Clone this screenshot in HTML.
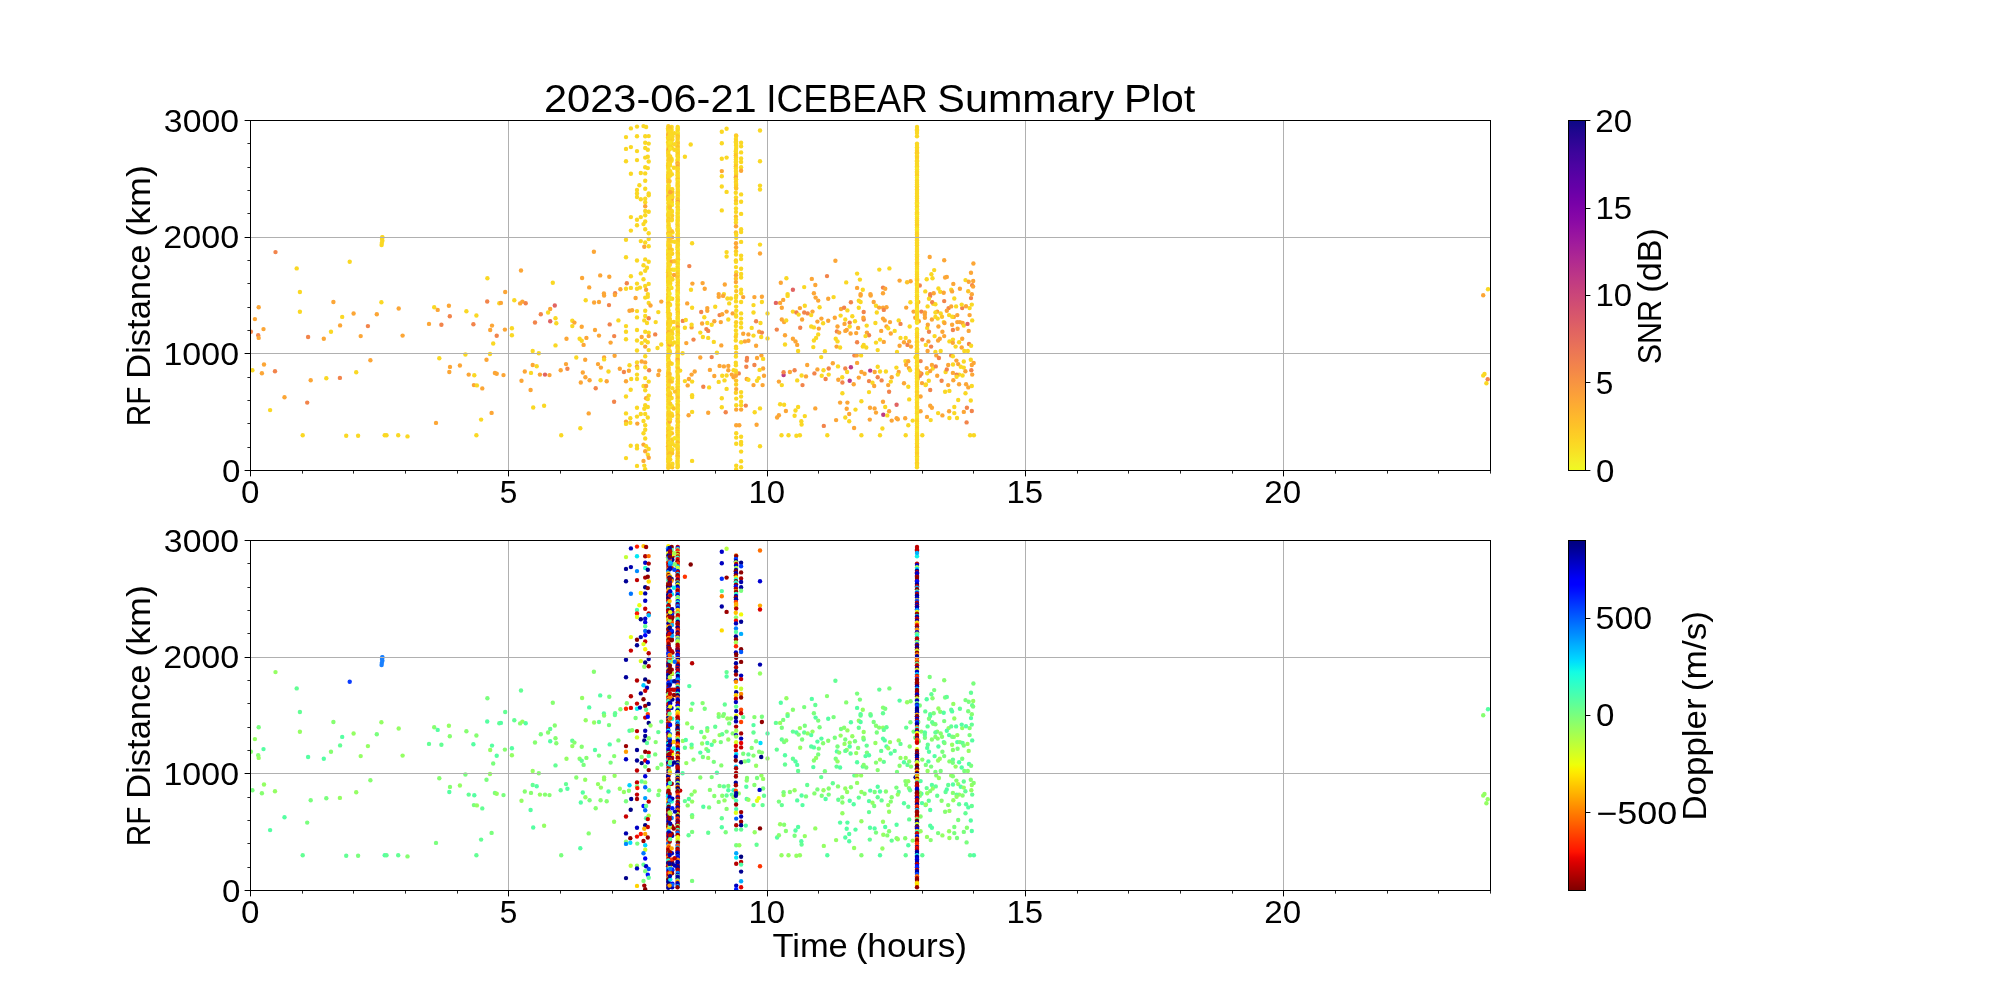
<!DOCTYPE html>
<html><head><meta charset="utf-8"><title>2023-06-21 ICEBEAR Summary Plot</title><style>html,body{margin:0;padding:0;background:#fff;width:2000px;height:1000px;overflow:hidden}</style></head><body>
<svg width="2000" height="1000" viewBox="0 0 2000 1000" style="display:block">
<rect width="2000" height="1000" fill="#fff"/>
<defs><clipPath id="clipTop"><rect x="250" y="120" width="1240" height="350"/></clipPath><clipPath id="clipBot"><rect x="250" y="540" width="1240" height="350"/></clipPath></defs>
<g clip-path="url(#clipTop)">
<circle cx="275.5" cy="252.1" r="2.2" fill="#f2844b"/>
<circle cx="296.7" cy="268.4" r="2.2" fill="#fad824"/>
<circle cx="349.7" cy="261.7" r="2.2" fill="#fad824"/>
<circle cx="382.4" cy="237.2" r="2.2" fill="#fad824"/>
<circle cx="382.4" cy="240.7" r="2.2" fill="#fad824"/>
<circle cx="381.6" cy="245.1" r="2.2" fill="#fad824"/>
<circle cx="487.4" cy="278.3" r="2.2" fill="#fad824"/>
<circle cx="299.9" cy="292.0" r="2.2" fill="#fad824"/>
<circle cx="258.7" cy="307.2" r="2.2" fill="#fca636"/>
<circle cx="254.9" cy="319.1" r="2.2" fill="#fca636"/>
<circle cx="263.5" cy="329.1" r="2.2" fill="#fca636"/>
<circle cx="250.9" cy="331.7" r="2.2" fill="#f2844b"/>
<circle cx="258.2" cy="335.2" r="2.2" fill="#f2844b"/>
<circle cx="258.7" cy="337.9" r="2.2" fill="#fca636"/>
<circle cx="299.9" cy="311.8" r="2.2" fill="#fad824"/>
<circle cx="333.4" cy="302.0" r="2.2" fill="#fca636"/>
<circle cx="308.1" cy="337.0" r="2.2" fill="#f2844b"/>
<circle cx="323.8" cy="338.7" r="2.2" fill="#fca636"/>
<circle cx="331.0" cy="331.7" r="2.2" fill="#fad824"/>
<circle cx="342.2" cy="316.9" r="2.2" fill="#fad824"/>
<circle cx="340.1" cy="325.4" r="2.2" fill="#fca636"/>
<circle cx="353.6" cy="313.5" r="2.2" fill="#fca636"/>
<circle cx="360.7" cy="336.1" r="2.2" fill="#fca636"/>
<circle cx="367.9" cy="326.1" r="2.2" fill="#f2844b"/>
<circle cx="376.8" cy="314.2" r="2.2" fill="#fca636"/>
<circle cx="381.4" cy="302.3" r="2.2" fill="#fad824"/>
<circle cx="398.7" cy="308.5" r="2.2" fill="#fca636"/>
<circle cx="402.6" cy="335.6" r="2.2" fill="#fca636"/>
<circle cx="429.0" cy="323.9" r="2.2" fill="#fca636"/>
<circle cx="434.2" cy="307.2" r="2.2" fill="#fad824"/>
<circle cx="437.7" cy="309.9" r="2.2" fill="#fca636"/>
<circle cx="441.4" cy="324.7" r="2.2" fill="#f2844b"/>
<circle cx="448.9" cy="305.8" r="2.2" fill="#fca636"/>
<circle cx="449.8" cy="316.2" r="2.2" fill="#f2844b"/>
<circle cx="466.4" cy="311.3" r="2.2" fill="#fad824"/>
<circle cx="473.4" cy="324.2" r="2.2" fill="#f2844b"/>
<circle cx="476.4" cy="315.5" r="2.2" fill="#fad824"/>
<circle cx="487.2" cy="301.5" r="2.2" fill="#f2844b"/>
<circle cx="492.0" cy="325.6" r="2.2" fill="#fca636"/>
<circle cx="490.2" cy="330.0" r="2.2" fill="#fca636"/>
<circle cx="496.7" cy="335.8" r="2.2" fill="#f2844b"/>
<circle cx="493.2" cy="343.5" r="2.2" fill="#fad824"/>
<circle cx="499.3" cy="303.2" r="2.2" fill="#fad824"/>
<circle cx="490.0" cy="354.0" r="2.2" fill="#fad824"/>
<circle cx="465.4" cy="354.5" r="2.2" fill="#fad824"/>
<circle cx="439.3" cy="358.3" r="2.2" fill="#fad824"/>
<circle cx="370.4" cy="360.3" r="2.2" fill="#fca636"/>
<circle cx="264.0" cy="364.5" r="2.2" fill="#fca636"/>
<circle cx="252.4" cy="370.2" r="2.2" fill="#fad824"/>
<circle cx="261.9" cy="373.2" r="2.2" fill="#fca636"/>
<circle cx="275.0" cy="371.3" r="2.2" fill="#f2844b"/>
<circle cx="310.7" cy="380.2" r="2.2" fill="#fca636"/>
<circle cx="326.3" cy="378.3" r="2.2" fill="#fad824"/>
<circle cx="339.9" cy="377.9" r="2.2" fill="#f2844b"/>
<circle cx="356.2" cy="372.2" r="2.2" fill="#fad824"/>
<circle cx="450.0" cy="366.9" r="2.2" fill="#fca636"/>
<circle cx="449.3" cy="372.0" r="2.2" fill="#fca636"/>
<circle cx="459.9" cy="365.5" r="2.2" fill="#fca636"/>
<circle cx="468.7" cy="374.6" r="2.2" fill="#fca636"/>
<circle cx="474.3" cy="375.3" r="2.2" fill="#fad824"/>
<circle cx="486.5" cy="359.7" r="2.2" fill="#fca636"/>
<circle cx="494.9" cy="373.0" r="2.2" fill="#fca636"/>
<circle cx="496.7" cy="373.7" r="2.2" fill="#fca636"/>
<circle cx="473.9" cy="385.1" r="2.2" fill="#fca636"/>
<circle cx="476.9" cy="385.4" r="2.2" fill="#fad824"/>
<circle cx="482.3" cy="388.4" r="2.2" fill="#fca636"/>
<circle cx="284.5" cy="397.3" r="2.2" fill="#fca636"/>
<circle cx="307.2" cy="402.6" r="2.2" fill="#f2844b"/>
<circle cx="270.1" cy="410.1" r="2.2" fill="#fad824"/>
<circle cx="491.6" cy="412.9" r="2.2" fill="#fca636"/>
<circle cx="481.1" cy="419.6" r="2.2" fill="#fad824"/>
<circle cx="436.0" cy="422.9" r="2.2" fill="#fca636"/>
<circle cx="302.7" cy="435.3" r="2.2" fill="#fad824"/>
<circle cx="346.2" cy="435.7" r="2.2" fill="#fad824"/>
<circle cx="358.1" cy="435.7" r="2.2" fill="#fad824"/>
<circle cx="384.7" cy="435.3" r="2.2" fill="#fad824"/>
<circle cx="386.5" cy="435.3" r="2.2" fill="#fad824"/>
<circle cx="398.2" cy="435.3" r="2.2" fill="#fad824"/>
<circle cx="407.5" cy="436.4" r="2.2" fill="#fad824"/>
<circle cx="476.4" cy="435.3" r="2.2" fill="#fad824"/>
<circle cx="521.0" cy="270.5" r="2.2" fill="#fca636"/>
<circle cx="505.2" cy="292.0" r="2.2" fill="#fca636"/>
<circle cx="552.8" cy="282.7" r="2.2" fill="#fad824"/>
<circle cx="582.1" cy="278.0" r="2.2" fill="#fca636"/>
<circle cx="593.9" cy="251.7" r="2.2" fill="#fca636"/>
<circle cx="589.2" cy="287.4" r="2.2" fill="#fca636"/>
<circle cx="600.2" cy="275.4" r="2.2" fill="#fca636"/>
<circle cx="609.3" cy="276.8" r="2.2" fill="#fca636"/>
<circle cx="603.9" cy="293.5" r="2.2" fill="#fca636"/>
<circle cx="615.1" cy="293.2" r="2.2" fill="#f2844b"/>
<circle cx="620.4" cy="289.3" r="2.2" fill="#fca636"/>
<circle cx="626.8" cy="283.2" r="2.2" fill="#f2844b"/>
<circle cx="626.0" cy="288.8" r="2.2" fill="#fad824"/>
<circle cx="630.9" cy="287.9" r="2.2" fill="#fad824"/>
<circle cx="626.0" cy="137.1" r="2.2" fill="#fad824"/>
<circle cx="626.0" cy="148.9" r="2.2" fill="#fad824"/>
<circle cx="626.0" cy="161.3" r="2.2" fill="#fad824"/>
<circle cx="626.0" cy="239.8" r="2.2" fill="#fad824"/>
<circle cx="626.0" cy="257.3" r="2.2" fill="#fad824"/>
<circle cx="630.9" cy="128.4" r="2.2" fill="#fad824"/>
<circle cx="630.9" cy="147.1" r="2.2" fill="#fad824"/>
<circle cx="630.9" cy="173.7" r="2.2" fill="#fad824"/>
<circle cx="630.9" cy="217.1" r="2.2" fill="#fad824"/>
<circle cx="630.9" cy="230.6" r="2.2" fill="#fad824"/>
<circle cx="630.9" cy="276.2" r="2.2" fill="#fad824"/>
<circle cx="637.0" cy="126.6" r="2.2" fill="#fad824"/>
<circle cx="637.0" cy="136.3" r="2.2" fill="#fad824"/>
<circle cx="637.0" cy="151.1" r="2.2" fill="#fad824"/>
<circle cx="637.0" cy="160.1" r="2.2" fill="#fad824"/>
<circle cx="639.4" cy="185.3" r="2.2" fill="#fad824"/>
<circle cx="637.0" cy="190.0" r="2.2" fill="#fad824"/>
<circle cx="637.0" cy="193.5" r="2.2" fill="#fad824"/>
<circle cx="637.0" cy="197.0" r="2.2" fill="#fad824"/>
<circle cx="637.0" cy="219.7" r="2.2" fill="#fad824"/>
<circle cx="637.0" cy="225.3" r="2.2" fill="#fad824"/>
<circle cx="637.0" cy="260.5" r="2.2" fill="#fad824"/>
<circle cx="637.0" cy="283.6" r="2.2" fill="#fad824"/>
<circle cx="637.0" cy="288.8" r="2.2" fill="#fad824"/>
<circle cx="640.8" cy="173.0" r="2.2" fill="#fad824"/>
<circle cx="640.8" cy="199.3" r="2.2" fill="#fad824"/>
<circle cx="640.8" cy="217.1" r="2.2" fill="#fad824"/>
<circle cx="640.8" cy="241.1" r="2.2" fill="#fad824"/>
<circle cx="640.8" cy="273.4" r="2.2" fill="#fad824"/>
<circle cx="640.0" cy="287.6" r="2.2" fill="#fad824"/>
<circle cx="643.5" cy="126.1" r="2.2" fill="#fad824"/>
<circle cx="646.1" cy="127.0" r="2.2" fill="#fad824"/>
<circle cx="645.2" cy="136.3" r="2.2" fill="#fad824"/>
<circle cx="648.7" cy="136.1" r="2.2" fill="#fad824"/>
<circle cx="645.2" cy="142.7" r="2.2" fill="#fad824"/>
<circle cx="648.7" cy="143.6" r="2.2" fill="#fad824"/>
<circle cx="645.2" cy="148.0" r="2.2" fill="#fad824"/>
<circle cx="647.8" cy="149.7" r="2.2" fill="#fad824"/>
<circle cx="645.2" cy="157.6" r="2.2" fill="#fad824"/>
<circle cx="647.8" cy="156.7" r="2.2" fill="#fad824"/>
<circle cx="648.7" cy="161.5" r="2.2" fill="#fad824"/>
<circle cx="645.2" cy="167.2" r="2.2" fill="#fad824"/>
<circle cx="647.8" cy="168.1" r="2.2" fill="#fad824"/>
<circle cx="645.2" cy="173.4" r="2.2" fill="#fad824"/>
<circle cx="645.2" cy="180.7" r="2.2" fill="#fad824"/>
<circle cx="645.2" cy="188.8" r="2.2" fill="#fad824"/>
<circle cx="648.7" cy="193.5" r="2.2" fill="#fad824"/>
<circle cx="648.7" cy="195.2" r="2.2" fill="#fad824"/>
<circle cx="645.2" cy="198.7" r="2.2" fill="#fad824"/>
<circle cx="645.2" cy="202.2" r="2.2" fill="#fad824"/>
<circle cx="645.2" cy="206.2" r="2.2" fill="#fca636"/>
<circle cx="645.2" cy="211.0" r="2.2" fill="#fad824"/>
<circle cx="648.7" cy="211.8" r="2.2" fill="#fad824"/>
<circle cx="645.2" cy="215.3" r="2.2" fill="#fad824"/>
<circle cx="645.2" cy="221.5" r="2.2" fill="#fad824"/>
<circle cx="643.5" cy="224.1" r="2.2" fill="#fad824"/>
<circle cx="645.2" cy="229.3" r="2.2" fill="#fad824"/>
<circle cx="648.7" cy="233.2" r="2.2" fill="#fad824"/>
<circle cx="648.7" cy="239.0" r="2.2" fill="#fad824"/>
<circle cx="645.2" cy="242.5" r="2.2" fill="#fad824"/>
<circle cx="644.3" cy="246.8" r="2.2" fill="#fca636"/>
<circle cx="648.7" cy="246.3" r="2.2" fill="#fad824"/>
<circle cx="643.5" cy="265.2" r="2.2" fill="#fad824"/>
<circle cx="645.2" cy="259.4" r="2.2" fill="#fad824"/>
<circle cx="648.7" cy="261.7" r="2.2" fill="#fad824"/>
<circle cx="647.0" cy="267.8" r="2.2" fill="#fad824"/>
<circle cx="645.2" cy="270.8" r="2.2" fill="#fad824"/>
<circle cx="643.5" cy="279.2" r="2.2" fill="#fad824"/>
<circle cx="648.7" cy="283.9" r="2.2" fill="#fad824"/>
<circle cx="645.2" cy="285.9" r="2.2" fill="#fad824"/>
<circle cx="646.1" cy="289.7" r="2.2" fill="#fca636"/>
<circle cx="647.8" cy="294.1" r="2.2" fill="#fad824"/>
<circle cx="690.7" cy="144.5" r="2.2" fill="#fad824"/>
<circle cx="684.9" cy="156.7" r="2.2" fill="#fad824"/>
<circle cx="692.1" cy="243.3" r="2.2" fill="#fad824"/>
<circle cx="689.3" cy="266.1" r="2.2" fill="#f2844b"/>
<circle cx="692.4" cy="283.6" r="2.2" fill="#fca636"/>
<circle cx="691.0" cy="289.7" r="2.2" fill="#fad824"/>
<circle cx="702.6" cy="283.1" r="2.2" fill="#fca636"/>
<circle cx="704.7" cy="288.8" r="2.2" fill="#fca636"/>
<circle cx="721.8" cy="131.7" r="2.2" fill="#fad824"/>
<circle cx="726.6" cy="128.7" r="2.2" fill="#fad824"/>
<circle cx="721.8" cy="143.3" r="2.2" fill="#fad824"/>
<circle cx="721.8" cy="158.7" r="2.2" fill="#fad824"/>
<circle cx="726.6" cy="157.6" r="2.2" fill="#fad824"/>
<circle cx="721.8" cy="171.1" r="2.2" fill="#fca636"/>
<circle cx="721.8" cy="176.2" r="2.2" fill="#fad824"/>
<circle cx="721.8" cy="186.5" r="2.2" fill="#fad824"/>
<circle cx="726.6" cy="191.9" r="2.2" fill="#fad824"/>
<circle cx="721.8" cy="210.4" r="2.2" fill="#fad824"/>
<circle cx="726.6" cy="252.1" r="2.2" fill="#fad824"/>
<circle cx="726.6" cy="256.5" r="2.2" fill="#fad824"/>
<circle cx="724.8" cy="284.5" r="2.2" fill="#fca636"/>
<circle cx="718.7" cy="294.1" r="2.2" fill="#fca636"/>
<circle cx="723.9" cy="294.1" r="2.2" fill="#fad824"/>
<circle cx="741.1" cy="142.7" r="2.2" fill="#fad824"/>
<circle cx="741.1" cy="146.2" r="2.2" fill="#fad824"/>
<circle cx="741.1" cy="152.4" r="2.2" fill="#fad824"/>
<circle cx="741.1" cy="158.5" r="2.2" fill="#fad824"/>
<circle cx="741.1" cy="162.0" r="2.2" fill="#fad824"/>
<circle cx="741.1" cy="167.2" r="2.2" fill="#fad824"/>
<circle cx="741.1" cy="170.7" r="2.2" fill="#fca636"/>
<circle cx="741.1" cy="194.4" r="2.2" fill="#fad824"/>
<circle cx="741.1" cy="201.7" r="2.2" fill="#fad824"/>
<circle cx="741.1" cy="213.9" r="2.2" fill="#fad824"/>
<circle cx="741.1" cy="229.3" r="2.2" fill="#fad824"/>
<circle cx="741.1" cy="232.0" r="2.2" fill="#fad824"/>
<circle cx="741.1" cy="241.9" r="2.2" fill="#fad824"/>
<circle cx="741.1" cy="255.6" r="2.2" fill="#fad824"/>
<circle cx="741.1" cy="259.1" r="2.2" fill="#fad824"/>
<circle cx="741.1" cy="268.7" r="2.2" fill="#fad824"/>
<circle cx="741.1" cy="274.0" r="2.2" fill="#fad824"/>
<circle cx="741.1" cy="277.5" r="2.2" fill="#fad824"/>
<circle cx="741.1" cy="289.7" r="2.2" fill="#fad824"/>
<circle cx="741.1" cy="293.2" r="2.2" fill="#fad824"/>
<circle cx="500.9" cy="302.9" r="2.2" fill="#fca636"/>
<circle cx="514.3" cy="300.2" r="2.2" fill="#fad824"/>
<circle cx="520.1" cy="303.4" r="2.2" fill="#fca636"/>
<circle cx="522.4" cy="301.6" r="2.2" fill="#fca636"/>
<circle cx="525.7" cy="303.2" r="2.2" fill="#f2844b"/>
<circle cx="554.8" cy="305.5" r="2.2" fill="#e16462"/>
<circle cx="550.2" cy="309.0" r="2.2" fill="#fca636"/>
<circle cx="548.1" cy="312.5" r="2.2" fill="#fad824"/>
<circle cx="540.8" cy="314.2" r="2.2" fill="#f2844b"/>
<circle cx="535.0" cy="322.5" r="2.2" fill="#f2844b"/>
<circle cx="550.2" cy="321.2" r="2.2" fill="#e16462"/>
<circle cx="555.5" cy="318.3" r="2.2" fill="#fad824"/>
<circle cx="556.3" cy="323.3" r="2.2" fill="#fad824"/>
<circle cx="504.9" cy="329.6" r="2.2" fill="#fca636"/>
<circle cx="511.9" cy="328.2" r="2.2" fill="#fad824"/>
<circle cx="511.9" cy="335.2" r="2.2" fill="#fad824"/>
<circle cx="555.5" cy="345.4" r="2.2" fill="#fad824"/>
<circle cx="532.7" cy="351.0" r="2.2" fill="#fad824"/>
<circle cx="538.8" cy="353.3" r="2.2" fill="#fad824"/>
<circle cx="585.7" cy="300.2" r="2.2" fill="#fad824"/>
<circle cx="594.1" cy="302.5" r="2.2" fill="#fca636"/>
<circle cx="599.0" cy="302.0" r="2.2" fill="#fca636"/>
<circle cx="604.1" cy="295.5" r="2.2" fill="#fca636"/>
<circle cx="609.0" cy="305.1" r="2.2" fill="#f2844b"/>
<circle cx="614.9" cy="295.0" r="2.2" fill="#fca636"/>
<circle cx="572.3" cy="320.7" r="2.2" fill="#fad824"/>
<circle cx="574.4" cy="322.6" r="2.2" fill="#fca636"/>
<circle cx="572.3" cy="326.1" r="2.2" fill="#fad824"/>
<circle cx="581.7" cy="326.8" r="2.2" fill="#fca636"/>
<circle cx="566.5" cy="338.7" r="2.2" fill="#fca636"/>
<circle cx="579.6" cy="338.7" r="2.2" fill="#fad824"/>
<circle cx="581.7" cy="340.8" r="2.2" fill="#fad824"/>
<circle cx="583.6" cy="344.9" r="2.2" fill="#fca636"/>
<circle cx="586.4" cy="337.9" r="2.2" fill="#fca636"/>
<circle cx="595.0" cy="330.0" r="2.2" fill="#fca636"/>
<circle cx="599.0" cy="335.6" r="2.2" fill="#fca636"/>
<circle cx="609.7" cy="324.4" r="2.2" fill="#f2844b"/>
<circle cx="614.2" cy="336.1" r="2.2" fill="#f2844b"/>
<circle cx="610.6" cy="342.6" r="2.2" fill="#fca636"/>
<circle cx="618.4" cy="320.4" r="2.2" fill="#fad824"/>
<circle cx="635.6" cy="298.0" r="2.2" fill="#fca636"/>
<circle cx="629.5" cy="310.7" r="2.2" fill="#fca636"/>
<circle cx="632.1" cy="310.2" r="2.2" fill="#fca636"/>
<circle cx="637.0" cy="311.1" r="2.2" fill="#fad824"/>
<circle cx="637.0" cy="317.4" r="2.2" fill="#fad824"/>
<circle cx="626.0" cy="326.1" r="2.2" fill="#fad824"/>
<circle cx="626.0" cy="331.7" r="2.2" fill="#fad824"/>
<circle cx="626.0" cy="339.3" r="2.2" fill="#fad824"/>
<circle cx="637.0" cy="330.0" r="2.2" fill="#fad824"/>
<circle cx="637.0" cy="340.5" r="2.2" fill="#fad824"/>
<circle cx="637.0" cy="350.5" r="2.2" fill="#fad824"/>
<circle cx="645.2" cy="297.6" r="2.2" fill="#fad824"/>
<circle cx="647.8" cy="296.7" r="2.2" fill="#fad824"/>
<circle cx="645.2" cy="310.7" r="2.2" fill="#fad824"/>
<circle cx="645.2" cy="316.0" r="2.2" fill="#fad824"/>
<circle cx="648.7" cy="302.9" r="2.2" fill="#fad824"/>
<circle cx="650.5" cy="305.5" r="2.2" fill="#fca636"/>
<circle cx="648.7" cy="318.3" r="2.2" fill="#f2844b"/>
<circle cx="644.3" cy="320.4" r="2.2" fill="#fad824"/>
<circle cx="647.0" cy="323.0" r="2.2" fill="#fad824"/>
<circle cx="645.2" cy="331.7" r="2.2" fill="#fad824"/>
<circle cx="648.7" cy="332.6" r="2.2" fill="#fad824"/>
<circle cx="641.7" cy="337.0" r="2.2" fill="#fca636"/>
<circle cx="648.7" cy="336.1" r="2.2" fill="#fca636"/>
<circle cx="645.2" cy="340.5" r="2.2" fill="#fad824"/>
<circle cx="647.8" cy="342.2" r="2.2" fill="#fad824"/>
<circle cx="641.7" cy="343.1" r="2.2" fill="#fad824"/>
<circle cx="645.2" cy="346.6" r="2.2" fill="#fca636"/>
<circle cx="648.7" cy="350.1" r="2.2" fill="#fad824"/>
<circle cx="661.3" cy="301.6" r="2.2" fill="#fca636"/>
<circle cx="658.3" cy="312.1" r="2.2" fill="#fad824"/>
<circle cx="655.7" cy="322.1" r="2.2" fill="#fad824"/>
<circle cx="655.2" cy="334.4" r="2.2" fill="#f2844b"/>
<circle cx="661.3" cy="344.5" r="2.2" fill="#fad824"/>
<circle cx="657.5" cy="348.0" r="2.2" fill="#fad824"/>
<circle cx="687.2" cy="303.4" r="2.2" fill="#fca636"/>
<circle cx="692.1" cy="307.8" r="2.2" fill="#fad824"/>
<circle cx="682.8" cy="320.9" r="2.2" fill="#f2844b"/>
<circle cx="685.8" cy="320.0" r="2.2" fill="#fad824"/>
<circle cx="684.9" cy="327.7" r="2.2" fill="#fad824"/>
<circle cx="691.6" cy="327.4" r="2.2" fill="#fca636"/>
<circle cx="691.6" cy="324.7" r="2.2" fill="#fad824"/>
<circle cx="686.3" cy="343.1" r="2.2" fill="#fca636"/>
<circle cx="693.5" cy="339.6" r="2.2" fill="#f2844b"/>
<circle cx="682.6" cy="353.3" r="2.2" fill="#fad824"/>
<circle cx="701.2" cy="312.0" r="2.2" fill="#f2844b"/>
<circle cx="707.3" cy="308.1" r="2.2" fill="#fca636"/>
<circle cx="707.3" cy="310.7" r="2.2" fill="#fca636"/>
<circle cx="704.3" cy="317.2" r="2.2" fill="#fad824"/>
<circle cx="702.1" cy="323.5" r="2.2" fill="#fca636"/>
<circle cx="707.3" cy="323.0" r="2.2" fill="#fad824"/>
<circle cx="711.7" cy="324.7" r="2.2" fill="#fad824"/>
<circle cx="714.3" cy="321.2" r="2.2" fill="#fca636"/>
<circle cx="715.2" cy="306.7" r="2.2" fill="#fad824"/>
<circle cx="706.4" cy="329.1" r="2.2" fill="#f2844b"/>
<circle cx="708.2" cy="330.9" r="2.2" fill="#f2844b"/>
<circle cx="700.3" cy="332.6" r="2.2" fill="#fad824"/>
<circle cx="702.9" cy="337.0" r="2.2" fill="#fad824"/>
<circle cx="708.2" cy="337.9" r="2.2" fill="#fad824"/>
<circle cx="713.8" cy="341.9" r="2.2" fill="#fad824"/>
<circle cx="721.3" cy="345.4" r="2.2" fill="#fca636"/>
<circle cx="718.7" cy="296.7" r="2.2" fill="#fca636"/>
<circle cx="723.1" cy="295.9" r="2.2" fill="#fca636"/>
<circle cx="727.4" cy="298.5" r="2.2" fill="#fad824"/>
<circle cx="729.2" cy="303.4" r="2.2" fill="#fad824"/>
<circle cx="719.6" cy="315.1" r="2.2" fill="#f2844b"/>
<circle cx="722.2" cy="314.2" r="2.2" fill="#fca636"/>
<circle cx="726.6" cy="311.6" r="2.2" fill="#fca636"/>
<circle cx="732.7" cy="313.4" r="2.2" fill="#fca636"/>
<circle cx="720.8" cy="322.1" r="2.2" fill="#fca636"/>
<circle cx="728.3" cy="319.5" r="2.2" fill="#fad824"/>
<circle cx="730.9" cy="298.5" r="2.2" fill="#fad824"/>
<circle cx="741.1" cy="302.0" r="2.2" fill="#fad824"/>
<circle cx="743.2" cy="297.1" r="2.2" fill="#fca636"/>
<circle cx="741.1" cy="313.4" r="2.2" fill="#fad824"/>
<circle cx="741.1" cy="318.6" r="2.2" fill="#fad824"/>
<circle cx="741.1" cy="323.0" r="2.2" fill="#fad824"/>
<circle cx="741.1" cy="327.4" r="2.2" fill="#fad824"/>
<circle cx="743.2" cy="333.8" r="2.2" fill="#fca636"/>
<circle cx="748.4" cy="334.4" r="2.2" fill="#fca636"/>
<circle cx="741.1" cy="342.2" r="2.2" fill="#fad824"/>
<circle cx="744.9" cy="341.4" r="2.2" fill="#fca636"/>
<circle cx="748.4" cy="340.8" r="2.2" fill="#fca636"/>
<circle cx="716.9" cy="352.7" r="2.2" fill="#fad824"/>
<circle cx="576.3" cy="357.5" r="2.2" fill="#fad824"/>
<circle cx="585.2" cy="359.7" r="2.2" fill="#fca636"/>
<circle cx="604.1" cy="357.5" r="2.2" fill="#fca636"/>
<circle cx="604.1" cy="359.4" r="2.2" fill="#fad824"/>
<circle cx="614.6" cy="355.7" r="2.2" fill="#fca636"/>
<circle cx="532.7" cy="365.0" r="2.2" fill="#fca636"/>
<circle cx="536.7" cy="366.2" r="2.2" fill="#fad824"/>
<circle cx="524.8" cy="371.5" r="2.2" fill="#fca636"/>
<circle cx="531.0" cy="372.9" r="2.2" fill="#fad824"/>
<circle cx="539.9" cy="374.6" r="2.2" fill="#fca636"/>
<circle cx="545.0" cy="374.6" r="2.2" fill="#e16462"/>
<circle cx="549.5" cy="375.1" r="2.2" fill="#fca636"/>
<circle cx="503.5" cy="375.1" r="2.2" fill="#fca636"/>
<circle cx="521.5" cy="380.7" r="2.2" fill="#fca636"/>
<circle cx="560.7" cy="370.2" r="2.2" fill="#fca636"/>
<circle cx="566.0" cy="364.1" r="2.2" fill="#fca636"/>
<circle cx="567.4" cy="368.8" r="2.2" fill="#f2844b"/>
<circle cx="582.8" cy="372.5" r="2.2" fill="#fca636"/>
<circle cx="585.4" cy="377.2" r="2.2" fill="#fca636"/>
<circle cx="589.6" cy="380.2" r="2.2" fill="#fca636"/>
<circle cx="580.8" cy="382.5" r="2.2" fill="#fca636"/>
<circle cx="598.0" cy="364.1" r="2.2" fill="#fca636"/>
<circle cx="600.9" cy="367.6" r="2.2" fill="#fca636"/>
<circle cx="608.5" cy="371.5" r="2.2" fill="#fad824"/>
<circle cx="600.6" cy="380.2" r="2.2" fill="#fad824"/>
<circle cx="606.7" cy="381.2" r="2.2" fill="#fca636"/>
<circle cx="595.7" cy="388.2" r="2.2" fill="#f2844b"/>
<circle cx="530.6" cy="390.0" r="2.2" fill="#fca636"/>
<circle cx="533.2" cy="407.5" r="2.2" fill="#fad824"/>
<circle cx="544.1" cy="405.7" r="2.2" fill="#fad824"/>
<circle cx="588.7" cy="413.4" r="2.2" fill="#fca636"/>
<circle cx="614.1" cy="401.7" r="2.2" fill="#f2844b"/>
<circle cx="580.3" cy="428.3" r="2.2" fill="#fad824"/>
<circle cx="561.2" cy="435.3" r="2.2" fill="#fad824"/>
<circle cx="619.8" cy="368.8" r="2.2" fill="#fca636"/>
<circle cx="623.9" cy="372.0" r="2.2" fill="#f2844b"/>
<circle cx="628.9" cy="370.8" r="2.2" fill="#fca636"/>
<circle cx="629.5" cy="365.3" r="2.2" fill="#fad824"/>
<circle cx="626.0" cy="381.2" r="2.2" fill="#fca636"/>
<circle cx="631.2" cy="379.0" r="2.2" fill="#fad824"/>
<circle cx="630.7" cy="389.8" r="2.2" fill="#fad824"/>
<circle cx="626.0" cy="396.5" r="2.2" fill="#fad824"/>
<circle cx="626.0" cy="413.4" r="2.2" fill="#fad824"/>
<circle cx="630.3" cy="418.3" r="2.2" fill="#fad824"/>
<circle cx="630.3" cy="422.7" r="2.2" fill="#fad824"/>
<circle cx="626.0" cy="421.8" r="2.2" fill="#fca636"/>
<circle cx="626.0" cy="423.9" r="2.2" fill="#fad824"/>
<circle cx="637.0" cy="362.4" r="2.2" fill="#fad824"/>
<circle cx="637.0" cy="366.4" r="2.2" fill="#fca636"/>
<circle cx="637.3" cy="368.1" r="2.2" fill="#fad824"/>
<circle cx="637.0" cy="374.6" r="2.2" fill="#fad824"/>
<circle cx="637.0" cy="379.0" r="2.2" fill="#fad824"/>
<circle cx="637.0" cy="407.8" r="2.2" fill="#fad824"/>
<circle cx="640.8" cy="414.0" r="2.2" fill="#fad824"/>
<circle cx="637.0" cy="416.6" r="2.2" fill="#fad824"/>
<circle cx="637.3" cy="423.6" r="2.2" fill="#fca636"/>
<circle cx="641.7" cy="361.5" r="2.2" fill="#fca636"/>
<circle cx="645.2" cy="362.4" r="2.2" fill="#fca636"/>
<circle cx="645.2" cy="356.2" r="2.2" fill="#fad824"/>
<circle cx="645.2" cy="367.3" r="2.2" fill="#fad824"/>
<circle cx="649.1" cy="370.2" r="2.2" fill="#f2844b"/>
<circle cx="645.2" cy="378.1" r="2.2" fill="#fad824"/>
<circle cx="648.7" cy="381.6" r="2.2" fill="#fad824"/>
<circle cx="643.5" cy="386.0" r="2.2" fill="#fad824"/>
<circle cx="646.1" cy="386.0" r="2.2" fill="#fca636"/>
<circle cx="645.2" cy="390.3" r="2.2" fill="#fad824"/>
<circle cx="648.7" cy="395.6" r="2.2" fill="#fad824"/>
<circle cx="646.1" cy="398.2" r="2.2" fill="#fca636"/>
<circle cx="647.8" cy="399.1" r="2.2" fill="#fad824"/>
<circle cx="645.2" cy="405.2" r="2.2" fill="#fad824"/>
<circle cx="647.8" cy="407.0" r="2.2" fill="#fad824"/>
<circle cx="644.3" cy="408.7" r="2.2" fill="#fad824"/>
<circle cx="645.2" cy="414.0" r="2.2" fill="#fad824"/>
<circle cx="647.8" cy="417.5" r="2.2" fill="#fad824"/>
<circle cx="643.5" cy="421.0" r="2.2" fill="#fad824"/>
<circle cx="645.2" cy="425.3" r="2.2" fill="#fad824"/>
<circle cx="645.2" cy="429.7" r="2.2" fill="#fad824"/>
<circle cx="643.5" cy="433.2" r="2.2" fill="#fad824"/>
<circle cx="645.2" cy="438.5" r="2.2" fill="#fad824"/>
<circle cx="643.5" cy="444.6" r="2.2" fill="#fca636"/>
<circle cx="646.1" cy="446.3" r="2.2" fill="#fad824"/>
<circle cx="648.7" cy="449.0" r="2.2" fill="#fad824"/>
<circle cx="645.2" cy="451.2" r="2.2" fill="#fca636"/>
<circle cx="647.8" cy="454.7" r="2.2" fill="#fad824"/>
<circle cx="648.7" cy="457.7" r="2.2" fill="#fca636"/>
<circle cx="643.5" cy="460.9" r="2.2" fill="#fca636"/>
<circle cx="644.3" cy="465.6" r="2.2" fill="#fad824"/>
<circle cx="645.2" cy="469.1" r="2.2" fill="#fad824"/>
<circle cx="630.7" cy="445.8" r="2.2" fill="#fad824"/>
<circle cx="637.0" cy="445.8" r="2.2" fill="#fad824"/>
<circle cx="637.0" cy="448.4" r="2.2" fill="#fad824"/>
<circle cx="626.0" cy="458.1" r="2.2" fill="#fad824"/>
<circle cx="637.0" cy="465.9" r="2.2" fill="#fad824"/>
<circle cx="659.2" cy="370.6" r="2.2" fill="#fca636"/>
<circle cx="658.3" cy="375.0" r="2.2" fill="#fca636"/>
<circle cx="680.2" cy="370.6" r="2.2" fill="#fad824"/>
<circle cx="684.9" cy="381.1" r="2.2" fill="#fad824"/>
<circle cx="688.9" cy="379.0" r="2.2" fill="#fca636"/>
<circle cx="691.6" cy="374.6" r="2.2" fill="#fca636"/>
<circle cx="694.7" cy="371.5" r="2.2" fill="#fca636"/>
<circle cx="687.7" cy="385.4" r="2.2" fill="#fca636"/>
<circle cx="692.1" cy="381.6" r="2.2" fill="#fad824"/>
<circle cx="692.1" cy="395.2" r="2.2" fill="#fad824"/>
<circle cx="692.1" cy="397.0" r="2.2" fill="#fad824"/>
<circle cx="688.6" cy="415.2" r="2.2" fill="#fca636"/>
<circle cx="692.1" cy="411.9" r="2.2" fill="#fad824"/>
<circle cx="692.1" cy="460.9" r="2.2" fill="#fad824"/>
<circle cx="700.3" cy="357.5" r="2.2" fill="#fca636"/>
<circle cx="711.7" cy="357.1" r="2.2" fill="#f2844b"/>
<circle cx="709.9" cy="369.9" r="2.2" fill="#fca636"/>
<circle cx="714.3" cy="376.0" r="2.2" fill="#fca636"/>
<circle cx="709.1" cy="387.4" r="2.2" fill="#fad824"/>
<circle cx="703.3" cy="386.8" r="2.2" fill="#f2844b"/>
<circle cx="708.2" cy="412.7" r="2.2" fill="#fca636"/>
<circle cx="719.6" cy="365.9" r="2.2" fill="#fca636"/>
<circle cx="723.9" cy="366.4" r="2.2" fill="#fca636"/>
<circle cx="728.3" cy="365.9" r="2.2" fill="#fca636"/>
<circle cx="728.3" cy="370.2" r="2.2" fill="#fca636"/>
<circle cx="733.6" cy="370.2" r="2.2" fill="#fad824"/>
<circle cx="722.2" cy="375.8" r="2.2" fill="#fad824"/>
<circle cx="726.6" cy="375.5" r="2.2" fill="#fad824"/>
<circle cx="731.8" cy="374.6" r="2.2" fill="#fca636"/>
<circle cx="733.6" cy="377.2" r="2.2" fill="#fca636"/>
<circle cx="738.8" cy="373.4" r="2.2" fill="#f2844b"/>
<circle cx="718.7" cy="381.9" r="2.2" fill="#fad824"/>
<circle cx="724.5" cy="380.4" r="2.2" fill="#fad824"/>
<circle cx="726.6" cy="388.9" r="2.2" fill="#fad824"/>
<circle cx="721.8" cy="398.2" r="2.2" fill="#fad824"/>
<circle cx="721.8" cy="407.3" r="2.2" fill="#fad824"/>
<circle cx="725.7" cy="412.2" r="2.2" fill="#f2844b"/>
<circle cx="736.2" cy="425.3" r="2.2" fill="#fca636"/>
<circle cx="739.3" cy="425.3" r="2.2" fill="#fca636"/>
<circle cx="736.2" cy="433.2" r="2.2" fill="#fad824"/>
<circle cx="736.2" cy="437.6" r="2.2" fill="#fad824"/>
<circle cx="736.2" cy="443.7" r="2.2" fill="#fad824"/>
<circle cx="741.1" cy="392.1" r="2.2" fill="#fad824"/>
<circle cx="741.1" cy="396.5" r="2.2" fill="#fad824"/>
<circle cx="741.1" cy="401.7" r="2.2" fill="#fad824"/>
<circle cx="741.1" cy="405.2" r="2.2" fill="#fad824"/>
<circle cx="741.1" cy="409.6" r="2.2" fill="#fca636"/>
<circle cx="736.2" cy="398.6" r="2.2" fill="#fad824"/>
<circle cx="736.2" cy="405.2" r="2.2" fill="#fad824"/>
<circle cx="736.2" cy="409.6" r="2.2" fill="#fca636"/>
<circle cx="741.1" cy="436.7" r="2.2" fill="#fad824"/>
<circle cx="741.1" cy="442.0" r="2.2" fill="#fad824"/>
<circle cx="741.1" cy="444.6" r="2.2" fill="#fad824"/>
<circle cx="741.1" cy="451.6" r="2.2" fill="#fad824"/>
<circle cx="741.1" cy="461.2" r="2.2" fill="#fad824"/>
<circle cx="741.1" cy="467.3" r="2.2" fill="#fad824"/>
<circle cx="736.2" cy="465.6" r="2.2" fill="#fad824"/>
<circle cx="736.2" cy="469.1" r="2.2" fill="#fad824"/>
<circle cx="747.0" cy="358.0" r="2.2" fill="#f2844b"/>
<circle cx="746.7" cy="360.6" r="2.2" fill="#f2844b"/>
<circle cx="746.3" cy="366.7" r="2.2" fill="#f2844b"/>
<circle cx="746.7" cy="379.0" r="2.2" fill="#fca636"/>
<circle cx="745.8" cy="405.6" r="2.2" fill="#f2844b"/>
<circle cx="748.4" cy="379.8" r="2.2" fill="#fad824"/>
<circle cx="760.0" cy="130.5" r="2.2" fill="#fad824"/>
<circle cx="760.0" cy="161.3" r="2.2" fill="#fad824"/>
<circle cx="760.0" cy="185.6" r="2.2" fill="#fad824"/>
<circle cx="760.0" cy="189.5" r="2.2" fill="#fad824"/>
<circle cx="760.0" cy="244.6" r="2.2" fill="#fad824"/>
<circle cx="760.0" cy="253.5" r="2.2" fill="#fca636"/>
<circle cx="835.4" cy="260.8" r="2.2" fill="#fca636"/>
<circle cx="879.3" cy="269.6" r="2.2" fill="#fad824"/>
<circle cx="889.4" cy="268.4" r="2.2" fill="#fad824"/>
<circle cx="857.1" cy="273.6" r="2.2" fill="#fad824"/>
<circle cx="859.9" cy="279.6" r="2.2" fill="#fad824"/>
<circle cx="827.0" cy="276.1" r="2.2" fill="#f2844b"/>
<circle cx="811.8" cy="278.9" r="2.2" fill="#fca636"/>
<circle cx="815.3" cy="285.0" r="2.2" fill="#fca636"/>
<circle cx="786.4" cy="278.3" r="2.2" fill="#fad824"/>
<circle cx="780.8" cy="282.7" r="2.2" fill="#fca636"/>
<circle cx="804.2" cy="287.1" r="2.2" fill="#fad824"/>
<circle cx="792.9" cy="289.7" r="2.2" fill="#e16462"/>
<circle cx="846.2" cy="282.4" r="2.2" fill="#fad824"/>
<circle cx="857.1" cy="287.9" r="2.2" fill="#fca636"/>
<circle cx="862.8" cy="289.7" r="2.2" fill="#fad824"/>
<circle cx="883.0" cy="287.6" r="2.2" fill="#f2844b"/>
<circle cx="885.2" cy="288.8" r="2.2" fill="#fca636"/>
<circle cx="899.6" cy="280.6" r="2.2" fill="#fca636"/>
<circle cx="910.6" cy="281.3" r="2.2" fill="#fca636"/>
<circle cx="813.9" cy="293.2" r="2.2" fill="#fca636"/>
<circle cx="787.6" cy="294.1" r="2.2" fill="#fad824"/>
<circle cx="860.6" cy="294.1" r="2.2" fill="#fca636"/>
<circle cx="870.4" cy="294.1" r="2.2" fill="#fca636"/>
<circle cx="883.0" cy="293.2" r="2.2" fill="#fca636"/>
<circle cx="929.7" cy="257.0" r="2.2" fill="#fca636"/>
<circle cx="944.2" cy="260.3" r="2.2" fill="#fca636"/>
<circle cx="973.4" cy="263.5" r="2.2" fill="#fca636"/>
<circle cx="934.2" cy="270.1" r="2.2" fill="#fad824"/>
<circle cx="931.4" cy="274.3" r="2.2" fill="#fad824"/>
<circle cx="932.5" cy="278.3" r="2.2" fill="#fad824"/>
<circle cx="926.7" cy="279.2" r="2.2" fill="#fad824"/>
<circle cx="945.1" cy="277.5" r="2.2" fill="#fca636"/>
<circle cx="946.8" cy="276.9" r="2.2" fill="#fca636"/>
<circle cx="971.0" cy="272.7" r="2.2" fill="#fca636"/>
<circle cx="953.3" cy="283.9" r="2.2" fill="#fca636"/>
<circle cx="965.5" cy="280.1" r="2.2" fill="#fad824"/>
<circle cx="968.7" cy="281.8" r="2.2" fill="#fca636"/>
<circle cx="972.2" cy="285.3" r="2.2" fill="#f2844b"/>
<circle cx="973.1" cy="286.6" r="2.2" fill="#fca636"/>
<circle cx="925.3" cy="291.4" r="2.2" fill="#fad824"/>
<circle cx="930.2" cy="294.1" r="2.2" fill="#f2844b"/>
<circle cx="933.7" cy="293.2" r="2.2" fill="#fca636"/>
<circle cx="938.4" cy="288.5" r="2.2" fill="#fad824"/>
<circle cx="940.2" cy="291.8" r="2.2" fill="#fad824"/>
<circle cx="943.7" cy="292.8" r="2.2" fill="#fca636"/>
<circle cx="951.2" cy="289.7" r="2.2" fill="#fad824"/>
<circle cx="952.1" cy="291.4" r="2.2" fill="#fca636"/>
<circle cx="959.9" cy="288.8" r="2.2" fill="#fca636"/>
<circle cx="754.4" cy="297.1" r="2.2" fill="#fca636"/>
<circle cx="761.9" cy="296.7" r="2.2" fill="#fca636"/>
<circle cx="761.9" cy="302.0" r="2.2" fill="#fad824"/>
<circle cx="753.5" cy="305.1" r="2.2" fill="#fad824"/>
<circle cx="753.5" cy="312.5" r="2.2" fill="#fad824"/>
<circle cx="767.5" cy="313.4" r="2.2" fill="#fad824"/>
<circle cx="775.9" cy="302.9" r="2.2" fill="#e16462"/>
<circle cx="780.1" cy="302.9" r="2.2" fill="#fca636"/>
<circle cx="783.2" cy="299.9" r="2.2" fill="#fca636"/>
<circle cx="787.6" cy="295.9" r="2.2" fill="#fad824"/>
<circle cx="781.8" cy="307.8" r="2.2" fill="#fca636"/>
<circle cx="792.9" cy="311.6" r="2.2" fill="#fad824"/>
<circle cx="796.4" cy="312.5" r="2.2" fill="#f2844b"/>
<circle cx="798.6" cy="314.6" r="2.2" fill="#fad824"/>
<circle cx="799.9" cy="308.1" r="2.2" fill="#fca636"/>
<circle cx="804.8" cy="305.8" r="2.2" fill="#fad824"/>
<circle cx="804.2" cy="312.5" r="2.2" fill="#f2844b"/>
<circle cx="807.7" cy="313.4" r="2.2" fill="#f2844b"/>
<circle cx="812.5" cy="311.6" r="2.2" fill="#fca636"/>
<circle cx="811.2" cy="315.1" r="2.2" fill="#fad824"/>
<circle cx="815.6" cy="297.6" r="2.2" fill="#fca636"/>
<circle cx="818.2" cy="300.6" r="2.2" fill="#fca636"/>
<circle cx="819.6" cy="307.2" r="2.2" fill="#fad824"/>
<circle cx="828.2" cy="298.8" r="2.2" fill="#fca636"/>
<circle cx="833.6" cy="297.1" r="2.2" fill="#fad824"/>
<circle cx="841.0" cy="309.0" r="2.2" fill="#fca636"/>
<circle cx="844.1" cy="307.8" r="2.2" fill="#f2844b"/>
<circle cx="847.4" cy="310.4" r="2.2" fill="#fad824"/>
<circle cx="850.9" cy="302.3" r="2.2" fill="#f2844b"/>
<circle cx="858.8" cy="300.8" r="2.2" fill="#fad824"/>
<circle cx="860.6" cy="302.0" r="2.2" fill="#fad824"/>
<circle cx="858.8" cy="307.8" r="2.2" fill="#fad824"/>
<circle cx="863.7" cy="312.0" r="2.2" fill="#f2844b"/>
<circle cx="873.7" cy="302.0" r="2.2" fill="#fca636"/>
<circle cx="876.0" cy="305.8" r="2.2" fill="#fad824"/>
<circle cx="879.1" cy="307.6" r="2.2" fill="#fca636"/>
<circle cx="883.0" cy="307.6" r="2.2" fill="#fca636"/>
<circle cx="886.5" cy="307.2" r="2.2" fill="#fca636"/>
<circle cx="883.8" cy="309.9" r="2.2" fill="#f2844b"/>
<circle cx="876.8" cy="312.5" r="2.2" fill="#fad824"/>
<circle cx="870.7" cy="295.5" r="2.2" fill="#fca636"/>
<circle cx="860.6" cy="295.5" r="2.2" fill="#fca636"/>
<circle cx="906.2" cy="307.6" r="2.2" fill="#fca636"/>
<circle cx="910.4" cy="302.3" r="2.2" fill="#fad824"/>
<circle cx="913.6" cy="311.6" r="2.2" fill="#fca636"/>
<circle cx="918.3" cy="302.0" r="2.2" fill="#fca636"/>
<circle cx="921.4" cy="311.6" r="2.2" fill="#f2844b"/>
<circle cx="924.9" cy="312.5" r="2.2" fill="#fca636"/>
<circle cx="930.2" cy="295.9" r="2.2" fill="#f2844b"/>
<circle cx="927.6" cy="306.4" r="2.2" fill="#fad824"/>
<circle cx="929.0" cy="298.8" r="2.2" fill="#fad824"/>
<circle cx="933.2" cy="303.7" r="2.2" fill="#fad824"/>
<circle cx="937.2" cy="311.6" r="2.2" fill="#fca636"/>
<circle cx="944.2" cy="301.1" r="2.2" fill="#f2844b"/>
<circle cx="948.6" cy="308.1" r="2.2" fill="#f2844b"/>
<circle cx="951.2" cy="306.4" r="2.2" fill="#fca636"/>
<circle cx="954.3" cy="298.5" r="2.2" fill="#fad824"/>
<circle cx="956.1" cy="306.4" r="2.2" fill="#fad824"/>
<circle cx="962.2" cy="308.1" r="2.2" fill="#f2844b"/>
<circle cx="961.7" cy="304.6" r="2.2" fill="#fad824"/>
<circle cx="969.6" cy="308.1" r="2.2" fill="#fad824"/>
<circle cx="971.0" cy="298.1" r="2.2" fill="#f2844b"/>
<circle cx="971.8" cy="304.6" r="2.2" fill="#fad824"/>
<circle cx="935.4" cy="312.5" r="2.2" fill="#fad824"/>
<circle cx="940.7" cy="313.4" r="2.2" fill="#fad824"/>
<circle cx="946.8" cy="310.7" r="2.2" fill="#fca636"/>
<circle cx="756.1" cy="321.2" r="2.2" fill="#f2844b"/>
<circle cx="760.5" cy="323.0" r="2.2" fill="#fad824"/>
<circle cx="751.7" cy="327.9" r="2.2" fill="#fad824"/>
<circle cx="759.1" cy="331.7" r="2.2" fill="#fca636"/>
<circle cx="761.9" cy="332.6" r="2.2" fill="#f2844b"/>
<circle cx="753.5" cy="335.6" r="2.2" fill="#fad824"/>
<circle cx="761.2" cy="337.0" r="2.2" fill="#fad824"/>
<circle cx="767.5" cy="338.4" r="2.2" fill="#fad824"/>
<circle cx="781.8" cy="319.5" r="2.2" fill="#fca636"/>
<circle cx="784.1" cy="322.1" r="2.2" fill="#fca636"/>
<circle cx="786.2" cy="320.4" r="2.2" fill="#fad824"/>
<circle cx="776.8" cy="329.6" r="2.2" fill="#f2844b"/>
<circle cx="785.0" cy="335.2" r="2.2" fill="#fca636"/>
<circle cx="802.1" cy="319.5" r="2.2" fill="#fca636"/>
<circle cx="800.2" cy="327.7" r="2.2" fill="#f2844b"/>
<circle cx="811.2" cy="326.5" r="2.2" fill="#fad824"/>
<circle cx="813.9" cy="327.4" r="2.2" fill="#fad824"/>
<circle cx="817.4" cy="321.6" r="2.2" fill="#fca636"/>
<circle cx="818.8" cy="328.6" r="2.2" fill="#fca636"/>
<circle cx="821.4" cy="318.6" r="2.2" fill="#fca636"/>
<circle cx="823.1" cy="323.3" r="2.2" fill="#fad824"/>
<circle cx="828.2" cy="320.7" r="2.2" fill="#fca636"/>
<circle cx="834.8" cy="317.7" r="2.2" fill="#fca636"/>
<circle cx="840.6" cy="315.6" r="2.2" fill="#fad824"/>
<circle cx="837.5" cy="326.5" r="2.2" fill="#fca636"/>
<circle cx="836.9" cy="331.4" r="2.2" fill="#f2844b"/>
<circle cx="844.5" cy="323.9" r="2.2" fill="#fca636"/>
<circle cx="845.3" cy="319.5" r="2.2" fill="#fad824"/>
<circle cx="849.7" cy="322.6" r="2.2" fill="#f2844b"/>
<circle cx="849.7" cy="326.5" r="2.2" fill="#fad824"/>
<circle cx="846.7" cy="330.0" r="2.2" fill="#fca636"/>
<circle cx="852.3" cy="316.3" r="2.2" fill="#fad824"/>
<circle cx="855.0" cy="321.2" r="2.2" fill="#fad824"/>
<circle cx="858.1" cy="327.9" r="2.2" fill="#fca636"/>
<circle cx="856.2" cy="333.1" r="2.2" fill="#fca636"/>
<circle cx="863.7" cy="319.5" r="2.2" fill="#f2844b"/>
<circle cx="863.4" cy="317.7" r="2.2" fill="#fca636"/>
<circle cx="866.7" cy="325.6" r="2.2" fill="#fad824"/>
<circle cx="866.9" cy="332.6" r="2.2" fill="#fca636"/>
<circle cx="869.0" cy="335.2" r="2.2" fill="#f2844b"/>
<circle cx="875.4" cy="323.0" r="2.2" fill="#fad824"/>
<circle cx="881.2" cy="330.9" r="2.2" fill="#fca636"/>
<circle cx="883.0" cy="318.6" r="2.2" fill="#fca636"/>
<circle cx="884.7" cy="320.4" r="2.2" fill="#fca636"/>
<circle cx="886.5" cy="326.5" r="2.2" fill="#fca636"/>
<circle cx="888.2" cy="328.2" r="2.2" fill="#fad824"/>
<circle cx="890.0" cy="322.1" r="2.2" fill="#fca636"/>
<circle cx="890.8" cy="333.5" r="2.2" fill="#fca636"/>
<circle cx="894.7" cy="330.9" r="2.2" fill="#fad824"/>
<circle cx="898.7" cy="320.4" r="2.2" fill="#fad824"/>
<circle cx="900.5" cy="323.9" r="2.2" fill="#f2844b"/>
<circle cx="909.7" cy="326.5" r="2.2" fill="#fad824"/>
<circle cx="915.3" cy="317.7" r="2.2" fill="#fca636"/>
<circle cx="918.8" cy="321.2" r="2.2" fill="#fca636"/>
<circle cx="924.9" cy="317.7" r="2.2" fill="#fca636"/>
<circle cx="927.2" cy="327.9" r="2.2" fill="#fad824"/>
<circle cx="929.0" cy="331.7" r="2.2" fill="#f2844b"/>
<circle cx="931.9" cy="319.5" r="2.2" fill="#fca636"/>
<circle cx="935.4" cy="316.9" r="2.2" fill="#fad824"/>
<circle cx="938.4" cy="326.5" r="2.2" fill="#fca636"/>
<circle cx="937.7" cy="318.6" r="2.2" fill="#fad824"/>
<circle cx="942.4" cy="331.7" r="2.2" fill="#fca636"/>
<circle cx="943.8" cy="322.1" r="2.2" fill="#fad824"/>
<circle cx="949.1" cy="315.1" r="2.2" fill="#fad824"/>
<circle cx="952.1" cy="324.7" r="2.2" fill="#fca636"/>
<circle cx="952.9" cy="330.0" r="2.2" fill="#f2844b"/>
<circle cx="953.8" cy="316.9" r="2.2" fill="#fca636"/>
<circle cx="957.3" cy="315.1" r="2.2" fill="#fca636"/>
<circle cx="957.3" cy="322.1" r="2.2" fill="#fca636"/>
<circle cx="959.9" cy="322.1" r="2.2" fill="#fca636"/>
<circle cx="962.6" cy="323.0" r="2.2" fill="#fca636"/>
<circle cx="963.8" cy="325.6" r="2.2" fill="#fad824"/>
<circle cx="967.5" cy="323.9" r="2.2" fill="#e16462"/>
<circle cx="969.6" cy="315.1" r="2.2" fill="#fca636"/>
<circle cx="968.7" cy="330.9" r="2.2" fill="#fca636"/>
<circle cx="972.2" cy="320.4" r="2.2" fill="#fad824"/>
<circle cx="756.1" cy="345.7" r="2.2" fill="#fca636"/>
<circle cx="785.0" cy="344.5" r="2.2" fill="#fad824"/>
<circle cx="792.9" cy="338.7" r="2.2" fill="#fca636"/>
<circle cx="795.5" cy="341.4" r="2.2" fill="#fca636"/>
<circle cx="797.2" cy="344.9" r="2.2" fill="#fca636"/>
<circle cx="798.1" cy="351.0" r="2.2" fill="#fad824"/>
<circle cx="813.9" cy="340.5" r="2.2" fill="#fad824"/>
<circle cx="816.1" cy="337.9" r="2.2" fill="#fad824"/>
<circle cx="818.2" cy="334.4" r="2.2" fill="#fad824"/>
<circle cx="813.3" cy="347.1" r="2.2" fill="#fad824"/>
<circle cx="824.9" cy="351.3" r="2.2" fill="#fad824"/>
<circle cx="835.7" cy="338.7" r="2.2" fill="#fad824"/>
<circle cx="837.5" cy="341.4" r="2.2" fill="#fad824"/>
<circle cx="836.6" cy="346.6" r="2.2" fill="#fca636"/>
<circle cx="840.1" cy="347.5" r="2.2" fill="#fad824"/>
<circle cx="839.2" cy="332.6" r="2.2" fill="#fca636"/>
<circle cx="845.3" cy="330.9" r="2.2" fill="#fca636"/>
<circle cx="850.6" cy="333.5" r="2.2" fill="#fca636"/>
<circle cx="857.1" cy="342.2" r="2.2" fill="#f2844b"/>
<circle cx="862.8" cy="346.6" r="2.2" fill="#fad824"/>
<circle cx="863.7" cy="344.9" r="2.2" fill="#fad824"/>
<circle cx="866.3" cy="347.5" r="2.2" fill="#fad824"/>
<circle cx="865.5" cy="336.1" r="2.2" fill="#fad824"/>
<circle cx="876.0" cy="342.6" r="2.2" fill="#fad824"/>
<circle cx="880.0" cy="339.6" r="2.2" fill="#fad824"/>
<circle cx="883.8" cy="341.9" r="2.2" fill="#fca636"/>
<circle cx="877.7" cy="350.1" r="2.2" fill="#fad824"/>
<circle cx="897.0" cy="351.9" r="2.2" fill="#fad824"/>
<circle cx="899.6" cy="345.7" r="2.2" fill="#fca636"/>
<circle cx="900.5" cy="337.9" r="2.2" fill="#fad824"/>
<circle cx="904.0" cy="342.2" r="2.2" fill="#fca636"/>
<circle cx="905.7" cy="337.9" r="2.2" fill="#fad824"/>
<circle cx="907.5" cy="344.9" r="2.2" fill="#f2844b"/>
<circle cx="909.2" cy="341.4" r="2.2" fill="#fca636"/>
<circle cx="911.0" cy="346.6" r="2.2" fill="#fca636"/>
<circle cx="925.8" cy="344.9" r="2.2" fill="#fad824"/>
<circle cx="922.3" cy="339.6" r="2.2" fill="#f2844b"/>
<circle cx="928.4" cy="341.4" r="2.2" fill="#fca636"/>
<circle cx="931.1" cy="346.6" r="2.2" fill="#f2844b"/>
<circle cx="927.6" cy="351.0" r="2.2" fill="#fca636"/>
<circle cx="934.6" cy="336.1" r="2.2" fill="#fad824"/>
<circle cx="938.1" cy="340.5" r="2.2" fill="#fca636"/>
<circle cx="939.8" cy="338.7" r="2.2" fill="#fca636"/>
<circle cx="944.2" cy="336.1" r="2.2" fill="#fca636"/>
<circle cx="949.4" cy="341.4" r="2.2" fill="#fad824"/>
<circle cx="952.9" cy="339.6" r="2.2" fill="#fad824"/>
<circle cx="955.6" cy="346.6" r="2.2" fill="#fad824"/>
<circle cx="959.1" cy="342.2" r="2.2" fill="#fad824"/>
<circle cx="962.2" cy="338.7" r="2.2" fill="#fca636"/>
<circle cx="961.7" cy="347.5" r="2.2" fill="#fca636"/>
<circle cx="964.3" cy="351.0" r="2.2" fill="#fad824"/>
<circle cx="967.8" cy="351.0" r="2.2" fill="#fad824"/>
<circle cx="969.0" cy="344.0" r="2.2" fill="#f2844b"/>
<circle cx="935.4" cy="351.9" r="2.2" fill="#fad824"/>
<circle cx="940.7" cy="351.0" r="2.2" fill="#fad824"/>
<circle cx="757.0" cy="358.0" r="2.2" fill="#fca636"/>
<circle cx="761.4" cy="355.4" r="2.2" fill="#fca636"/>
<circle cx="763.1" cy="358.9" r="2.2" fill="#fad824"/>
<circle cx="754.4" cy="365.0" r="2.2" fill="#f2844b"/>
<circle cx="763.1" cy="368.5" r="2.2" fill="#fca636"/>
<circle cx="759.6" cy="369.9" r="2.2" fill="#fad824"/>
<circle cx="764.0" cy="375.8" r="2.2" fill="#fca636"/>
<circle cx="758.7" cy="378.1" r="2.2" fill="#fad824"/>
<circle cx="757.0" cy="380.7" r="2.2" fill="#fad824"/>
<circle cx="753.5" cy="385.1" r="2.2" fill="#fca636"/>
<circle cx="762.6" cy="385.1" r="2.2" fill="#fca636"/>
<circle cx="783.6" cy="375.1" r="2.2" fill="#bd3a85"/>
<circle cx="783.6" cy="372.3" r="2.2" fill="#f2844b"/>
<circle cx="778.9" cy="381.6" r="2.2" fill="#fca636"/>
<circle cx="781.8" cy="385.1" r="2.2" fill="#fad824"/>
<circle cx="789.9" cy="372.0" r="2.2" fill="#fca636"/>
<circle cx="794.6" cy="370.2" r="2.2" fill="#f2844b"/>
<circle cx="797.2" cy="380.4" r="2.2" fill="#fad824"/>
<circle cx="801.6" cy="375.5" r="2.2" fill="#fad824"/>
<circle cx="806.0" cy="376.4" r="2.2" fill="#fca636"/>
<circle cx="802.5" cy="385.1" r="2.2" fill="#f2844b"/>
<circle cx="807.2" cy="365.0" r="2.2" fill="#fca636"/>
<circle cx="814.4" cy="373.4" r="2.2" fill="#f2844b"/>
<circle cx="817.4" cy="369.4" r="2.2" fill="#fca636"/>
<circle cx="821.7" cy="375.8" r="2.2" fill="#fad824"/>
<circle cx="823.5" cy="370.2" r="2.2" fill="#fad824"/>
<circle cx="828.7" cy="368.5" r="2.2" fill="#f2844b"/>
<circle cx="828.7" cy="374.6" r="2.2" fill="#fad824"/>
<circle cx="825.6" cy="379.0" r="2.2" fill="#f2844b"/>
<circle cx="821.2" cy="357.1" r="2.2" fill="#fad824"/>
<circle cx="832.8" cy="363.2" r="2.2" fill="#fca636"/>
<circle cx="838.0" cy="366.4" r="2.2" fill="#fad824"/>
<circle cx="838.3" cy="379.8" r="2.2" fill="#fca636"/>
<circle cx="842.4" cy="382.5" r="2.2" fill="#f2844b"/>
<circle cx="842.2" cy="377.2" r="2.2" fill="#fad824"/>
<circle cx="845.3" cy="368.5" r="2.2" fill="#f2844b"/>
<circle cx="847.1" cy="372.0" r="2.2" fill="#fad824"/>
<circle cx="850.9" cy="367.3" r="2.2" fill="#bd3a85"/>
<circle cx="849.7" cy="380.7" r="2.2" fill="#bd3a85"/>
<circle cx="853.7" cy="384.2" r="2.2" fill="#fca636"/>
<circle cx="854.4" cy="355.4" r="2.2" fill="#f2844b"/>
<circle cx="856.7" cy="355.4" r="2.2" fill="#fca636"/>
<circle cx="861.1" cy="355.4" r="2.2" fill="#fad824"/>
<circle cx="857.1" cy="362.9" r="2.2" fill="#fca636"/>
<circle cx="858.8" cy="377.6" r="2.2" fill="#fca636"/>
<circle cx="861.4" cy="372.0" r="2.2" fill="#fca636"/>
<circle cx="864.6" cy="373.7" r="2.2" fill="#fca636"/>
<circle cx="870.2" cy="370.6" r="2.2" fill="#bd3a85"/>
<circle cx="869.0" cy="381.1" r="2.2" fill="#f2844b"/>
<circle cx="872.5" cy="382.8" r="2.2" fill="#fad824"/>
<circle cx="874.7" cy="372.0" r="2.2" fill="#fca636"/>
<circle cx="874.2" cy="386.0" r="2.2" fill="#fca636"/>
<circle cx="877.7" cy="366.7" r="2.2" fill="#fad824"/>
<circle cx="880.0" cy="371.5" r="2.2" fill="#fad824"/>
<circle cx="877.7" cy="377.2" r="2.2" fill="#f2844b"/>
<circle cx="881.6" cy="380.4" r="2.2" fill="#f2844b"/>
<circle cx="885.9" cy="371.5" r="2.2" fill="#fad824"/>
<circle cx="888.2" cy="385.1" r="2.2" fill="#fca636"/>
<circle cx="890.8" cy="381.6" r="2.2" fill="#fad824"/>
<circle cx="891.7" cy="377.2" r="2.2" fill="#fca636"/>
<circle cx="896.4" cy="367.6" r="2.2" fill="#fad824"/>
<circle cx="898.7" cy="372.0" r="2.2" fill="#fca636"/>
<circle cx="897.8" cy="374.6" r="2.2" fill="#fad824"/>
<circle cx="889.1" cy="391.7" r="2.2" fill="#f2844b"/>
<circle cx="904.0" cy="383.3" r="2.2" fill="#fca636"/>
<circle cx="905.4" cy="361.1" r="2.2" fill="#fad824"/>
<circle cx="908.9" cy="368.1" r="2.2" fill="#fca636"/>
<circle cx="910.1" cy="370.2" r="2.2" fill="#fad824"/>
<circle cx="908.3" cy="386.8" r="2.2" fill="#fad824"/>
<circle cx="920.6" cy="361.1" r="2.2" fill="#f2844b"/>
<circle cx="921.4" cy="373.7" r="2.2" fill="#f2844b"/>
<circle cx="926.7" cy="368.1" r="2.2" fill="#fca636"/>
<circle cx="927.2" cy="373.2" r="2.2" fill="#fad824"/>
<circle cx="931.9" cy="365.0" r="2.2" fill="#fca636"/>
<circle cx="932.8" cy="368.5" r="2.2" fill="#fad824"/>
<circle cx="935.8" cy="366.4" r="2.2" fill="#f2844b"/>
<circle cx="930.2" cy="371.1" r="2.2" fill="#fca636"/>
<circle cx="937.2" cy="375.8" r="2.2" fill="#fca636"/>
<circle cx="941.6" cy="380.7" r="2.2" fill="#f2844b"/>
<circle cx="928.8" cy="380.7" r="2.2" fill="#fad824"/>
<circle cx="925.5" cy="385.1" r="2.2" fill="#fad824"/>
<circle cx="930.2" cy="390.0" r="2.2" fill="#f2844b"/>
<circle cx="936.3" cy="355.4" r="2.2" fill="#fca636"/>
<circle cx="938.9" cy="358.0" r="2.2" fill="#f2844b"/>
<circle cx="945.6" cy="372.0" r="2.2" fill="#fad824"/>
<circle cx="946.8" cy="369.4" r="2.2" fill="#f2844b"/>
<circle cx="948.2" cy="365.0" r="2.2" fill="#fca636"/>
<circle cx="951.2" cy="355.4" r="2.2" fill="#f2844b"/>
<circle cx="952.9" cy="356.2" r="2.2" fill="#fad824"/>
<circle cx="956.4" cy="360.6" r="2.2" fill="#fca636"/>
<circle cx="958.2" cy="364.1" r="2.2" fill="#fca636"/>
<circle cx="963.8" cy="361.5" r="2.2" fill="#fad824"/>
<circle cx="960.8" cy="366.7" r="2.2" fill="#fad824"/>
<circle cx="952.9" cy="372.9" r="2.2" fill="#fca636"/>
<circle cx="959.1" cy="374.6" r="2.2" fill="#fad824"/>
<circle cx="962.6" cy="375.5" r="2.2" fill="#fad824"/>
<circle cx="963.8" cy="367.6" r="2.2" fill="#fad824"/>
<circle cx="970.8" cy="359.7" r="2.2" fill="#fad824"/>
<circle cx="971.8" cy="365.0" r="2.2" fill="#fca636"/>
<circle cx="971.3" cy="370.2" r="2.2" fill="#f2844b"/>
<circle cx="972.2" cy="374.6" r="2.2" fill="#fca636"/>
<circle cx="953.3" cy="380.2" r="2.2" fill="#fca636"/>
<circle cx="959.1" cy="384.2" r="2.2" fill="#fca636"/>
<circle cx="948.2" cy="385.1" r="2.2" fill="#fca636"/>
<circle cx="945.1" cy="391.7" r="2.2" fill="#fad824"/>
<circle cx="949.4" cy="390.9" r="2.2" fill="#fad824"/>
<circle cx="966.1" cy="384.2" r="2.2" fill="#fca636"/>
<circle cx="968.3" cy="387.4" r="2.2" fill="#fca636"/>
<circle cx="971.8" cy="386.0" r="2.2" fill="#fad824"/>
<circle cx="760.0" cy="408.4" r="2.2" fill="#fad824"/>
<circle cx="754.7" cy="412.2" r="2.2" fill="#fad824"/>
<circle cx="756.6" cy="424.8" r="2.2" fill="#fca636"/>
<circle cx="760.0" cy="446.3" r="2.2" fill="#fad824"/>
<circle cx="780.1" cy="404.3" r="2.2" fill="#fad824"/>
<circle cx="784.1" cy="404.7" r="2.2" fill="#fad824"/>
<circle cx="785.9" cy="411.0" r="2.2" fill="#fca636"/>
<circle cx="777.1" cy="417.5" r="2.2" fill="#fca636"/>
<circle cx="778.9" cy="415.2" r="2.2" fill="#fca636"/>
<circle cx="795.5" cy="410.5" r="2.2" fill="#fad824"/>
<circle cx="798.1" cy="407.0" r="2.2" fill="#fad824"/>
<circle cx="794.6" cy="415.7" r="2.2" fill="#fad824"/>
<circle cx="804.8" cy="416.1" r="2.2" fill="#fad824"/>
<circle cx="801.3" cy="421.3" r="2.2" fill="#fad824"/>
<circle cx="801.6" cy="424.5" r="2.2" fill="#fad824"/>
<circle cx="815.3" cy="408.4" r="2.2" fill="#fca636"/>
<circle cx="823.8" cy="425.9" r="2.2" fill="#f2844b"/>
<circle cx="836.1" cy="420.1" r="2.2" fill="#fca636"/>
<circle cx="840.1" cy="402.6" r="2.2" fill="#fca636"/>
<circle cx="842.4" cy="393.3" r="2.2" fill="#fad824"/>
<circle cx="847.4" cy="402.6" r="2.2" fill="#fca636"/>
<circle cx="846.7" cy="408.7" r="2.2" fill="#fca636"/>
<circle cx="849.2" cy="414.0" r="2.2" fill="#fca636"/>
<circle cx="845.3" cy="417.5" r="2.2" fill="#fad824"/>
<circle cx="849.2" cy="421.3" r="2.2" fill="#fad824"/>
<circle cx="855.5" cy="409.6" r="2.2" fill="#fad824"/>
<circle cx="854.1" cy="428.0" r="2.2" fill="#fca636"/>
<circle cx="861.4" cy="401.2" r="2.2" fill="#fad824"/>
<circle cx="870.0" cy="407.8" r="2.2" fill="#fca636"/>
<circle cx="874.6" cy="408.4" r="2.2" fill="#fca636"/>
<circle cx="876.0" cy="412.6" r="2.2" fill="#fca636"/>
<circle cx="869.8" cy="419.6" r="2.2" fill="#fca636"/>
<circle cx="869.0" cy="392.1" r="2.2" fill="#fad824"/>
<circle cx="883.0" cy="401.7" r="2.2" fill="#fca636"/>
<circle cx="885.2" cy="407.0" r="2.2" fill="#fad824"/>
<circle cx="889.1" cy="411.3" r="2.2" fill="#fca636"/>
<circle cx="883.3" cy="414.8" r="2.2" fill="#bd3a85"/>
<circle cx="887.3" cy="415.4" r="2.2" fill="#fad824"/>
<circle cx="896.6" cy="404.7" r="2.2" fill="#e16462"/>
<circle cx="891.7" cy="420.6" r="2.2" fill="#fca636"/>
<circle cx="896.6" cy="418.3" r="2.2" fill="#fca636"/>
<circle cx="897.8" cy="419.2" r="2.2" fill="#fca636"/>
<circle cx="905.2" cy="418.3" r="2.2" fill="#fca636"/>
<circle cx="909.2" cy="399.4" r="2.2" fill="#fad824"/>
<circle cx="912.7" cy="420.6" r="2.2" fill="#fad824"/>
<circle cx="908.3" cy="425.3" r="2.2" fill="#fad824"/>
<circle cx="882.4" cy="428.5" r="2.2" fill="#fad824"/>
<circle cx="930.2" cy="405.7" r="2.2" fill="#fca636"/>
<circle cx="931.9" cy="407.8" r="2.2" fill="#fca636"/>
<circle cx="938.1" cy="413.1" r="2.2" fill="#fad824"/>
<circle cx="942.4" cy="415.4" r="2.2" fill="#fca636"/>
<circle cx="927.0" cy="416.9" r="2.2" fill="#fca636"/>
<circle cx="930.7" cy="420.1" r="2.2" fill="#fad824"/>
<circle cx="949.1" cy="411.3" r="2.2" fill="#fca636"/>
<circle cx="949.4" cy="418.0" r="2.2" fill="#fad824"/>
<circle cx="954.3" cy="407.0" r="2.2" fill="#fad824"/>
<circle cx="954.3" cy="413.1" r="2.2" fill="#fad824"/>
<circle cx="957.0" cy="418.0" r="2.2" fill="#fad824"/>
<circle cx="958.2" cy="400.0" r="2.2" fill="#fad824"/>
<circle cx="963.8" cy="411.9" r="2.2" fill="#fca636"/>
<circle cx="966.9" cy="407.8" r="2.2" fill="#f2844b"/>
<circle cx="965.5" cy="393.3" r="2.2" fill="#fad824"/>
<circle cx="970.8" cy="400.5" r="2.2" fill="#fad824"/>
<circle cx="971.8" cy="411.0" r="2.2" fill="#f2844b"/>
<circle cx="966.6" cy="422.4" r="2.2" fill="#f2844b"/>
<circle cx="920.6" cy="396.5" r="2.2" fill="#fca636"/>
<circle cx="920.6" cy="411.3" r="2.2" fill="#fca636"/>
<circle cx="781.5" cy="435.3" r="2.2" fill="#fad824"/>
<circle cx="788.5" cy="435.3" r="2.2" fill="#fad824"/>
<circle cx="796.4" cy="435.8" r="2.2" fill="#fad824"/>
<circle cx="799.9" cy="435.3" r="2.2" fill="#fad824"/>
<circle cx="827.3" cy="435.3" r="2.2" fill="#fad824"/>
<circle cx="861.4" cy="435.3" r="2.2" fill="#fad824"/>
<circle cx="880.0" cy="435.3" r="2.2" fill="#fad824"/>
<circle cx="905.7" cy="435.3" r="2.2" fill="#fad824"/>
<circle cx="922.3" cy="435.3" r="2.2" fill="#fad824"/>
<circle cx="970.1" cy="435.3" r="2.2" fill="#fad824"/>
<circle cx="973.9" cy="435.3" r="2.2" fill="#fad824"/>
<circle cx="1488.0" cy="289.2" r="2.2" fill="#fad824"/>
<circle cx="1483.2" cy="295.3" r="2.2" fill="#fca636"/>
<circle cx="1484.5" cy="374.0" r="2.2" fill="#fad824"/>
<circle cx="1483.2" cy="375.6" r="2.2" fill="#fad824"/>
<circle cx="1487.7" cy="379.3" r="2.2" fill="#f2844b"/>
<circle cx="1486.4" cy="383.3" r="2.2" fill="#fad824"/>
<circle cx="382.0" cy="239.0" r="2.2" fill="#fad824"/>
<circle cx="381.8" cy="243.0" r="2.2" fill="#fad824"/>
<circle cx="382.3" cy="237.5" r="2.2" fill="#fad824"/>
<circle cx="917.7" cy="378.7" r="2.2" fill="#fca636"/>
<circle cx="956.6" cy="374.8" r="2.2" fill="#f2844b"/>
<circle cx="956.6" cy="376.8" r="2.2" fill="#fad824"/>
<circle cx="942.0" cy="316.8" r="2.2" fill="#fdc328"/>
<circle cx="922.0" cy="383.1" r="2.2" fill="#fca636"/>
<circle cx="919.9" cy="375.8" r="2.2" fill="#f2844b"/>
<circle cx="932.2" cy="302.3" r="2.2" fill="#f2844b"/>
<circle cx="968.2" cy="291.3" r="2.2" fill="#fdc328"/>
<circle cx="906.1" cy="364.7" r="2.2" fill="#fca636"/>
<circle cx="952.2" cy="316.8" r="2.2" fill="#fad824"/>
<circle cx="944.5" cy="323.0" r="2.2" fill="#fca636"/>
<circle cx="971.1" cy="345.8" r="2.2" fill="#fad824"/>
<circle cx="907.1" cy="282.2" r="2.2" fill="#fdc328"/>
<circle cx="935.4" cy="304.3" r="2.2" fill="#fad824"/>
<circle cx="927.8" cy="324.7" r="2.2" fill="#fca636"/>
<circle cx="925.9" cy="384.4" r="2.2" fill="#fad824"/>
<circle cx="973.7" cy="363.0" r="2.2" fill="#fca636"/>
<circle cx="965.4" cy="371.3" r="2.2" fill="#fca636"/>
<circle cx="971.8" cy="294.3" r="2.2" fill="#fca636"/>
<circle cx="924.8" cy="314.8" r="2.2" fill="#fca636"/>
<circle cx="966.0" cy="306.2" r="2.2" fill="#fca636"/>
<circle cx="952.8" cy="342.7" r="2.2" fill="#fca636"/>
<circle cx="919.8" cy="285.5" r="2.2" fill="#f2844b"/>
<circle cx="919.7" cy="372.8" r="2.2" fill="#fca636"/>
<circle cx="908.2" cy="361.3" r="2.2" fill="#fca636"/>
<circle cx="917.8" cy="370.7" r="2.2" fill="#fca636"/>
<circle cx="953.0" cy="364.5" r="2.2" fill="#fad824"/>
<circle cx="973.2" cy="281.0" r="2.2" fill="#fca636"/>
<circle cx="915.6" cy="357.3" r="2.2" fill="#fad824"/>
<circle cx="957.6" cy="328.8" r="2.2" fill="#fca636"/>
<circle cx="668.3" cy="126.3" r="2.2" fill="#fcce25"/>
<circle cx="668.1" cy="128.3" r="2.2" fill="#fad824"/>
<circle cx="668.1" cy="129.7" r="2.2" fill="#fad824"/>
<circle cx="668.4" cy="130.7" r="2.2" fill="#fad824"/>
<circle cx="668.4" cy="133.1" r="2.2" fill="#fad824"/>
<circle cx="668.2" cy="134.3" r="2.2" fill="#fdc328"/>
<circle cx="668.4" cy="135.5" r="2.2" fill="#fca636"/>
<circle cx="668.1" cy="137.6" r="2.2" fill="#fad824"/>
<circle cx="668.2" cy="138.2" r="2.2" fill="#fad824"/>
<circle cx="668.6" cy="139.7" r="2.2" fill="#fad824"/>
<circle cx="668.5" cy="141.5" r="2.2" fill="#fad824"/>
<circle cx="668.1" cy="142.6" r="2.2" fill="#fad824"/>
<circle cx="668.5" cy="144.5" r="2.2" fill="#fad824"/>
<circle cx="668.5" cy="146.0" r="2.2" fill="#fad824"/>
<circle cx="668.6" cy="147.8" r="2.2" fill="#fad824"/>
<circle cx="668.4" cy="149.1" r="2.2" fill="#fdc328"/>
<circle cx="668.5" cy="150.3" r="2.2" fill="#fca636"/>
<circle cx="668.2" cy="151.9" r="2.2" fill="#fcce25"/>
<circle cx="668.2" cy="153.5" r="2.2" fill="#fad824"/>
<circle cx="668.5" cy="155.3" r="2.2" fill="#fad824"/>
<circle cx="668.6" cy="156.3" r="2.2" fill="#fcce25"/>
<circle cx="668.5" cy="158.1" r="2.2" fill="#fad824"/>
<circle cx="668.6" cy="160.0" r="2.2" fill="#fad824"/>
<circle cx="668.5" cy="160.4" r="2.2" fill="#fcce25"/>
<circle cx="668.5" cy="163.0" r="2.2" fill="#f7e425"/>
<circle cx="668.3" cy="163.8" r="2.2" fill="#fcce25"/>
<circle cx="668.1" cy="165.4" r="2.2" fill="#fad824"/>
<circle cx="668.2" cy="166.4" r="2.2" fill="#fcce25"/>
<circle cx="668.2" cy="168.1" r="2.2" fill="#fad824"/>
<circle cx="668.6" cy="169.4" r="2.2" fill="#fad824"/>
<circle cx="668.4" cy="171.8" r="2.2" fill="#f7e425"/>
<circle cx="668.6" cy="172.6" r="2.2" fill="#fad824"/>
<circle cx="668.3" cy="174.8" r="2.2" fill="#fdc328"/>
<circle cx="668.2" cy="175.4" r="2.2" fill="#fad824"/>
<circle cx="668.2" cy="177.3" r="2.2" fill="#fad824"/>
<circle cx="668.3" cy="178.2" r="2.2" fill="#fad824"/>
<circle cx="668.3" cy="180.4" r="2.2" fill="#fdc328"/>
<circle cx="668.5" cy="181.8" r="2.2" fill="#fad824"/>
<circle cx="668.5" cy="182.7" r="2.2" fill="#fdc328"/>
<circle cx="668.6" cy="185.2" r="2.2" fill="#f7e425"/>
<circle cx="668.3" cy="186.1" r="2.2" fill="#fad824"/>
<circle cx="668.5" cy="187.2" r="2.2" fill="#fad824"/>
<circle cx="668.2" cy="188.8" r="2.2" fill="#fad824"/>
<circle cx="668.1" cy="190.1" r="2.2" fill="#fad824"/>
<circle cx="668.2" cy="192.0" r="2.2" fill="#fad824"/>
<circle cx="668.6" cy="193.8" r="2.2" fill="#fad824"/>
<circle cx="668.3" cy="195.0" r="2.2" fill="#fad824"/>
<circle cx="668.2" cy="197.0" r="2.2" fill="#fca636"/>
<circle cx="668.4" cy="198.1" r="2.2" fill="#fad824"/>
<circle cx="668.2" cy="199.4" r="2.2" fill="#fad824"/>
<circle cx="668.6" cy="200.7" r="2.2" fill="#fad824"/>
<circle cx="668.7" cy="202.6" r="2.2" fill="#fad824"/>
<circle cx="668.4" cy="203.5" r="2.2" fill="#fad824"/>
<circle cx="668.7" cy="206.0" r="2.2" fill="#fcce25"/>
<circle cx="668.3" cy="206.9" r="2.2" fill="#fad824"/>
<circle cx="668.6" cy="208.6" r="2.2" fill="#fcce25"/>
<circle cx="668.3" cy="209.7" r="2.2" fill="#f7e425"/>
<circle cx="668.7" cy="211.9" r="2.2" fill="#f7e425"/>
<circle cx="668.6" cy="213.3" r="2.2" fill="#fad824"/>
<circle cx="668.4" cy="214.3" r="2.2" fill="#fad824"/>
<circle cx="668.1" cy="215.7" r="2.2" fill="#fad824"/>
<circle cx="668.5" cy="218.0" r="2.2" fill="#fad824"/>
<circle cx="668.7" cy="219.5" r="2.2" fill="#fdc328"/>
<circle cx="668.3" cy="220.1" r="2.2" fill="#fad824"/>
<circle cx="668.2" cy="221.6" r="2.2" fill="#fcce25"/>
<circle cx="668.6" cy="223.8" r="2.2" fill="#fad824"/>
<circle cx="668.5" cy="225.2" r="2.2" fill="#fad824"/>
<circle cx="668.5" cy="226.9" r="2.2" fill="#fcce25"/>
<circle cx="668.6" cy="227.8" r="2.2" fill="#fad824"/>
<circle cx="668.6" cy="229.1" r="2.2" fill="#f7e425"/>
<circle cx="668.7" cy="230.7" r="2.2" fill="#fad824"/>
<circle cx="668.7" cy="232.6" r="2.2" fill="#fad824"/>
<circle cx="668.2" cy="233.4" r="2.2" fill="#fdc328"/>
<circle cx="668.6" cy="234.9" r="2.2" fill="#f7e425"/>
<circle cx="668.7" cy="237.0" r="2.2" fill="#fad824"/>
<circle cx="668.4" cy="237.8" r="2.2" fill="#fad824"/>
<circle cx="668.7" cy="239.9" r="2.2" fill="#fad824"/>
<circle cx="668.7" cy="241.2" r="2.2" fill="#fdc328"/>
<circle cx="668.6" cy="242.4" r="2.2" fill="#fad824"/>
<circle cx="668.3" cy="243.9" r="2.2" fill="#fad824"/>
<circle cx="668.3" cy="245.6" r="2.2" fill="#fad824"/>
<circle cx="668.6" cy="247.0" r="2.2" fill="#fad824"/>
<circle cx="668.5" cy="249.2" r="2.2" fill="#fad824"/>
<circle cx="668.7" cy="250.2" r="2.2" fill="#fad824"/>
<circle cx="668.4" cy="251.1" r="2.2" fill="#fad824"/>
<circle cx="668.2" cy="252.5" r="2.2" fill="#f7e425"/>
<circle cx="668.2" cy="254.6" r="2.2" fill="#fcce25"/>
<circle cx="668.4" cy="255.9" r="2.2" fill="#fad824"/>
<circle cx="668.4" cy="257.9" r="2.2" fill="#fad824"/>
<circle cx="668.4" cy="258.8" r="2.2" fill="#fad824"/>
<circle cx="668.6" cy="260.6" r="2.2" fill="#fad824"/>
<circle cx="668.6" cy="262.5" r="2.2" fill="#fad824"/>
<circle cx="668.5" cy="263.6" r="2.2" fill="#fad824"/>
<circle cx="668.5" cy="265.0" r="2.2" fill="#fad824"/>
<circle cx="668.4" cy="267.0" r="2.2" fill="#fcce25"/>
<circle cx="668.6" cy="268.5" r="2.2" fill="#fad824"/>
<circle cx="668.4" cy="270.0" r="2.2" fill="#f7e425"/>
<circle cx="668.2" cy="270.5" r="2.2" fill="#fad824"/>
<circle cx="668.1" cy="272.2" r="2.2" fill="#fad824"/>
<circle cx="668.5" cy="274.3" r="2.2" fill="#fdc328"/>
<circle cx="668.2" cy="275.7" r="2.2" fill="#fcce25"/>
<circle cx="668.2" cy="277.4" r="2.2" fill="#fdc328"/>
<circle cx="668.2" cy="279.0" r="2.2" fill="#fad824"/>
<circle cx="668.4" cy="280.5" r="2.2" fill="#f7e425"/>
<circle cx="668.2" cy="281.3" r="2.2" fill="#fad824"/>
<circle cx="668.3" cy="282.5" r="2.2" fill="#fad824"/>
<circle cx="668.5" cy="283.8" r="2.2" fill="#fad824"/>
<circle cx="668.4" cy="285.3" r="2.2" fill="#fad824"/>
<circle cx="668.5" cy="287.3" r="2.2" fill="#fad824"/>
<circle cx="668.7" cy="289.2" r="2.2" fill="#fca636"/>
<circle cx="668.2" cy="290.0" r="2.2" fill="#fad824"/>
<circle cx="668.6" cy="291.5" r="2.2" fill="#fad824"/>
<circle cx="668.4" cy="293.8" r="2.2" fill="#f7e425"/>
<circle cx="668.3" cy="294.4" r="2.2" fill="#fdc328"/>
<circle cx="668.4" cy="296.5" r="2.2" fill="#fad824"/>
<circle cx="668.1" cy="298.0" r="2.2" fill="#fad824"/>
<circle cx="668.1" cy="299.8" r="2.2" fill="#fcce25"/>
<circle cx="668.6" cy="300.2" r="2.2" fill="#f7e425"/>
<circle cx="668.1" cy="302.6" r="2.2" fill="#fad824"/>
<circle cx="668.3" cy="303.8" r="2.2" fill="#fdc328"/>
<circle cx="668.3" cy="304.7" r="2.2" fill="#fad824"/>
<circle cx="668.2" cy="306.2" r="2.2" fill="#fad824"/>
<circle cx="668.1" cy="307.8" r="2.2" fill="#fad824"/>
<circle cx="668.3" cy="309.9" r="2.2" fill="#fad824"/>
<circle cx="668.4" cy="310.7" r="2.2" fill="#fad824"/>
<circle cx="668.1" cy="312.3" r="2.2" fill="#fad824"/>
<circle cx="668.5" cy="314.2" r="2.2" fill="#fad824"/>
<circle cx="668.4" cy="316.1" r="2.2" fill="#fad824"/>
<circle cx="668.6" cy="317.0" r="2.2" fill="#fad824"/>
<circle cx="668.6" cy="318.4" r="2.2" fill="#fad824"/>
<circle cx="668.5" cy="320.6" r="2.2" fill="#fad824"/>
<circle cx="668.6" cy="321.8" r="2.2" fill="#fcce25"/>
<circle cx="668.3" cy="322.8" r="2.2" fill="#fad824"/>
<circle cx="668.2" cy="324.0" r="2.2" fill="#fcce25"/>
<circle cx="668.3" cy="325.6" r="2.2" fill="#fad824"/>
<circle cx="668.6" cy="327.9" r="2.2" fill="#fcce25"/>
<circle cx="668.3" cy="328.7" r="2.2" fill="#fad824"/>
<circle cx="668.4" cy="330.0" r="2.2" fill="#fad824"/>
<circle cx="668.3" cy="332.5" r="2.2" fill="#fca636"/>
<circle cx="668.4" cy="333.1" r="2.2" fill="#fdc328"/>
<circle cx="668.3" cy="334.7" r="2.2" fill="#fad824"/>
<circle cx="668.3" cy="336.4" r="2.2" fill="#fad824"/>
<circle cx="668.2" cy="337.9" r="2.2" fill="#fad824"/>
<circle cx="668.3" cy="338.9" r="2.2" fill="#fad824"/>
<circle cx="668.1" cy="340.3" r="2.2" fill="#fad824"/>
<circle cx="668.2" cy="342.5" r="2.2" fill="#fad824"/>
<circle cx="668.6" cy="344.0" r="2.2" fill="#fcce25"/>
<circle cx="668.6" cy="345.2" r="2.2" fill="#fad824"/>
<circle cx="668.7" cy="346.4" r="2.2" fill="#fcce25"/>
<circle cx="668.5" cy="347.8" r="2.2" fill="#f7e425"/>
<circle cx="668.6" cy="349.9" r="2.2" fill="#fcce25"/>
<circle cx="668.6" cy="350.8" r="2.2" fill="#fad824"/>
<circle cx="668.4" cy="353.2" r="2.2" fill="#f7e425"/>
<circle cx="668.6" cy="354.3" r="2.2" fill="#fdc328"/>
<circle cx="668.5" cy="356.0" r="2.2" fill="#fad824"/>
<circle cx="668.1" cy="356.8" r="2.2" fill="#fad824"/>
<circle cx="668.2" cy="359.1" r="2.2" fill="#fad824"/>
<circle cx="668.5" cy="360.3" r="2.2" fill="#fcce25"/>
<circle cx="668.4" cy="361.1" r="2.2" fill="#f7e425"/>
<circle cx="668.5" cy="363.2" r="2.2" fill="#fad824"/>
<circle cx="668.5" cy="364.1" r="2.2" fill="#fcce25"/>
<circle cx="668.3" cy="365.6" r="2.2" fill="#fad824"/>
<circle cx="668.5" cy="367.3" r="2.2" fill="#fcce25"/>
<circle cx="668.7" cy="369.1" r="2.2" fill="#fad824"/>
<circle cx="668.4" cy="370.8" r="2.2" fill="#fcce25"/>
<circle cx="668.5" cy="372.3" r="2.2" fill="#fad824"/>
<circle cx="668.2" cy="373.3" r="2.2" fill="#fcce25"/>
<circle cx="668.3" cy="375.1" r="2.2" fill="#fad824"/>
<circle cx="668.1" cy="376.3" r="2.2" fill="#fcce25"/>
<circle cx="668.5" cy="378.2" r="2.2" fill="#fad824"/>
<circle cx="668.4" cy="379.5" r="2.2" fill="#fad824"/>
<circle cx="668.2" cy="381.5" r="2.2" fill="#fad824"/>
<circle cx="668.7" cy="383.0" r="2.2" fill="#fad824"/>
<circle cx="668.4" cy="384.4" r="2.2" fill="#fdc328"/>
<circle cx="668.4" cy="385.2" r="2.2" fill="#fad824"/>
<circle cx="668.7" cy="386.6" r="2.2" fill="#fad824"/>
<circle cx="668.2" cy="388.5" r="2.2" fill="#fdc328"/>
<circle cx="668.2" cy="390.3" r="2.2" fill="#fad824"/>
<circle cx="668.6" cy="391.7" r="2.2" fill="#fad824"/>
<circle cx="668.6" cy="392.9" r="2.2" fill="#fad824"/>
<circle cx="668.1" cy="394.4" r="2.2" fill="#fad824"/>
<circle cx="668.3" cy="395.5" r="2.2" fill="#fad824"/>
<circle cx="668.3" cy="397.8" r="2.2" fill="#fad824"/>
<circle cx="668.6" cy="399.3" r="2.2" fill="#fad824"/>
<circle cx="668.7" cy="400.6" r="2.2" fill="#fdc328"/>
<circle cx="668.3" cy="401.7" r="2.2" fill="#fad824"/>
<circle cx="668.7" cy="403.4" r="2.2" fill="#fad824"/>
<circle cx="668.4" cy="404.5" r="2.2" fill="#fad824"/>
<circle cx="668.2" cy="406.7" r="2.2" fill="#fad824"/>
<circle cx="668.7" cy="407.5" r="2.2" fill="#fad824"/>
<circle cx="668.4" cy="408.9" r="2.2" fill="#fad824"/>
<circle cx="668.7" cy="411.2" r="2.2" fill="#f7e425"/>
<circle cx="668.5" cy="412.7" r="2.2" fill="#fdc328"/>
<circle cx="668.4" cy="414.0" r="2.2" fill="#fad824"/>
<circle cx="668.5" cy="415.2" r="2.2" fill="#fcce25"/>
<circle cx="668.5" cy="416.4" r="2.2" fill="#fad824"/>
<circle cx="668.7" cy="417.7" r="2.2" fill="#fad824"/>
<circle cx="668.3" cy="419.4" r="2.2" fill="#fcce25"/>
<circle cx="668.7" cy="420.9" r="2.2" fill="#fcce25"/>
<circle cx="668.3" cy="422.7" r="2.2" fill="#fad824"/>
<circle cx="668.2" cy="423.7" r="2.2" fill="#fad824"/>
<circle cx="668.6" cy="425.6" r="2.2" fill="#fad824"/>
<circle cx="668.6" cy="427.7" r="2.2" fill="#fad824"/>
<circle cx="668.2" cy="428.2" r="2.2" fill="#fad824"/>
<circle cx="668.3" cy="429.6" r="2.2" fill="#fad824"/>
<circle cx="668.3" cy="431.7" r="2.2" fill="#fdc328"/>
<circle cx="668.5" cy="433.0" r="2.2" fill="#fad824"/>
<circle cx="668.4" cy="434.4" r="2.2" fill="#fad824"/>
<circle cx="668.1" cy="435.8" r="2.2" fill="#fdc328"/>
<circle cx="668.2" cy="437.5" r="2.2" fill="#fcce25"/>
<circle cx="668.6" cy="438.7" r="2.2" fill="#fad824"/>
<circle cx="668.2" cy="440.4" r="2.2" fill="#fad824"/>
<circle cx="668.7" cy="442.4" r="2.2" fill="#fdc328"/>
<circle cx="668.1" cy="442.9" r="2.2" fill="#fcce25"/>
<circle cx="668.6" cy="444.9" r="2.2" fill="#fad824"/>
<circle cx="668.1" cy="446.3" r="2.2" fill="#fdc328"/>
<circle cx="668.6" cy="448.3" r="2.2" fill="#fca636"/>
<circle cx="668.2" cy="448.9" r="2.2" fill="#fad824"/>
<circle cx="668.4" cy="451.1" r="2.2" fill="#fdc328"/>
<circle cx="668.5" cy="452.6" r="2.2" fill="#fcce25"/>
<circle cx="668.4" cy="453.9" r="2.2" fill="#fad824"/>
<circle cx="668.6" cy="455.0" r="2.2" fill="#fdc328"/>
<circle cx="668.5" cy="456.6" r="2.2" fill="#fad824"/>
<circle cx="668.3" cy="458.5" r="2.2" fill="#fcce25"/>
<circle cx="668.2" cy="459.3" r="2.2" fill="#fad824"/>
<circle cx="668.4" cy="461.2" r="2.2" fill="#fad824"/>
<circle cx="668.5" cy="462.2" r="2.2" fill="#fad824"/>
<circle cx="668.4" cy="464.8" r="2.2" fill="#fcce25"/>
<circle cx="668.6" cy="465.7" r="2.2" fill="#fad824"/>
<circle cx="668.2" cy="467.8" r="2.2" fill="#fcce25"/>
<circle cx="671.8" cy="133.5" r="2.2" fill="#fad824"/>
<circle cx="672.2" cy="269.6" r="2.2" fill="#fad824"/>
<circle cx="672.2" cy="442.4" r="2.2" fill="#fad824"/>
<circle cx="671.5" cy="241.6" r="2.2" fill="#fad824"/>
<circle cx="672.2" cy="193.7" r="2.2" fill="#f7e425"/>
<circle cx="672.2" cy="298.7" r="2.2" fill="#fad824"/>
<circle cx="672.5" cy="232.6" r="2.2" fill="#f7e425"/>
<circle cx="671.7" cy="201.7" r="2.2" fill="#fcce25"/>
<circle cx="671.8" cy="451.6" r="2.2" fill="#fad824"/>
<circle cx="671.7" cy="202.4" r="2.2" fill="#fad824"/>
<circle cx="672.2" cy="450.5" r="2.2" fill="#fad824"/>
<circle cx="671.9" cy="198.8" r="2.2" fill="#fca636"/>
<circle cx="671.6" cy="143.7" r="2.2" fill="#fad824"/>
<circle cx="671.9" cy="433.2" r="2.2" fill="#fdc328"/>
<circle cx="672.2" cy="467.2" r="2.2" fill="#fdc328"/>
<circle cx="671.8" cy="189.4" r="2.2" fill="#fdc328"/>
<circle cx="672.2" cy="136.9" r="2.2" fill="#fcce25"/>
<circle cx="671.9" cy="253.9" r="2.2" fill="#fad824"/>
<circle cx="671.7" cy="127.0" r="2.2" fill="#fad824"/>
<circle cx="671.9" cy="452.8" r="2.2" fill="#fad824"/>
<circle cx="672.5" cy="196.9" r="2.2" fill="#fad824"/>
<circle cx="672.3" cy="407.1" r="2.2" fill="#fad824"/>
<circle cx="671.5" cy="287.9" r="2.2" fill="#fad824"/>
<circle cx="672.4" cy="192.0" r="2.2" fill="#fad824"/>
<circle cx="672.4" cy="136.4" r="2.2" fill="#fad824"/>
<circle cx="672.3" cy="388.2" r="2.2" fill="#fad824"/>
<circle cx="671.5" cy="147.4" r="2.2" fill="#fdc328"/>
<circle cx="671.8" cy="381.6" r="2.2" fill="#fdc328"/>
<circle cx="671.8" cy="219.1" r="2.2" fill="#fdc328"/>
<circle cx="672.1" cy="215.7" r="2.2" fill="#fcce25"/>
<circle cx="671.8" cy="220.3" r="2.2" fill="#fad824"/>
<circle cx="672.3" cy="439.4" r="2.2" fill="#fcce25"/>
<circle cx="672.4" cy="134.3" r="2.2" fill="#fad824"/>
<circle cx="672.0" cy="453.2" r="2.2" fill="#fdc328"/>
<circle cx="671.9" cy="211.9" r="2.2" fill="#fad824"/>
<circle cx="672.0" cy="443.4" r="2.2" fill="#fad824"/>
<circle cx="672.3" cy="378.6" r="2.2" fill="#f7e425"/>
<circle cx="672.3" cy="333.7" r="2.2" fill="#fad824"/>
<circle cx="671.8" cy="249.8" r="2.2" fill="#fcce25"/>
<circle cx="671.6" cy="193.5" r="2.2" fill="#fcce25"/>
<circle cx="671.7" cy="148.1" r="2.2" fill="#fad824"/>
<circle cx="672.1" cy="237.4" r="2.2" fill="#fca636"/>
<circle cx="672.4" cy="463.8" r="2.2" fill="#fad824"/>
<circle cx="671.6" cy="159.0" r="2.2" fill="#fad824"/>
<circle cx="672.2" cy="278.9" r="2.2" fill="#fad824"/>
<circle cx="671.9" cy="338.1" r="2.2" fill="#fcce25"/>
<circle cx="672.2" cy="415.7" r="2.2" fill="#fcce25"/>
<circle cx="671.6" cy="413.6" r="2.2" fill="#fad824"/>
<circle cx="672.1" cy="253.6" r="2.2" fill="#fcce25"/>
<circle cx="671.7" cy="210.6" r="2.2" fill="#fad824"/>
<circle cx="671.7" cy="428.4" r="2.2" fill="#fad824"/>
<circle cx="671.8" cy="261.5" r="2.2" fill="#fca636"/>
<circle cx="672.0" cy="205.1" r="2.2" fill="#f7e425"/>
<circle cx="672.2" cy="464.9" r="2.2" fill="#fad824"/>
<circle cx="672.0" cy="406.1" r="2.2" fill="#f7e425"/>
<circle cx="672.4" cy="139.8" r="2.2" fill="#fad824"/>
<circle cx="671.6" cy="190.8" r="2.2" fill="#fca636"/>
<circle cx="672.1" cy="444.1" r="2.2" fill="#fad824"/>
<circle cx="672.4" cy="279.6" r="2.2" fill="#fad824"/>
<circle cx="672.3" cy="449.4" r="2.2" fill="#fad824"/>
<circle cx="672.1" cy="338.0" r="2.2" fill="#fad824"/>
<circle cx="671.9" cy="174.3" r="2.2" fill="#fad824"/>
<circle cx="671.8" cy="331.0" r="2.2" fill="#fcce25"/>
<circle cx="671.7" cy="129.9" r="2.2" fill="#fad824"/>
<circle cx="672.2" cy="189.3" r="2.2" fill="#fad824"/>
<circle cx="671.7" cy="398.0" r="2.2" fill="#fad824"/>
<circle cx="671.6" cy="160.7" r="2.2" fill="#fad824"/>
<circle cx="672.1" cy="344.6" r="2.2" fill="#fad824"/>
<circle cx="671.7" cy="363.8" r="2.2" fill="#fad824"/>
<circle cx="671.8" cy="231.2" r="2.2" fill="#fdc328"/>
<circle cx="669.7" cy="319.7" r="2.2" fill="#fad824"/>
<circle cx="669.8" cy="421.6" r="2.2" fill="#fca636"/>
<circle cx="669.8" cy="193.4" r="2.2" fill="#fcce25"/>
<circle cx="669.7" cy="128.0" r="2.2" fill="#fdc328"/>
<circle cx="669.8" cy="406.6" r="2.2" fill="#fad824"/>
<circle cx="670.2" cy="283.6" r="2.2" fill="#fad824"/>
<circle cx="669.5" cy="314.6" r="2.2" fill="#fcce25"/>
<circle cx="670.2" cy="156.4" r="2.2" fill="#fcce25"/>
<circle cx="669.8" cy="298.5" r="2.2" fill="#fad824"/>
<circle cx="669.7" cy="304.2" r="2.2" fill="#fdc328"/>
<circle cx="669.6" cy="293.8" r="2.2" fill="#f7e425"/>
<circle cx="670.3" cy="193.5" r="2.2" fill="#fad824"/>
<circle cx="670.3" cy="459.6" r="2.2" fill="#fad824"/>
<circle cx="669.5" cy="442.7" r="2.2" fill="#fad824"/>
<circle cx="670.2" cy="338.2" r="2.2" fill="#f7e425"/>
<circle cx="669.6" cy="394.8" r="2.2" fill="#fad824"/>
<circle cx="669.8" cy="415.5" r="2.2" fill="#f7e425"/>
<circle cx="669.6" cy="200.6" r="2.2" fill="#fad824"/>
<circle cx="669.9" cy="257.2" r="2.2" fill="#fad824"/>
<circle cx="669.7" cy="373.9" r="2.2" fill="#fdc328"/>
<circle cx="669.5" cy="318.3" r="2.2" fill="#fcce25"/>
<circle cx="669.5" cy="412.7" r="2.2" fill="#fad824"/>
<circle cx="670.0" cy="314.1" r="2.2" fill="#fcce25"/>
<circle cx="669.7" cy="269.7" r="2.2" fill="#fad824"/>
<circle cx="669.8" cy="351.3" r="2.2" fill="#fad824"/>
<circle cx="669.9" cy="134.0" r="2.2" fill="#fad824"/>
<circle cx="669.9" cy="206.5" r="2.2" fill="#fcce25"/>
<circle cx="670.1" cy="282.7" r="2.2" fill="#fad824"/>
<circle cx="669.9" cy="162.6" r="2.2" fill="#fad824"/>
<circle cx="669.8" cy="157.4" r="2.2" fill="#fad824"/>
<circle cx="669.9" cy="139.9" r="2.2" fill="#fcce25"/>
<circle cx="669.6" cy="376.9" r="2.2" fill="#fcce25"/>
<circle cx="669.9" cy="144.6" r="2.2" fill="#fad824"/>
<circle cx="669.8" cy="451.2" r="2.2" fill="#fad824"/>
<circle cx="670.2" cy="466.7" r="2.2" fill="#fcce25"/>
<circle cx="670.2" cy="192.2" r="2.2" fill="#fca636"/>
<circle cx="669.9" cy="453.2" r="2.2" fill="#fdc328"/>
<circle cx="669.6" cy="395.6" r="2.2" fill="#fdc328"/>
<circle cx="669.6" cy="246.0" r="2.2" fill="#fcce25"/>
<circle cx="669.6" cy="432.6" r="2.2" fill="#fad824"/>
<circle cx="670.2" cy="175.1" r="2.2" fill="#fad824"/>
<circle cx="670.2" cy="197.2" r="2.2" fill="#fad824"/>
<circle cx="669.9" cy="235.1" r="2.2" fill="#fad824"/>
<circle cx="669.6" cy="181.1" r="2.2" fill="#fdc328"/>
<circle cx="670.0" cy="432.2" r="2.2" fill="#fad824"/>
<circle cx="670.1" cy="165.4" r="2.2" fill="#fad824"/>
<circle cx="670.0" cy="249.0" r="2.2" fill="#fdc328"/>
<circle cx="669.9" cy="324.4" r="2.2" fill="#fdc328"/>
<circle cx="669.6" cy="465.6" r="2.2" fill="#fcce25"/>
<circle cx="669.8" cy="398.8" r="2.2" fill="#fad824"/>
<circle cx="670.3" cy="323.5" r="2.2" fill="#fad824"/>
<circle cx="670.1" cy="277.3" r="2.2" fill="#fad824"/>
<circle cx="670.1" cy="142.5" r="2.2" fill="#f7e425"/>
<circle cx="669.7" cy="344.6" r="2.2" fill="#fca636"/>
<circle cx="670.0" cy="353.0" r="2.2" fill="#fad824"/>
<circle cx="669.5" cy="137.6" r="2.2" fill="#fad824"/>
<circle cx="670.0" cy="273.8" r="2.2" fill="#fad824"/>
<circle cx="670.2" cy="171.2" r="2.2" fill="#fad824"/>
<circle cx="670.0" cy="133.6" r="2.2" fill="#fad824"/>
<circle cx="669.8" cy="162.4" r="2.2" fill="#fad824"/>
<circle cx="669.7" cy="325.6" r="2.2" fill="#fad824"/>
<circle cx="669.7" cy="339.4" r="2.2" fill="#fad824"/>
<circle cx="669.6" cy="446.3" r="2.2" fill="#fad824"/>
<circle cx="669.6" cy="158.8" r="2.2" fill="#fcce25"/>
<circle cx="670.2" cy="393.5" r="2.2" fill="#fad824"/>
<circle cx="669.7" cy="129.9" r="2.2" fill="#fcce25"/>
<circle cx="669.9" cy="245.8" r="2.2" fill="#fcce25"/>
<circle cx="669.9" cy="446.5" r="2.2" fill="#fcce25"/>
<circle cx="669.7" cy="435.0" r="2.2" fill="#fad824"/>
<circle cx="669.9" cy="264.8" r="2.2" fill="#fad824"/>
<circle cx="669.5" cy="392.4" r="2.2" fill="#fad824"/>
<circle cx="669.9" cy="447.8" r="2.2" fill="#fad824"/>
<circle cx="669.7" cy="334.0" r="2.2" fill="#fad824"/>
<circle cx="670.0" cy="404.2" r="2.2" fill="#fad824"/>
<circle cx="669.7" cy="228.7" r="2.2" fill="#fad824"/>
<circle cx="670.2" cy="393.8" r="2.2" fill="#fcce25"/>
<circle cx="669.5" cy="414.8" r="2.2" fill="#fcce25"/>
<circle cx="669.9" cy="379.7" r="2.2" fill="#fad824"/>
<circle cx="669.7" cy="162.0" r="2.2" fill="#fad824"/>
<circle cx="669.5" cy="240.7" r="2.2" fill="#fcce25"/>
<circle cx="670.1" cy="415.1" r="2.2" fill="#fcce25"/>
<circle cx="669.7" cy="315.4" r="2.2" fill="#fad824"/>
<circle cx="670.1" cy="304.9" r="2.2" fill="#fad824"/>
<circle cx="670.0" cy="456.1" r="2.2" fill="#fad824"/>
<circle cx="670.2" cy="131.2" r="2.2" fill="#fad824"/>
<circle cx="669.7" cy="380.4" r="2.2" fill="#fdc328"/>
<circle cx="670.1" cy="237.8" r="2.2" fill="#fdc328"/>
<circle cx="669.8" cy="207.8" r="2.2" fill="#fdc328"/>
<circle cx="670.0" cy="363.0" r="2.2" fill="#fcce25"/>
<circle cx="670.3" cy="286.6" r="2.2" fill="#f7e425"/>
<circle cx="670.1" cy="419.3" r="2.2" fill="#fad824"/>
<circle cx="670.1" cy="321.1" r="2.2" fill="#fad824"/>
<circle cx="669.7" cy="338.9" r="2.2" fill="#fad824"/>
<circle cx="670.2" cy="175.5" r="2.2" fill="#fad824"/>
<circle cx="669.6" cy="443.7" r="2.2" fill="#fad824"/>
<circle cx="669.6" cy="135.8" r="2.2" fill="#fad824"/>
<circle cx="670.1" cy="342.8" r="2.2" fill="#fcce25"/>
<circle cx="670.1" cy="148.5" r="2.2" fill="#fad824"/>
<circle cx="669.8" cy="405.6" r="2.2" fill="#f7e425"/>
<circle cx="670.2" cy="148.6" r="2.2" fill="#f7e425"/>
<circle cx="670.2" cy="449.0" r="2.2" fill="#fad824"/>
<circle cx="669.7" cy="164.3" r="2.2" fill="#fad824"/>
<circle cx="670.2" cy="403.7" r="2.2" fill="#fcce25"/>
<circle cx="670.2" cy="342.0" r="2.2" fill="#fad824"/>
<circle cx="669.6" cy="159.5" r="2.2" fill="#fcce25"/>
<circle cx="669.7" cy="235.1" r="2.2" fill="#fad824"/>
<circle cx="669.5" cy="213.8" r="2.2" fill="#fad824"/>
<circle cx="670.1" cy="251.9" r="2.2" fill="#fad824"/>
<circle cx="670.3" cy="298.3" r="2.2" fill="#f7e425"/>
<circle cx="670.0" cy="136.6" r="2.2" fill="#fad824"/>
<circle cx="677.7" cy="127.0" r="2.2" fill="#fad824"/>
<circle cx="677.8" cy="128.2" r="2.2" fill="#fad824"/>
<circle cx="677.8" cy="129.1" r="2.2" fill="#f7e425"/>
<circle cx="677.6" cy="130.4" r="2.2" fill="#fad824"/>
<circle cx="677.8" cy="133.0" r="2.2" fill="#fad824"/>
<circle cx="677.7" cy="133.8" r="2.2" fill="#f7e425"/>
<circle cx="677.6" cy="135.3" r="2.2" fill="#fad824"/>
<circle cx="677.8" cy="136.4" r="2.2" fill="#fdc328"/>
<circle cx="677.6" cy="137.8" r="2.2" fill="#fcce25"/>
<circle cx="677.7" cy="139.1" r="2.2" fill="#fcce25"/>
<circle cx="677.5" cy="141.3" r="2.2" fill="#fcce25"/>
<circle cx="677.8" cy="142.5" r="2.2" fill="#fad824"/>
<circle cx="677.7" cy="143.7" r="2.2" fill="#fdc328"/>
<circle cx="677.5" cy="145.7" r="2.2" fill="#fad824"/>
<circle cx="677.6" cy="146.4" r="2.2" fill="#fdc328"/>
<circle cx="677.7" cy="147.9" r="2.2" fill="#fdc328"/>
<circle cx="677.6" cy="149.5" r="2.2" fill="#fad824"/>
<circle cx="677.8" cy="151.2" r="2.2" fill="#fcce25"/>
<circle cx="677.6" cy="152.2" r="2.2" fill="#fad824"/>
<circle cx="677.8" cy="154.0" r="2.2" fill="#fcce25"/>
<circle cx="677.6" cy="155.1" r="2.2" fill="#fcce25"/>
<circle cx="677.7" cy="156.2" r="2.2" fill="#fad824"/>
<circle cx="677.9" cy="157.8" r="2.2" fill="#fad824"/>
<circle cx="677.6" cy="159.7" r="2.2" fill="#f7e425"/>
<circle cx="677.6" cy="160.5" r="2.2" fill="#fad824"/>
<circle cx="677.6" cy="162.4" r="2.2" fill="#fad824"/>
<circle cx="677.6" cy="163.4" r="2.2" fill="#fca636"/>
<circle cx="677.8" cy="164.7" r="2.2" fill="#fdc328"/>
<circle cx="677.5" cy="166.5" r="2.2" fill="#fca636"/>
<circle cx="677.8" cy="168.3" r="2.2" fill="#fad824"/>
<circle cx="677.6" cy="169.6" r="2.2" fill="#fad824"/>
<circle cx="677.6" cy="170.8" r="2.2" fill="#fad824"/>
<circle cx="677.7" cy="172.6" r="2.2" fill="#fcce25"/>
<circle cx="677.7" cy="173.9" r="2.2" fill="#fad824"/>
<circle cx="677.6" cy="175.3" r="2.2" fill="#fad824"/>
<circle cx="677.8" cy="177.1" r="2.2" fill="#fad824"/>
<circle cx="677.7" cy="178.3" r="2.2" fill="#fad824"/>
<circle cx="677.6" cy="179.7" r="2.2" fill="#fdc328"/>
<circle cx="677.8" cy="181.1" r="2.2" fill="#f7e425"/>
<circle cx="677.8" cy="182.4" r="2.2" fill="#fad824"/>
<circle cx="677.6" cy="183.9" r="2.2" fill="#fad824"/>
<circle cx="677.7" cy="185.5" r="2.2" fill="#fcce25"/>
<circle cx="677.8" cy="186.3" r="2.2" fill="#fad824"/>
<circle cx="677.7" cy="188.1" r="2.2" fill="#fad824"/>
<circle cx="677.8" cy="189.9" r="2.2" fill="#fad824"/>
<circle cx="677.8" cy="191.2" r="2.2" fill="#fad824"/>
<circle cx="677.7" cy="192.8" r="2.2" fill="#fad824"/>
<circle cx="677.7" cy="193.3" r="2.2" fill="#fcce25"/>
<circle cx="677.9" cy="195.1" r="2.2" fill="#fad824"/>
<circle cx="677.7" cy="196.6" r="2.2" fill="#fcce25"/>
<circle cx="677.7" cy="198.1" r="2.2" fill="#f7e425"/>
<circle cx="677.7" cy="199.3" r="2.2" fill="#fdc328"/>
<circle cx="677.6" cy="201.0" r="2.2" fill="#fad824"/>
<circle cx="677.8" cy="201.8" r="2.2" fill="#fca636"/>
<circle cx="677.6" cy="203.2" r="2.2" fill="#fad824"/>
<circle cx="677.7" cy="204.5" r="2.2" fill="#fad824"/>
<circle cx="677.7" cy="206.7" r="2.2" fill="#fad824"/>
<circle cx="677.6" cy="207.6" r="2.2" fill="#fcce25"/>
<circle cx="677.9" cy="209.4" r="2.2" fill="#fad824"/>
<circle cx="677.8" cy="210.7" r="2.2" fill="#fad824"/>
<circle cx="677.6" cy="212.5" r="2.2" fill="#f7e425"/>
<circle cx="677.8" cy="213.6" r="2.2" fill="#fad824"/>
<circle cx="677.6" cy="215.6" r="2.2" fill="#fad824"/>
<circle cx="677.8" cy="216.9" r="2.2" fill="#f7e425"/>
<circle cx="677.7" cy="217.7" r="2.2" fill="#fad824"/>
<circle cx="677.6" cy="219.7" r="2.2" fill="#fad824"/>
<circle cx="677.8" cy="220.5" r="2.2" fill="#fad824"/>
<circle cx="677.6" cy="222.1" r="2.2" fill="#fad824"/>
<circle cx="677.5" cy="223.9" r="2.2" fill="#fad824"/>
<circle cx="677.6" cy="224.8" r="2.2" fill="#fad824"/>
<circle cx="677.7" cy="226.6" r="2.2" fill="#fcce25"/>
<circle cx="677.6" cy="228.4" r="2.2" fill="#f7e425"/>
<circle cx="677.5" cy="229.7" r="2.2" fill="#fdc328"/>
<circle cx="677.8" cy="230.3" r="2.2" fill="#f7e425"/>
<circle cx="677.8" cy="231.6" r="2.2" fill="#fad824"/>
<circle cx="677.9" cy="233.8" r="2.2" fill="#fad824"/>
<circle cx="677.5" cy="234.6" r="2.2" fill="#fad824"/>
<circle cx="677.8" cy="236.3" r="2.2" fill="#fad824"/>
<circle cx="677.9" cy="238.2" r="2.2" fill="#fad824"/>
<circle cx="677.9" cy="239.4" r="2.2" fill="#fcce25"/>
<circle cx="677.8" cy="241.2" r="2.2" fill="#fcce25"/>
<circle cx="677.8" cy="241.8" r="2.2" fill="#fcce25"/>
<circle cx="677.7" cy="243.8" r="2.2" fill="#fad824"/>
<circle cx="677.9" cy="245.1" r="2.2" fill="#fad824"/>
<circle cx="677.6" cy="246.0" r="2.2" fill="#fad824"/>
<circle cx="677.5" cy="247.8" r="2.2" fill="#fad824"/>
<circle cx="677.7" cy="249.3" r="2.2" fill="#fad824"/>
<circle cx="677.8" cy="250.1" r="2.2" fill="#f7e425"/>
<circle cx="677.7" cy="252.2" r="2.2" fill="#fcce25"/>
<circle cx="677.8" cy="253.4" r="2.2" fill="#fad824"/>
<circle cx="677.9" cy="254.5" r="2.2" fill="#fcce25"/>
<circle cx="677.8" cy="255.9" r="2.2" fill="#fad824"/>
<circle cx="677.8" cy="258.3" r="2.2" fill="#fad824"/>
<circle cx="677.9" cy="259.2" r="2.2" fill="#fad824"/>
<circle cx="677.9" cy="260.1" r="2.2" fill="#fcce25"/>
<circle cx="677.8" cy="261.9" r="2.2" fill="#f7e425"/>
<circle cx="677.6" cy="263.5" r="2.2" fill="#fad824"/>
<circle cx="677.8" cy="264.6" r="2.2" fill="#fad824"/>
<circle cx="677.7" cy="266.4" r="2.2" fill="#f7e425"/>
<circle cx="677.6" cy="268.2" r="2.2" fill="#fad824"/>
<circle cx="677.7" cy="269.0" r="2.2" fill="#fad824"/>
<circle cx="677.9" cy="270.8" r="2.2" fill="#f7e425"/>
<circle cx="677.6" cy="271.9" r="2.2" fill="#fad824"/>
<circle cx="677.7" cy="273.6" r="2.2" fill="#fcce25"/>
<circle cx="677.5" cy="275.2" r="2.2" fill="#fdc328"/>
<circle cx="677.7" cy="275.8" r="2.2" fill="#fad824"/>
<circle cx="677.5" cy="277.4" r="2.2" fill="#fdc328"/>
<circle cx="677.7" cy="279.4" r="2.2" fill="#fcce25"/>
<circle cx="677.9" cy="280.7" r="2.2" fill="#fad824"/>
<circle cx="677.8" cy="282.3" r="2.2" fill="#fad824"/>
<circle cx="677.8" cy="283.1" r="2.2" fill="#fcce25"/>
<circle cx="677.7" cy="285.2" r="2.2" fill="#fad824"/>
<circle cx="677.6" cy="285.8" r="2.2" fill="#fcce25"/>
<circle cx="677.9" cy="287.9" r="2.2" fill="#fad824"/>
<circle cx="677.8" cy="289.5" r="2.2" fill="#fad824"/>
<circle cx="677.6" cy="290.4" r="2.2" fill="#fad824"/>
<circle cx="677.6" cy="291.9" r="2.2" fill="#fcce25"/>
<circle cx="677.9" cy="292.9" r="2.2" fill="#fad824"/>
<circle cx="677.5" cy="294.4" r="2.2" fill="#f7e425"/>
<circle cx="677.7" cy="296.8" r="2.2" fill="#fad824"/>
<circle cx="677.5" cy="297.6" r="2.2" fill="#fad824"/>
<circle cx="677.9" cy="299.7" r="2.2" fill="#fad824"/>
<circle cx="677.7" cy="300.1" r="2.2" fill="#fcce25"/>
<circle cx="677.6" cy="301.6" r="2.2" fill="#fad824"/>
<circle cx="677.5" cy="303.6" r="2.2" fill="#fad824"/>
<circle cx="677.9" cy="304.4" r="2.2" fill="#f7e425"/>
<circle cx="677.6" cy="305.7" r="2.2" fill="#fcce25"/>
<circle cx="677.6" cy="308.0" r="2.2" fill="#fad824"/>
<circle cx="677.5" cy="309.4" r="2.2" fill="#fcce25"/>
<circle cx="677.8" cy="310.8" r="2.2" fill="#fad824"/>
<circle cx="677.8" cy="312.2" r="2.2" fill="#fad824"/>
<circle cx="677.9" cy="313.1" r="2.2" fill="#fdc328"/>
<circle cx="677.8" cy="314.3" r="2.2" fill="#fad824"/>
<circle cx="677.8" cy="316.6" r="2.2" fill="#fad824"/>
<circle cx="677.6" cy="317.9" r="2.2" fill="#fad824"/>
<circle cx="677.8" cy="319.1" r="2.2" fill="#fad824"/>
<circle cx="677.6" cy="320.6" r="2.2" fill="#fad824"/>
<circle cx="677.8" cy="321.5" r="2.2" fill="#f7e425"/>
<circle cx="677.6" cy="323.5" r="2.2" fill="#fcce25"/>
<circle cx="677.7" cy="324.7" r="2.2" fill="#fcce25"/>
<circle cx="677.9" cy="326.5" r="2.2" fill="#fad824"/>
<circle cx="677.6" cy="327.1" r="2.2" fill="#fca636"/>
<circle cx="677.8" cy="329.4" r="2.2" fill="#fad824"/>
<circle cx="677.7" cy="331.0" r="2.2" fill="#f7e425"/>
<circle cx="677.7" cy="331.7" r="2.2" fill="#fad824"/>
<circle cx="677.9" cy="333.2" r="2.2" fill="#fcce25"/>
<circle cx="677.7" cy="335.2" r="2.2" fill="#f7e425"/>
<circle cx="677.6" cy="335.6" r="2.2" fill="#fad824"/>
<circle cx="677.7" cy="337.7" r="2.2" fill="#f7e425"/>
<circle cx="677.9" cy="338.5" r="2.2" fill="#f7e425"/>
<circle cx="677.8" cy="340.9" r="2.2" fill="#fad824"/>
<circle cx="677.6" cy="342.3" r="2.2" fill="#f7e425"/>
<circle cx="677.8" cy="343.8" r="2.2" fill="#fad824"/>
<circle cx="677.5" cy="344.8" r="2.2" fill="#f7e425"/>
<circle cx="677.6" cy="346.4" r="2.2" fill="#fdc328"/>
<circle cx="677.6" cy="347.7" r="2.2" fill="#fcce25"/>
<circle cx="677.7" cy="348.7" r="2.2" fill="#fad824"/>
<circle cx="677.8" cy="350.8" r="2.2" fill="#fad824"/>
<circle cx="677.5" cy="352.2" r="2.2" fill="#fcce25"/>
<circle cx="677.6" cy="353.4" r="2.2" fill="#fdc328"/>
<circle cx="677.9" cy="354.7" r="2.2" fill="#fad824"/>
<circle cx="677.7" cy="355.8" r="2.2" fill="#fad824"/>
<circle cx="677.6" cy="357.8" r="2.2" fill="#fad824"/>
<circle cx="677.7" cy="358.9" r="2.2" fill="#fad824"/>
<circle cx="677.6" cy="359.9" r="2.2" fill="#fca636"/>
<circle cx="677.6" cy="361.4" r="2.2" fill="#fcce25"/>
<circle cx="677.8" cy="362.9" r="2.2" fill="#fad824"/>
<circle cx="677.6" cy="364.7" r="2.2" fill="#fad824"/>
<circle cx="677.5" cy="366.7" r="2.2" fill="#f7e425"/>
<circle cx="677.7" cy="367.6" r="2.2" fill="#fad824"/>
<circle cx="677.8" cy="368.9" r="2.2" fill="#fdc328"/>
<circle cx="677.8" cy="370.8" r="2.2" fill="#fdc328"/>
<circle cx="677.6" cy="371.3" r="2.2" fill="#fad824"/>
<circle cx="677.6" cy="372.8" r="2.2" fill="#fad824"/>
<circle cx="677.7" cy="375.1" r="2.2" fill="#fad824"/>
<circle cx="677.9" cy="376.6" r="2.2" fill="#fad824"/>
<circle cx="677.7" cy="377.4" r="2.2" fill="#fad824"/>
<circle cx="677.9" cy="378.7" r="2.2" fill="#fad824"/>
<circle cx="677.8" cy="380.9" r="2.2" fill="#fcce25"/>
<circle cx="677.7" cy="381.7" r="2.2" fill="#fad824"/>
<circle cx="677.9" cy="383.8" r="2.2" fill="#fad824"/>
<circle cx="677.5" cy="384.4" r="2.2" fill="#fad824"/>
<circle cx="677.9" cy="386.5" r="2.2" fill="#f7e425"/>
<circle cx="677.5" cy="387.8" r="2.2" fill="#fcce25"/>
<circle cx="677.8" cy="389.5" r="2.2" fill="#fad824"/>
<circle cx="677.6" cy="390.6" r="2.2" fill="#fdc328"/>
<circle cx="677.8" cy="391.5" r="2.2" fill="#fad824"/>
<circle cx="677.8" cy="392.7" r="2.2" fill="#fad824"/>
<circle cx="677.6" cy="394.2" r="2.2" fill="#fad824"/>
<circle cx="677.6" cy="395.7" r="2.2" fill="#fad824"/>
<circle cx="677.8" cy="396.9" r="2.2" fill="#fcce25"/>
<circle cx="677.6" cy="398.4" r="2.2" fill="#fdc328"/>
<circle cx="677.6" cy="400.8" r="2.2" fill="#f7e425"/>
<circle cx="677.9" cy="401.3" r="2.2" fill="#fad824"/>
<circle cx="677.5" cy="403.7" r="2.2" fill="#f7e425"/>
<circle cx="677.8" cy="404.5" r="2.2" fill="#fad824"/>
<circle cx="677.8" cy="406.0" r="2.2" fill="#fcce25"/>
<circle cx="677.6" cy="407.1" r="2.2" fill="#fad824"/>
<circle cx="677.8" cy="408.9" r="2.2" fill="#fad824"/>
<circle cx="677.8" cy="410.0" r="2.2" fill="#fad824"/>
<circle cx="677.6" cy="411.5" r="2.2" fill="#f7e425"/>
<circle cx="677.6" cy="412.8" r="2.2" fill="#fad824"/>
<circle cx="677.6" cy="415.0" r="2.2" fill="#fad824"/>
<circle cx="677.9" cy="415.5" r="2.2" fill="#fdc328"/>
<circle cx="677.8" cy="417.1" r="2.2" fill="#fad824"/>
<circle cx="677.6" cy="418.6" r="2.2" fill="#fad824"/>
<circle cx="677.6" cy="420.8" r="2.2" fill="#fca636"/>
<circle cx="677.9" cy="421.2" r="2.2" fill="#fad824"/>
<circle cx="677.9" cy="422.6" r="2.2" fill="#fcce25"/>
<circle cx="677.6" cy="425.1" r="2.2" fill="#fad824"/>
<circle cx="677.8" cy="425.8" r="2.2" fill="#fad824"/>
<circle cx="677.5" cy="427.8" r="2.2" fill="#fad824"/>
<circle cx="677.6" cy="428.7" r="2.2" fill="#fdc328"/>
<circle cx="677.6" cy="430.3" r="2.2" fill="#fad824"/>
<circle cx="677.6" cy="432.0" r="2.2" fill="#fcce25"/>
<circle cx="677.6" cy="432.6" r="2.2" fill="#fad824"/>
<circle cx="677.7" cy="434.5" r="2.2" fill="#fad824"/>
<circle cx="677.6" cy="436.1" r="2.2" fill="#fcce25"/>
<circle cx="677.8" cy="437.5" r="2.2" fill="#fad824"/>
<circle cx="677.5" cy="439.1" r="2.2" fill="#fad824"/>
<circle cx="677.8" cy="439.7" r="2.2" fill="#f7e425"/>
<circle cx="677.6" cy="442.0" r="2.2" fill="#f7e425"/>
<circle cx="677.7" cy="442.5" r="2.2" fill="#fdc328"/>
<circle cx="677.7" cy="444.9" r="2.2" fill="#fad824"/>
<circle cx="677.6" cy="446.3" r="2.2" fill="#fad824"/>
<circle cx="677.6" cy="447.2" r="2.2" fill="#fad824"/>
<circle cx="677.5" cy="448.8" r="2.2" fill="#fad824"/>
<circle cx="677.7" cy="449.8" r="2.2" fill="#fcce25"/>
<circle cx="677.8" cy="452.0" r="2.2" fill="#fad824"/>
<circle cx="677.8" cy="452.9" r="2.2" fill="#fcce25"/>
<circle cx="677.5" cy="454.9" r="2.2" fill="#fdc328"/>
<circle cx="677.7" cy="455.9" r="2.2" fill="#fad824"/>
<circle cx="677.7" cy="456.8" r="2.2" fill="#fdc328"/>
<circle cx="677.6" cy="458.4" r="2.2" fill="#fad824"/>
<circle cx="677.6" cy="460.5" r="2.2" fill="#fad824"/>
<circle cx="677.5" cy="461.8" r="2.2" fill="#fad824"/>
<circle cx="677.5" cy="463.1" r="2.2" fill="#fad824"/>
<circle cx="677.7" cy="464.7" r="2.2" fill="#fad824"/>
<circle cx="677.8" cy="466.1" r="2.2" fill="#fad824"/>
<circle cx="677.5" cy="467.3" r="2.2" fill="#fad824"/>
<circle cx="673.9" cy="167.7" r="2.2" fill="#fad824"/>
<circle cx="673.7" cy="328.4" r="2.2" fill="#f7e425"/>
<circle cx="673.7" cy="321.9" r="2.2" fill="#fcce25"/>
<circle cx="673.7" cy="408.5" r="2.2" fill="#fdc328"/>
<circle cx="674.1" cy="269.8" r="2.2" fill="#f7e425"/>
<circle cx="674.3" cy="261.3" r="2.2" fill="#fdc328"/>
<circle cx="674.7" cy="241.8" r="2.2" fill="#fad824"/>
<circle cx="674.0" cy="275.0" r="2.2" fill="#fca636"/>
<circle cx="674.7" cy="438.2" r="2.2" fill="#f7e425"/>
<circle cx="674.8" cy="144.3" r="2.2" fill="#fad824"/>
<circle cx="674.9" cy="445.5" r="2.2" fill="#fad824"/>
<circle cx="674.1" cy="342.4" r="2.2" fill="#fad824"/>
<circle cx="674.3" cy="149.7" r="2.2" fill="#fad824"/>
<circle cx="674.3" cy="133.1" r="2.2" fill="#fad824"/>
<circle cx="675.0" cy="391.6" r="2.2" fill="#fdc328"/>
<circle cx="736.1" cy="135.4" r="2.2" fill="#fdc328"/>
<circle cx="736.2" cy="136.1" r="2.2" fill="#fcce25"/>
<circle cx="735.9" cy="138.9" r="2.2" fill="#fad824"/>
<circle cx="736.0" cy="141.2" r="2.2" fill="#fcce25"/>
<circle cx="735.9" cy="142.4" r="2.2" fill="#fad824"/>
<circle cx="736.2" cy="143.9" r="2.2" fill="#fad824"/>
<circle cx="736.1" cy="145.6" r="2.2" fill="#fad824"/>
<circle cx="736.2" cy="148.0" r="2.2" fill="#fad824"/>
<circle cx="736.0" cy="149.9" r="2.2" fill="#fad824"/>
<circle cx="735.8" cy="151.2" r="2.2" fill="#fad824"/>
<circle cx="736.0" cy="153.3" r="2.2" fill="#fad824"/>
<circle cx="735.8" cy="155.5" r="2.2" fill="#fdc328"/>
<circle cx="736.0" cy="157.4" r="2.2" fill="#fcce25"/>
<circle cx="735.9" cy="159.5" r="2.2" fill="#fad824"/>
<circle cx="736.0" cy="161.2" r="2.2" fill="#fad824"/>
<circle cx="735.9" cy="162.5" r="2.2" fill="#fad824"/>
<circle cx="736.0" cy="164.6" r="2.2" fill="#fad824"/>
<circle cx="735.8" cy="166.4" r="2.2" fill="#fdc328"/>
<circle cx="735.9" cy="168.6" r="2.2" fill="#fad824"/>
<circle cx="735.9" cy="171.1" r="2.2" fill="#fad824"/>
<circle cx="736.1" cy="171.8" r="2.2" fill="#fad824"/>
<circle cx="736.1" cy="174.0" r="2.2" fill="#fad824"/>
<circle cx="736.0" cy="175.9" r="2.2" fill="#fcce25"/>
<circle cx="735.8" cy="177.5" r="2.2" fill="#fca636"/>
<circle cx="736.1" cy="179.2" r="2.2" fill="#fad824"/>
<circle cx="735.9" cy="181.9" r="2.2" fill="#fcce25"/>
<circle cx="736.1" cy="183.9" r="2.2" fill="#fad824"/>
<circle cx="736.1" cy="185.7" r="2.2" fill="#fcce25"/>
<circle cx="736.0" cy="187.6" r="2.2" fill="#fcce25"/>
<circle cx="736.2" cy="188.5" r="2.2" fill="#fdc328"/>
<circle cx="735.8" cy="192.8" r="2.2" fill="#fad824"/>
<circle cx="736.0" cy="197.4" r="2.2" fill="#fad824"/>
<circle cx="736.0" cy="200.8" r="2.2" fill="#fdc328"/>
<circle cx="736.0" cy="203.4" r="2.2" fill="#fad824"/>
<circle cx="736.0" cy="208.4" r="2.2" fill="#fad824"/>
<circle cx="736.0" cy="211.9" r="2.2" fill="#fad824"/>
<circle cx="735.9" cy="216.5" r="2.2" fill="#fdc328"/>
<circle cx="736.0" cy="219.4" r="2.2" fill="#fad824"/>
<circle cx="735.9" cy="222.4" r="2.2" fill="#fad824"/>
<circle cx="736.0" cy="226.2" r="2.2" fill="#fca636"/>
<circle cx="735.9" cy="232.5" r="2.2" fill="#fdc328"/>
<circle cx="736.2" cy="234.4" r="2.2" fill="#fad824"/>
<circle cx="736.2" cy="237.7" r="2.2" fill="#fad824"/>
<circle cx="736.0" cy="243.2" r="2.2" fill="#fca636"/>
<circle cx="736.1" cy="247.3" r="2.2" fill="#fca636"/>
<circle cx="736.0" cy="251.2" r="2.2" fill="#fcce25"/>
<circle cx="736.0" cy="254.6" r="2.2" fill="#fad824"/>
<circle cx="735.9" cy="260.4" r="2.2" fill="#fcce25"/>
<circle cx="736.0" cy="261.7" r="2.2" fill="#fad824"/>
<circle cx="736.0" cy="267.1" r="2.2" fill="#fad824"/>
<circle cx="736.2" cy="272.3" r="2.2" fill="#fad824"/>
<circle cx="736.0" cy="275.2" r="2.2" fill="#fca636"/>
<circle cx="735.9" cy="278.8" r="2.2" fill="#fdc328"/>
<circle cx="735.9" cy="282.1" r="2.2" fill="#fca636"/>
<circle cx="736.1" cy="286.6" r="2.2" fill="#fad824"/>
<circle cx="736.2" cy="291.1" r="2.2" fill="#fdc328"/>
<circle cx="736.2" cy="295.7" r="2.2" fill="#fad824"/>
<circle cx="735.9" cy="297.8" r="2.2" fill="#fad824"/>
<circle cx="736.0" cy="301.4" r="2.2" fill="#fad824"/>
<circle cx="736.1" cy="306.6" r="2.2" fill="#fad824"/>
<circle cx="736.2" cy="310.7" r="2.2" fill="#fad824"/>
<circle cx="736.0" cy="315.1" r="2.2" fill="#fad824"/>
<circle cx="736.1" cy="316.6" r="2.2" fill="#fad824"/>
<circle cx="736.1" cy="322.3" r="2.2" fill="#fcce25"/>
<circle cx="735.9" cy="326.0" r="2.2" fill="#fad824"/>
<circle cx="735.9" cy="330.4" r="2.2" fill="#fad824"/>
<circle cx="736.2" cy="334.1" r="2.2" fill="#fad824"/>
<circle cx="735.8" cy="336.8" r="2.2" fill="#fcce25"/>
<circle cx="735.8" cy="340.5" r="2.2" fill="#fad824"/>
<circle cx="736.0" cy="346.7" r="2.2" fill="#fcce25"/>
<circle cx="736.1" cy="348.3" r="2.2" fill="#fad824"/>
<circle cx="736.1" cy="353.0" r="2.2" fill="#fcce25"/>
<circle cx="735.9" cy="356.5" r="2.2" fill="#fad824"/>
<circle cx="735.8" cy="362.8" r="2.2" fill="#fad824"/>
<circle cx="735.9" cy="365.3" r="2.2" fill="#fad824"/>
<circle cx="735.8" cy="370.6" r="2.2" fill="#fad824"/>
<circle cx="736.2" cy="373.1" r="2.2" fill="#fcce25"/>
<circle cx="735.9" cy="375.8" r="2.2" fill="#fca636"/>
<circle cx="736.1" cy="380.6" r="2.2" fill="#fdc328"/>
<circle cx="736.1" cy="384.5" r="2.2" fill="#fcce25"/>
<circle cx="736.2" cy="389.1" r="2.2" fill="#fca636"/>
<circle cx="735.9" cy="392.7" r="2.2" fill="#fcce25"/>
<circle cx="917.0" cy="130.0" r="2.2" fill="#fcce25"/>
<circle cx="917.0" cy="136.3" r="2.2" fill="#fad824"/>
<circle cx="917.0" cy="130.7" r="2.2" fill="#fad824"/>
<circle cx="917.0" cy="129.8" r="2.2" fill="#fad824"/>
<circle cx="917.0" cy="132.9" r="2.2" fill="#fad824"/>
<circle cx="917.0" cy="126.9" r="2.2" fill="#fad824"/>
<circle cx="917.0" cy="143.6" r="2.2" fill="#fad824"/>
<circle cx="917.0" cy="145.1" r="2.2" fill="#fad824"/>
<circle cx="917.0" cy="147.3" r="2.2" fill="#fad824"/>
<circle cx="917.0" cy="148.9" r="2.2" fill="#fad824"/>
<circle cx="917.0" cy="150.7" r="2.2" fill="#fad824"/>
<circle cx="917.0" cy="152.3" r="2.2" fill="#fcce25"/>
<circle cx="917.0" cy="153.3" r="2.2" fill="#fcce25"/>
<circle cx="917.0" cy="155.7" r="2.2" fill="#fad824"/>
<circle cx="917.0" cy="156.7" r="2.2" fill="#fad824"/>
<circle cx="917.0" cy="157.9" r="2.2" fill="#fcce25"/>
<circle cx="917.0" cy="160.5" r="2.2" fill="#fad824"/>
<circle cx="917.0" cy="161.3" r="2.2" fill="#fad824"/>
<circle cx="917.0" cy="163.7" r="2.2" fill="#fad824"/>
<circle cx="917.0" cy="164.9" r="2.2" fill="#fad824"/>
<circle cx="917.0" cy="166.3" r="2.2" fill="#fad824"/>
<circle cx="917.0" cy="167.8" r="2.2" fill="#fad824"/>
<circle cx="917.0" cy="169.2" r="2.2" fill="#f7e425"/>
<circle cx="917.0" cy="171.5" r="2.2" fill="#fad824"/>
<circle cx="917.0" cy="172.7" r="2.2" fill="#fad824"/>
<circle cx="917.0" cy="174.0" r="2.2" fill="#fad824"/>
<circle cx="917.0" cy="175.6" r="2.2" fill="#fcce25"/>
<circle cx="917.0" cy="177.6" r="2.2" fill="#f7e425"/>
<circle cx="917.0" cy="179.9" r="2.2" fill="#f7e425"/>
<circle cx="917.0" cy="180.7" r="2.2" fill="#fad824"/>
<circle cx="917.0" cy="182.8" r="2.2" fill="#fad824"/>
<circle cx="917.0" cy="184.4" r="2.2" fill="#fad824"/>
<circle cx="917.0" cy="186.3" r="2.2" fill="#fad824"/>
<circle cx="917.0" cy="187.0" r="2.2" fill="#fad824"/>
<circle cx="917.0" cy="189.4" r="2.2" fill="#fcce25"/>
<circle cx="917.0" cy="190.1" r="2.2" fill="#fad824"/>
<circle cx="917.0" cy="192.0" r="2.2" fill="#fad824"/>
<circle cx="917.0" cy="193.7" r="2.2" fill="#fad824"/>
<circle cx="917.0" cy="196.0" r="2.2" fill="#fad824"/>
<circle cx="917.0" cy="196.8" r="2.2" fill="#fad824"/>
<circle cx="917.0" cy="198.6" r="2.2" fill="#fad824"/>
<circle cx="917.0" cy="200.7" r="2.2" fill="#fad824"/>
<circle cx="917.0" cy="202.4" r="2.2" fill="#fad824"/>
<circle cx="917.0" cy="203.3" r="2.2" fill="#fad824"/>
<circle cx="917.0" cy="204.8" r="2.2" fill="#f7e425"/>
<circle cx="917.0" cy="206.3" r="2.2" fill="#fad824"/>
<circle cx="917.0" cy="208.8" r="2.2" fill="#fcce25"/>
<circle cx="917.0" cy="209.5" r="2.2" fill="#f7e425"/>
<circle cx="917.0" cy="212.2" r="2.2" fill="#fad824"/>
<circle cx="917.0" cy="213.7" r="2.2" fill="#fad824"/>
<circle cx="917.0" cy="214.3" r="2.2" fill="#fad824"/>
<circle cx="917.0" cy="216.5" r="2.2" fill="#f7e425"/>
<circle cx="917.0" cy="218.5" r="2.2" fill="#fad824"/>
<circle cx="917.0" cy="220.2" r="2.2" fill="#fad824"/>
<circle cx="917.0" cy="222.0" r="2.2" fill="#fad824"/>
<circle cx="917.0" cy="222.7" r="2.2" fill="#fad824"/>
<circle cx="917.0" cy="224.5" r="2.2" fill="#fad824"/>
<circle cx="917.0" cy="225.8" r="2.2" fill="#fcce25"/>
<circle cx="917.0" cy="227.5" r="2.2" fill="#fad824"/>
<circle cx="917.0" cy="229.4" r="2.2" fill="#f7e425"/>
<circle cx="917.0" cy="230.8" r="2.2" fill="#f7e425"/>
<circle cx="917.0" cy="232.8" r="2.2" fill="#fad824"/>
<circle cx="917.0" cy="234.4" r="2.2" fill="#fcce25"/>
<circle cx="917.0" cy="236.1" r="2.2" fill="#fad824"/>
<circle cx="917.0" cy="237.9" r="2.2" fill="#fcce25"/>
<circle cx="917.0" cy="238.9" r="2.2" fill="#fad824"/>
<circle cx="917.0" cy="240.2" r="2.2" fill="#fad824"/>
<circle cx="917.0" cy="242.6" r="2.2" fill="#fad824"/>
<circle cx="917.0" cy="243.8" r="2.2" fill="#fad824"/>
<circle cx="917.0" cy="245.2" r="2.2" fill="#fad824"/>
<circle cx="917.0" cy="247.9" r="2.2" fill="#fcce25"/>
<circle cx="917.0" cy="249.1" r="2.2" fill="#f7e425"/>
<circle cx="917.0" cy="250.0" r="2.2" fill="#fad824"/>
<circle cx="917.0" cy="251.7" r="2.2" fill="#fad824"/>
<circle cx="917.0" cy="254.2" r="2.2" fill="#fad824"/>
<circle cx="917.0" cy="255.9" r="2.2" fill="#fad824"/>
<circle cx="917.0" cy="256.6" r="2.2" fill="#fad824"/>
<circle cx="917.0" cy="258.9" r="2.2" fill="#fcce25"/>
<circle cx="917.0" cy="259.8" r="2.2" fill="#fad824"/>
<circle cx="917.0" cy="262.3" r="2.2" fill="#fad824"/>
<circle cx="917.0" cy="263.8" r="2.2" fill="#fcce25"/>
<circle cx="917.0" cy="264.6" r="2.2" fill="#fcce25"/>
<circle cx="917.0" cy="266.5" r="2.2" fill="#fad824"/>
<circle cx="917.0" cy="268.7" r="2.2" fill="#fad824"/>
<circle cx="917.0" cy="269.9" r="2.2" fill="#fad824"/>
<circle cx="917.0" cy="271.7" r="2.2" fill="#f7e425"/>
<circle cx="917.0" cy="273.1" r="2.2" fill="#fad824"/>
<circle cx="917.0" cy="274.5" r="2.2" fill="#fad824"/>
<circle cx="917.0" cy="276.6" r="2.2" fill="#fad824"/>
<circle cx="917.0" cy="278.5" r="2.2" fill="#fad824"/>
<circle cx="917.0" cy="279.5" r="2.2" fill="#fad824"/>
<circle cx="917.0" cy="280.5" r="2.2" fill="#fcce25"/>
<circle cx="917.0" cy="283.2" r="2.2" fill="#fad824"/>
<circle cx="917.0" cy="284.6" r="2.2" fill="#fad824"/>
<circle cx="917.0" cy="285.8" r="2.2" fill="#fad824"/>
<circle cx="917.0" cy="288.1" r="2.2" fill="#f7e425"/>
<circle cx="917.0" cy="289.0" r="2.2" fill="#fad824"/>
<circle cx="917.0" cy="290.7" r="2.2" fill="#fad824"/>
<circle cx="917.0" cy="292.3" r="2.2" fill="#fad824"/>
<circle cx="917.0" cy="294.6" r="2.2" fill="#f7e425"/>
<circle cx="917.0" cy="296.3" r="2.2" fill="#fad824"/>
<circle cx="917.0" cy="296.8" r="2.2" fill="#fad824"/>
<circle cx="917.0" cy="298.7" r="2.2" fill="#fad824"/>
<circle cx="917.0" cy="300.5" r="2.2" fill="#fad824"/>
<circle cx="917.0" cy="302.0" r="2.2" fill="#f7e425"/>
<circle cx="917.0" cy="303.4" r="2.2" fill="#fad824"/>
<circle cx="917.0" cy="304.9" r="2.2" fill="#fad824"/>
<circle cx="917.0" cy="307.1" r="2.2" fill="#fad824"/>
<circle cx="917.0" cy="308.7" r="2.2" fill="#fad824"/>
<circle cx="917.0" cy="309.9" r="2.2" fill="#f7e425"/>
<circle cx="917.0" cy="311.4" r="2.2" fill="#f7e425"/>
<circle cx="917.0" cy="313.0" r="2.2" fill="#fad824"/>
<circle cx="917.0" cy="315.1" r="2.2" fill="#fad824"/>
<circle cx="917.0" cy="316.8" r="2.2" fill="#fad824"/>
<circle cx="917.0" cy="318.5" r="2.2" fill="#fad824"/>
<circle cx="917.0" cy="319.4" r="2.2" fill="#fad824"/>
<circle cx="917.0" cy="321.6" r="2.2" fill="#fcce25"/>
<circle cx="917.0" cy="322.7" r="2.2" fill="#f7e425"/>
<circle cx="917.0" cy="329.3" r="2.2" fill="#fcce25"/>
<circle cx="917.0" cy="331.0" r="2.2" fill="#f7e425"/>
<circle cx="917.0" cy="333.4" r="2.2" fill="#fad824"/>
<circle cx="917.0" cy="334.1" r="2.2" fill="#fad824"/>
<circle cx="917.0" cy="335.6" r="2.2" fill="#fad824"/>
<circle cx="917.0" cy="337.6" r="2.2" fill="#fcce25"/>
<circle cx="917.0" cy="340.0" r="2.2" fill="#fad824"/>
<circle cx="917.0" cy="341.2" r="2.2" fill="#f7e425"/>
<circle cx="917.0" cy="342.3" r="2.2" fill="#fcce25"/>
<circle cx="917.0" cy="344.7" r="2.2" fill="#fad824"/>
<circle cx="917.0" cy="345.5" r="2.2" fill="#fad824"/>
<circle cx="917.0" cy="348.2" r="2.2" fill="#fcce25"/>
<circle cx="917.0" cy="349.3" r="2.2" fill="#fad824"/>
<circle cx="917.0" cy="351.2" r="2.2" fill="#fad824"/>
<circle cx="917.0" cy="352.7" r="2.2" fill="#fad824"/>
<circle cx="917.0" cy="354.0" r="2.2" fill="#fcce25"/>
<circle cx="917.0" cy="355.2" r="2.2" fill="#fad824"/>
<circle cx="917.0" cy="357.7" r="2.2" fill="#fad824"/>
<circle cx="917.0" cy="358.6" r="2.2" fill="#fad824"/>
<circle cx="917.0" cy="360.1" r="2.2" fill="#f7e425"/>
<circle cx="917.0" cy="362.4" r="2.2" fill="#fcce25"/>
<circle cx="917.0" cy="363.1" r="2.2" fill="#fad824"/>
<circle cx="917.0" cy="365.4" r="2.2" fill="#f7e425"/>
<circle cx="917.0" cy="366.4" r="2.2" fill="#fad824"/>
<circle cx="917.0" cy="368.8" r="2.2" fill="#fad824"/>
<circle cx="917.0" cy="369.8" r="2.2" fill="#fcce25"/>
<circle cx="917.0" cy="372.3" r="2.2" fill="#fad824"/>
<circle cx="917.0" cy="373.2" r="2.2" fill="#fad824"/>
<circle cx="917.0" cy="375.2" r="2.2" fill="#fad824"/>
<circle cx="917.0" cy="376.5" r="2.2" fill="#fad824"/>
<circle cx="917.0" cy="378.2" r="2.2" fill="#fad824"/>
<circle cx="917.0" cy="380.0" r="2.2" fill="#fad824"/>
<circle cx="917.0" cy="381.5" r="2.2" fill="#f7e425"/>
<circle cx="917.0" cy="382.7" r="2.2" fill="#fad824"/>
<circle cx="917.0" cy="384.5" r="2.2" fill="#fad824"/>
<circle cx="917.0" cy="386.5" r="2.2" fill="#fad824"/>
<circle cx="917.0" cy="388.6" r="2.2" fill="#fad824"/>
<circle cx="917.0" cy="390.0" r="2.2" fill="#f7e425"/>
<circle cx="917.0" cy="391.4" r="2.2" fill="#fad824"/>
<circle cx="917.0" cy="392.6" r="2.2" fill="#fcce25"/>
<circle cx="917.0" cy="395.0" r="2.2" fill="#fad824"/>
<circle cx="917.0" cy="396.4" r="2.2" fill="#fcce25"/>
<circle cx="917.0" cy="397.9" r="2.2" fill="#fad824"/>
<circle cx="917.0" cy="399.2" r="2.2" fill="#fad824"/>
<circle cx="917.0" cy="400.7" r="2.2" fill="#f7e425"/>
<circle cx="917.0" cy="402.4" r="2.2" fill="#fad824"/>
<circle cx="917.0" cy="404.0" r="2.2" fill="#fad824"/>
<circle cx="917.0" cy="406.3" r="2.2" fill="#fad824"/>
<circle cx="917.0" cy="407.5" r="2.2" fill="#fad824"/>
<circle cx="917.0" cy="408.4" r="2.2" fill="#fad824"/>
<circle cx="917.0" cy="410.9" r="2.2" fill="#fad824"/>
<circle cx="917.0" cy="412.0" r="2.2" fill="#f7e425"/>
<circle cx="917.0" cy="413.3" r="2.2" fill="#fad824"/>
<circle cx="917.0" cy="416.1" r="2.2" fill="#fad824"/>
<circle cx="917.0" cy="417.0" r="2.2" fill="#f7e425"/>
<circle cx="917.0" cy="418.7" r="2.2" fill="#f7e425"/>
<circle cx="917.0" cy="420.0" r="2.2" fill="#fad824"/>
<circle cx="917.0" cy="421.6" r="2.2" fill="#fcce25"/>
<circle cx="917.0" cy="423.4" r="2.2" fill="#fad824"/>
<circle cx="917.0" cy="425.6" r="2.2" fill="#fad824"/>
<circle cx="917.0" cy="427.1" r="2.2" fill="#f7e425"/>
<circle cx="917.0" cy="427.9" r="2.2" fill="#fcce25"/>
<circle cx="917.0" cy="429.8" r="2.2" fill="#fad824"/>
<circle cx="917.0" cy="431.7" r="2.2" fill="#f7e425"/>
<circle cx="917.0" cy="433.8" r="2.2" fill="#fad824"/>
<circle cx="917.0" cy="435.2" r="2.2" fill="#fad824"/>
<circle cx="917.0" cy="436.7" r="2.2" fill="#fad824"/>
<circle cx="917.0" cy="438.0" r="2.2" fill="#fad824"/>
<circle cx="917.0" cy="439.5" r="2.2" fill="#fad824"/>
<circle cx="917.0" cy="441.0" r="2.2" fill="#fad824"/>
<circle cx="917.0" cy="443.5" r="2.2" fill="#fad824"/>
<circle cx="917.0" cy="444.0" r="2.2" fill="#fad824"/>
<circle cx="917.0" cy="446.0" r="2.2" fill="#fad824"/>
<circle cx="917.0" cy="447.3" r="2.2" fill="#fcce25"/>
<circle cx="917.0" cy="449.8" r="2.2" fill="#fad824"/>
<circle cx="917.0" cy="451.1" r="2.2" fill="#fad824"/>
<circle cx="917.0" cy="452.8" r="2.2" fill="#fad824"/>
<circle cx="917.0" cy="453.9" r="2.2" fill="#fcce25"/>
<circle cx="917.0" cy="456.2" r="2.2" fill="#fad824"/>
<circle cx="917.0" cy="458.1" r="2.2" fill="#fad824"/>
<circle cx="917.0" cy="459.1" r="2.2" fill="#f7e425"/>
<circle cx="917.0" cy="460.1" r="2.2" fill="#fad824"/>
<circle cx="917.0" cy="462.7" r="2.2" fill="#fad824"/>
<circle cx="917.0" cy="463.6" r="2.2" fill="#fcce25"/>
<circle cx="917.0" cy="465.0" r="2.2" fill="#fad824"/>
<circle cx="917.0" cy="467.2" r="2.2" fill="#fad824"/>
</g><g clip-path="url(#clipBot)">
<circle cx="275.5" cy="672.1" r="2.2" fill="#94ff63"/>
<circle cx="296.7" cy="688.4" r="2.2" fill="#63ff94"/>
<circle cx="349.7" cy="681.7" r="2.2" fill="#0a3cff"/>
<circle cx="382.4" cy="657.2" r="2.2" fill="#1a80ff"/>
<circle cx="382.4" cy="660.7" r="2.2" fill="#1a80ff"/>
<circle cx="381.6" cy="665.1" r="2.2" fill="#1a80ff"/>
<circle cx="487.4" cy="698.3" r="2.2" fill="#7aff7d"/>
<circle cx="299.9" cy="712.0" r="2.2" fill="#63ff94"/>
<circle cx="258.7" cy="727.2" r="2.2" fill="#7aff7d"/>
<circle cx="254.9" cy="739.1" r="2.2" fill="#94ff63"/>
<circle cx="263.5" cy="749.1" r="2.2" fill="#55ffa2"/>
<circle cx="250.9" cy="751.7" r="2.2" fill="#86ff70"/>
<circle cx="258.2" cy="755.2" r="2.2" fill="#86ff70"/>
<circle cx="258.7" cy="757.9" r="2.2" fill="#94ff63"/>
<circle cx="299.9" cy="731.8" r="2.2" fill="#94ff63"/>
<circle cx="333.4" cy="722.0" r="2.2" fill="#86ff70"/>
<circle cx="308.1" cy="757.0" r="2.2" fill="#55ffa2"/>
<circle cx="323.8" cy="758.7" r="2.2" fill="#55ffa2"/>
<circle cx="331.0" cy="751.7" r="2.2" fill="#86ff70"/>
<circle cx="342.2" cy="736.9" r="2.2" fill="#55ffa2"/>
<circle cx="340.1" cy="745.4" r="2.2" fill="#63ff94"/>
<circle cx="353.6" cy="733.5" r="2.2" fill="#94ff63"/>
<circle cx="360.7" cy="756.1" r="2.2" fill="#94ff63"/>
<circle cx="367.9" cy="746.1" r="2.2" fill="#94ff63"/>
<circle cx="376.8" cy="734.2" r="2.2" fill="#7aff7d"/>
<circle cx="381.4" cy="722.3" r="2.2" fill="#94ff63"/>
<circle cx="398.7" cy="728.5" r="2.2" fill="#94ff63"/>
<circle cx="402.6" cy="755.6" r="2.2" fill="#94ff63"/>
<circle cx="429.0" cy="743.9" r="2.2" fill="#63ff94"/>
<circle cx="434.2" cy="727.2" r="2.2" fill="#86ff70"/>
<circle cx="437.7" cy="729.9" r="2.2" fill="#55ffa2"/>
<circle cx="441.4" cy="744.7" r="2.2" fill="#63ff94"/>
<circle cx="448.9" cy="725.8" r="2.2" fill="#94ff63"/>
<circle cx="449.8" cy="736.2" r="2.2" fill="#86ff70"/>
<circle cx="466.4" cy="731.3" r="2.2" fill="#86ff70"/>
<circle cx="473.4" cy="744.2" r="2.2" fill="#55ffa2"/>
<circle cx="476.4" cy="735.5" r="2.2" fill="#86ff70"/>
<circle cx="487.2" cy="721.5" r="2.2" fill="#55ffa2"/>
<circle cx="492.0" cy="745.6" r="2.2" fill="#55ffa2"/>
<circle cx="490.2" cy="750.0" r="2.2" fill="#94ff63"/>
<circle cx="496.7" cy="755.8" r="2.2" fill="#55ffa2"/>
<circle cx="493.2" cy="763.5" r="2.2" fill="#7aff7d"/>
<circle cx="499.3" cy="723.2" r="2.2" fill="#63ff94"/>
<circle cx="490.0" cy="774.0" r="2.2" fill="#94ff63"/>
<circle cx="465.4" cy="774.5" r="2.2" fill="#7aff7d"/>
<circle cx="439.3" cy="778.3" r="2.2" fill="#86ff70"/>
<circle cx="370.4" cy="780.3" r="2.2" fill="#86ff70"/>
<circle cx="264.0" cy="784.5" r="2.2" fill="#94ff63"/>
<circle cx="252.4" cy="790.2" r="2.2" fill="#7aff7d"/>
<circle cx="261.9" cy="793.2" r="2.2" fill="#86ff70"/>
<circle cx="275.0" cy="791.3" r="2.2" fill="#94ff63"/>
<circle cx="310.7" cy="800.2" r="2.2" fill="#7aff7d"/>
<circle cx="326.3" cy="798.3" r="2.2" fill="#7aff7d"/>
<circle cx="339.9" cy="797.9" r="2.2" fill="#94ff63"/>
<circle cx="356.2" cy="792.2" r="2.2" fill="#94ff63"/>
<circle cx="450.0" cy="786.9" r="2.2" fill="#86ff70"/>
<circle cx="449.3" cy="792.0" r="2.2" fill="#55ffa2"/>
<circle cx="459.9" cy="785.5" r="2.2" fill="#94ff63"/>
<circle cx="468.7" cy="794.6" r="2.2" fill="#63ff94"/>
<circle cx="474.3" cy="795.3" r="2.2" fill="#55ffa2"/>
<circle cx="486.5" cy="779.7" r="2.2" fill="#7aff7d"/>
<circle cx="494.9" cy="793.0" r="2.2" fill="#7aff7d"/>
<circle cx="496.7" cy="793.7" r="2.2" fill="#94ff63"/>
<circle cx="473.9" cy="805.1" r="2.2" fill="#7aff7d"/>
<circle cx="476.9" cy="805.4" r="2.2" fill="#94ff63"/>
<circle cx="482.3" cy="808.4" r="2.2" fill="#63ff94"/>
<circle cx="284.5" cy="817.3" r="2.2" fill="#55ffa2"/>
<circle cx="307.2" cy="822.6" r="2.2" fill="#7aff7d"/>
<circle cx="270.1" cy="830.1" r="2.2" fill="#55ffa2"/>
<circle cx="491.6" cy="832.9" r="2.2" fill="#7aff7d"/>
<circle cx="481.1" cy="839.6" r="2.2" fill="#63ff94"/>
<circle cx="436.0" cy="842.9" r="2.2" fill="#7aff7d"/>
<circle cx="302.7" cy="855.3" r="2.2" fill="#63ff94"/>
<circle cx="346.2" cy="855.7" r="2.2" fill="#63ff94"/>
<circle cx="358.1" cy="855.7" r="2.2" fill="#7aff7d"/>
<circle cx="384.7" cy="855.3" r="2.2" fill="#55ffa2"/>
<circle cx="386.5" cy="855.3" r="2.2" fill="#63ff94"/>
<circle cx="398.2" cy="855.3" r="2.2" fill="#63ff94"/>
<circle cx="407.5" cy="856.4" r="2.2" fill="#86ff70"/>
<circle cx="476.4" cy="855.3" r="2.2" fill="#63ff94"/>
<circle cx="521.0" cy="690.5" r="2.2" fill="#63ff94"/>
<circle cx="505.2" cy="712.0" r="2.2" fill="#63ff94"/>
<circle cx="552.8" cy="702.7" r="2.2" fill="#86ff70"/>
<circle cx="582.1" cy="698.0" r="2.2" fill="#94ff63"/>
<circle cx="593.9" cy="671.7" r="2.2" fill="#86ff70"/>
<circle cx="589.2" cy="707.4" r="2.2" fill="#55ffa2"/>
<circle cx="600.2" cy="695.4" r="2.2" fill="#55ffa2"/>
<circle cx="609.3" cy="696.8" r="2.2" fill="#7aff7d"/>
<circle cx="603.9" cy="713.5" r="2.2" fill="#55ffa2"/>
<circle cx="615.1" cy="713.2" r="2.2" fill="#63ff94"/>
<circle cx="620.4" cy="709.3" r="2.2" fill="#86ff70"/>
<circle cx="626.8" cy="703.2" r="2.2" fill="#86ff70"/>
<circle cx="626.0" cy="708.8" r="2.2" fill="#ff2500"/>
<circle cx="630.9" cy="707.9" r="2.2" fill="#df0000"/>
<circle cx="626.0" cy="557.1" r="2.2" fill="#c1ff36"/>
<circle cx="626.0" cy="568.9" r="2.2" fill="#000096"/>
<circle cx="626.0" cy="581.3" r="2.2" fill="#000096"/>
<circle cx="626.0" cy="659.8" r="2.2" fill="#00009f"/>
<circle cx="626.0" cy="677.3" r="2.2" fill="#00009b"/>
<circle cx="630.9" cy="548.4" r="2.2" fill="#0000b2"/>
<circle cx="630.9" cy="567.1" r="2.2" fill="#0000ad"/>
<circle cx="630.9" cy="593.7" r="2.2" fill="#0075ff"/>
<circle cx="630.9" cy="637.1" r="2.2" fill="#e4ff13"/>
<circle cx="630.9" cy="650.6" r="2.2" fill="#c80000"/>
<circle cx="630.9" cy="696.2" r="2.2" fill="#b20000"/>
<circle cx="637.0" cy="546.6" r="2.2" fill="#ff1a00"/>
<circle cx="637.0" cy="556.3" r="2.2" fill="#02e8f4"/>
<circle cx="637.0" cy="571.1" r="2.2" fill="#008cff"/>
<circle cx="637.0" cy="580.1" r="2.2" fill="#bf0000"/>
<circle cx="639.4" cy="605.3" r="2.2" fill="#ebff0c"/>
<circle cx="637.0" cy="610.0" r="2.2" fill="#46ffb1"/>
<circle cx="637.0" cy="613.5" r="2.2" fill="#ff1600"/>
<circle cx="637.0" cy="617.0" r="2.2" fill="#deff19"/>
<circle cx="637.0" cy="639.7" r="2.2" fill="#890000"/>
<circle cx="637.0" cy="645.3" r="2.2" fill="#000096"/>
<circle cx="637.0" cy="680.5" r="2.2" fill="#b20000"/>
<circle cx="637.0" cy="703.6" r="2.2" fill="#c80000"/>
<circle cx="637.0" cy="708.8" r="2.2" fill="#0cf4eb"/>
<circle cx="640.8" cy="593.0" r="2.2" fill="#feed00"/>
<circle cx="640.8" cy="619.3" r="2.2" fill="#000089"/>
<circle cx="640.8" cy="637.1" r="2.2" fill="#0000ad"/>
<circle cx="640.8" cy="661.1" r="2.2" fill="#d7ff1f"/>
<circle cx="640.8" cy="693.4" r="2.2" fill="#000096"/>
<circle cx="640.0" cy="707.6" r="2.2" fill="#0000b2"/>
<circle cx="643.5" cy="546.1" r="2.2" fill="#ffc400"/>
<circle cx="646.1" cy="547.0" r="2.2" fill="#9f0000"/>
<circle cx="645.2" cy="556.3" r="2.2" fill="#ad0000"/>
<circle cx="648.7" cy="556.1" r="2.2" fill="#ff6f00"/>
<circle cx="645.2" cy="562.7" r="2.2" fill="#0000c8"/>
<circle cx="648.7" cy="563.6" r="2.2" fill="#a40000"/>
<circle cx="645.2" cy="568.0" r="2.2" fill="#23ffd4"/>
<circle cx="647.8" cy="569.7" r="2.2" fill="#00008d"/>
<circle cx="645.2" cy="577.6" r="2.2" fill="#a80000"/>
<circle cx="647.8" cy="576.7" r="2.2" fill="#920000"/>
<circle cx="648.7" cy="581.5" r="2.2" fill="#ffde00"/>
<circle cx="645.2" cy="587.2" r="2.2" fill="#000084"/>
<circle cx="647.8" cy="588.1" r="2.2" fill="#920000"/>
<circle cx="645.2" cy="593.4" r="2.2" fill="#0000a4"/>
<circle cx="645.2" cy="600.7" r="2.2" fill="#0000c4"/>
<circle cx="645.2" cy="608.8" r="2.2" fill="#c80000"/>
<circle cx="648.7" cy="613.5" r="2.2" fill="#bb0000"/>
<circle cx="648.7" cy="615.2" r="2.2" fill="#00b8ff"/>
<circle cx="645.2" cy="618.7" r="2.2" fill="#0000c8"/>
<circle cx="645.2" cy="622.2" r="2.2" fill="#0000df"/>
<circle cx="645.2" cy="626.2" r="2.2" fill="#63ff94"/>
<circle cx="645.2" cy="631.0" r="2.2" fill="#0065ff"/>
<circle cx="648.7" cy="631.8" r="2.2" fill="#0000ad"/>
<circle cx="645.2" cy="635.3" r="2.2" fill="#0000ff"/>
<circle cx="645.2" cy="641.5" r="2.2" fill="#c80000"/>
<circle cx="643.5" cy="644.1" r="2.2" fill="#dbff1c"/>
<circle cx="645.2" cy="649.3" r="2.2" fill="#f8f500"/>
<circle cx="648.7" cy="653.2" r="2.2" fill="#b60000"/>
<circle cx="648.7" cy="659.0" r="2.2" fill="#0000a4"/>
<circle cx="645.2" cy="662.5" r="2.2" fill="#000084"/>
<circle cx="644.3" cy="666.8" r="2.2" fill="#94ff63"/>
<circle cx="648.7" cy="666.3" r="2.2" fill="#a80000"/>
<circle cx="643.5" cy="685.2" r="2.2" fill="#00c8ff"/>
<circle cx="645.2" cy="679.4" r="2.2" fill="#000080"/>
<circle cx="648.7" cy="681.7" r="2.2" fill="#840000"/>
<circle cx="647.0" cy="687.8" r="2.2" fill="#0000bf"/>
<circle cx="645.2" cy="690.8" r="2.2" fill="#c80000"/>
<circle cx="643.5" cy="699.2" r="2.2" fill="#8d0000"/>
<circle cx="648.7" cy="703.9" r="2.2" fill="#000084"/>
<circle cx="645.2" cy="705.9" r="2.2" fill="#960000"/>
<circle cx="646.1" cy="709.7" r="2.2" fill="#63ff94"/>
<circle cx="647.8" cy="714.1" r="2.2" fill="#ff4300"/>
<circle cx="690.7" cy="564.5" r="2.2" fill="#840000"/>
<circle cx="684.9" cy="576.7" r="2.2" fill="#ff3400"/>
<circle cx="692.1" cy="663.3" r="2.2" fill="#b60000"/>
<circle cx="689.3" cy="686.1" r="2.2" fill="#55ffa2"/>
<circle cx="692.4" cy="703.6" r="2.2" fill="#63ff94"/>
<circle cx="691.0" cy="709.7" r="2.2" fill="#94ff63"/>
<circle cx="702.6" cy="703.1" r="2.2" fill="#86ff70"/>
<circle cx="704.7" cy="708.8" r="2.2" fill="#7aff7d"/>
<circle cx="721.8" cy="551.7" r="2.2" fill="#0000c8"/>
<circle cx="726.6" cy="548.7" r="2.2" fill="#b7ff40"/>
<circle cx="721.8" cy="563.3" r="2.2" fill="#0000bf"/>
<circle cx="721.8" cy="578.7" r="2.2" fill="#002dff"/>
<circle cx="726.6" cy="577.6" r="2.2" fill="#960000"/>
<circle cx="721.8" cy="591.1" r="2.2" fill="#55ffa2"/>
<circle cx="721.8" cy="596.2" r="2.2" fill="#ff7a00"/>
<circle cx="721.8" cy="606.5" r="2.2" fill="#0000a4"/>
<circle cx="726.6" cy="611.9" r="2.2" fill="#9b0000"/>
<circle cx="721.8" cy="630.4" r="2.2" fill="#ffdb00"/>
<circle cx="726.6" cy="672.1" r="2.2" fill="#63ff94"/>
<circle cx="726.6" cy="676.5" r="2.2" fill="#55ffa2"/>
<circle cx="724.8" cy="704.5" r="2.2" fill="#63ff94"/>
<circle cx="718.7" cy="714.1" r="2.2" fill="#94ff63"/>
<circle cx="723.9" cy="714.1" r="2.2" fill="#7aff7d"/>
<circle cx="741.1" cy="562.7" r="2.2" fill="#000089"/>
<circle cx="741.1" cy="566.2" r="2.2" fill="#0038ff"/>
<circle cx="741.1" cy="572.4" r="2.2" fill="#8d0000"/>
<circle cx="741.1" cy="578.5" r="2.2" fill="#a80000"/>
<circle cx="741.1" cy="582.0" r="2.2" fill="#0000a8"/>
<circle cx="741.1" cy="587.2" r="2.2" fill="#00009f"/>
<circle cx="741.1" cy="590.7" r="2.2" fill="#7aff7d"/>
<circle cx="741.1" cy="614.4" r="2.2" fill="#f1fc06"/>
<circle cx="741.1" cy="621.7" r="2.2" fill="#000096"/>
<circle cx="741.1" cy="633.9" r="2.2" fill="#00adff"/>
<circle cx="741.1" cy="649.3" r="2.2" fill="#840000"/>
<circle cx="741.1" cy="652.0" r="2.2" fill="#0058ff"/>
<circle cx="741.1" cy="661.9" r="2.2" fill="#8d0000"/>
<circle cx="741.1" cy="675.6" r="2.2" fill="#0000bb"/>
<circle cx="741.1" cy="679.1" r="2.2" fill="#c80000"/>
<circle cx="741.1" cy="688.7" r="2.2" fill="#c1ff36"/>
<circle cx="741.1" cy="694.0" r="2.2" fill="#ff8900"/>
<circle cx="741.1" cy="697.5" r="2.2" fill="#8d0000"/>
<circle cx="741.1" cy="709.7" r="2.2" fill="#ff4700"/>
<circle cx="741.1" cy="713.2" r="2.2" fill="#c40000"/>
<circle cx="500.9" cy="722.9" r="2.2" fill="#55ffa2"/>
<circle cx="514.3" cy="720.2" r="2.2" fill="#63ff94"/>
<circle cx="520.1" cy="723.4" r="2.2" fill="#86ff70"/>
<circle cx="522.4" cy="721.6" r="2.2" fill="#94ff63"/>
<circle cx="525.7" cy="723.2" r="2.2" fill="#55ffa2"/>
<circle cx="554.8" cy="725.5" r="2.2" fill="#86ff70"/>
<circle cx="550.2" cy="729.0" r="2.2" fill="#63ff94"/>
<circle cx="548.1" cy="732.5" r="2.2" fill="#86ff70"/>
<circle cx="540.8" cy="734.2" r="2.2" fill="#7aff7d"/>
<circle cx="535.0" cy="742.5" r="2.2" fill="#86ff70"/>
<circle cx="550.2" cy="741.2" r="2.2" fill="#55ffa2"/>
<circle cx="555.5" cy="738.3" r="2.2" fill="#86ff70"/>
<circle cx="556.3" cy="743.3" r="2.2" fill="#86ff70"/>
<circle cx="504.9" cy="749.6" r="2.2" fill="#86ff70"/>
<circle cx="511.9" cy="748.2" r="2.2" fill="#55ffa2"/>
<circle cx="511.9" cy="755.2" r="2.2" fill="#94ff63"/>
<circle cx="555.5" cy="765.4" r="2.2" fill="#63ff94"/>
<circle cx="532.7" cy="771.0" r="2.2" fill="#94ff63"/>
<circle cx="538.8" cy="773.3" r="2.2" fill="#86ff70"/>
<circle cx="585.7" cy="720.2" r="2.2" fill="#94ff63"/>
<circle cx="594.1" cy="722.5" r="2.2" fill="#94ff63"/>
<circle cx="599.0" cy="722.0" r="2.2" fill="#63ff94"/>
<circle cx="604.1" cy="715.5" r="2.2" fill="#86ff70"/>
<circle cx="609.0" cy="725.1" r="2.2" fill="#7aff7d"/>
<circle cx="614.9" cy="715.0" r="2.2" fill="#63ff94"/>
<circle cx="572.3" cy="740.7" r="2.2" fill="#63ff94"/>
<circle cx="574.4" cy="742.6" r="2.2" fill="#86ff70"/>
<circle cx="572.3" cy="746.1" r="2.2" fill="#94ff63"/>
<circle cx="581.7" cy="746.8" r="2.2" fill="#86ff70"/>
<circle cx="566.5" cy="758.7" r="2.2" fill="#94ff63"/>
<circle cx="579.6" cy="758.7" r="2.2" fill="#86ff70"/>
<circle cx="581.7" cy="760.8" r="2.2" fill="#63ff94"/>
<circle cx="583.6" cy="764.9" r="2.2" fill="#7aff7d"/>
<circle cx="586.4" cy="757.9" r="2.2" fill="#86ff70"/>
<circle cx="595.0" cy="750.0" r="2.2" fill="#55ffa2"/>
<circle cx="599.0" cy="755.6" r="2.2" fill="#7aff7d"/>
<circle cx="609.7" cy="744.4" r="2.2" fill="#55ffa2"/>
<circle cx="614.2" cy="756.1" r="2.2" fill="#86ff70"/>
<circle cx="610.6" cy="762.6" r="2.2" fill="#7aff7d"/>
<circle cx="618.4" cy="740.4" r="2.2" fill="#7aff7d"/>
<circle cx="635.6" cy="718.0" r="2.2" fill="#7aff7d"/>
<circle cx="629.5" cy="730.7" r="2.2" fill="#55ffa2"/>
<circle cx="632.1" cy="730.2" r="2.2" fill="#86ff70"/>
<circle cx="637.0" cy="731.1" r="2.2" fill="#bb0000"/>
<circle cx="637.0" cy="737.4" r="2.2" fill="#caff2c"/>
<circle cx="626.0" cy="746.1" r="2.2" fill="#9b0000"/>
<circle cx="626.0" cy="751.7" r="2.2" fill="#ff9c00"/>
<circle cx="626.0" cy="759.3" r="2.2" fill="#0000c4"/>
<circle cx="637.0" cy="750.0" r="2.2" fill="#000092"/>
<circle cx="637.0" cy="760.5" r="2.2" fill="#000096"/>
<circle cx="637.0" cy="770.5" r="2.2" fill="#bf0000"/>
<circle cx="645.2" cy="717.6" r="2.2" fill="#c40000"/>
<circle cx="647.8" cy="716.7" r="2.2" fill="#0000ff"/>
<circle cx="645.2" cy="730.7" r="2.2" fill="#0000b6"/>
<circle cx="645.2" cy="736.0" r="2.2" fill="#000092"/>
<circle cx="648.7" cy="722.9" r="2.2" fill="#000084"/>
<circle cx="650.5" cy="725.5" r="2.2" fill="#94ff63"/>
<circle cx="648.7" cy="738.3" r="2.2" fill="#86ff70"/>
<circle cx="644.3" cy="740.4" r="2.2" fill="#000089"/>
<circle cx="647.0" cy="743.0" r="2.2" fill="#5dff9a"/>
<circle cx="645.2" cy="751.7" r="2.2" fill="#890000"/>
<circle cx="648.7" cy="752.6" r="2.2" fill="#c40000"/>
<circle cx="641.7" cy="757.0" r="2.2" fill="#86ff70"/>
<circle cx="648.7" cy="756.1" r="2.2" fill="#55ffa2"/>
<circle cx="645.2" cy="760.5" r="2.2" fill="#df0000"/>
<circle cx="647.8" cy="762.2" r="2.2" fill="#0000df"/>
<circle cx="641.7" cy="763.1" r="2.2" fill="#000080"/>
<circle cx="645.2" cy="766.6" r="2.2" fill="#7aff7d"/>
<circle cx="648.7" cy="770.1" r="2.2" fill="#960000"/>
<circle cx="661.3" cy="721.6" r="2.2" fill="#63ff94"/>
<circle cx="658.3" cy="732.1" r="2.2" fill="#63ff94"/>
<circle cx="655.7" cy="742.1" r="2.2" fill="#86ff70"/>
<circle cx="655.2" cy="754.4" r="2.2" fill="#7aff7d"/>
<circle cx="661.3" cy="764.5" r="2.2" fill="#7aff7d"/>
<circle cx="657.5" cy="768.0" r="2.2" fill="#86ff70"/>
<circle cx="687.2" cy="723.4" r="2.2" fill="#94ff63"/>
<circle cx="692.1" cy="727.8" r="2.2" fill="#7aff7d"/>
<circle cx="682.8" cy="740.9" r="2.2" fill="#94ff63"/>
<circle cx="685.8" cy="740.0" r="2.2" fill="#55ffa2"/>
<circle cx="684.9" cy="747.7" r="2.2" fill="#63ff94"/>
<circle cx="691.6" cy="747.4" r="2.2" fill="#94ff63"/>
<circle cx="691.6" cy="744.7" r="2.2" fill="#55ffa2"/>
<circle cx="686.3" cy="763.1" r="2.2" fill="#94ff63"/>
<circle cx="693.5" cy="759.6" r="2.2" fill="#86ff70"/>
<circle cx="682.6" cy="773.3" r="2.2" fill="#55ffa2"/>
<circle cx="701.2" cy="732.0" r="2.2" fill="#63ff94"/>
<circle cx="707.3" cy="728.1" r="2.2" fill="#63ff94"/>
<circle cx="707.3" cy="730.7" r="2.2" fill="#94ff63"/>
<circle cx="704.3" cy="737.2" r="2.2" fill="#94ff63"/>
<circle cx="702.1" cy="743.5" r="2.2" fill="#94ff63"/>
<circle cx="707.3" cy="743.0" r="2.2" fill="#55ffa2"/>
<circle cx="711.7" cy="744.7" r="2.2" fill="#55ffa2"/>
<circle cx="714.3" cy="741.2" r="2.2" fill="#94ff63"/>
<circle cx="715.2" cy="726.7" r="2.2" fill="#63ff94"/>
<circle cx="706.4" cy="749.1" r="2.2" fill="#86ff70"/>
<circle cx="708.2" cy="750.9" r="2.2" fill="#63ff94"/>
<circle cx="700.3" cy="752.6" r="2.2" fill="#55ffa2"/>
<circle cx="702.9" cy="757.0" r="2.2" fill="#7aff7d"/>
<circle cx="708.2" cy="757.9" r="2.2" fill="#94ff63"/>
<circle cx="713.8" cy="761.9" r="2.2" fill="#7aff7d"/>
<circle cx="721.3" cy="765.4" r="2.2" fill="#86ff70"/>
<circle cx="718.7" cy="716.7" r="2.2" fill="#7aff7d"/>
<circle cx="723.1" cy="715.9" r="2.2" fill="#86ff70"/>
<circle cx="727.4" cy="718.5" r="2.2" fill="#94ff63"/>
<circle cx="729.2" cy="723.4" r="2.2" fill="#7aff7d"/>
<circle cx="719.6" cy="735.1" r="2.2" fill="#94ff63"/>
<circle cx="722.2" cy="734.2" r="2.2" fill="#63ff94"/>
<circle cx="726.6" cy="731.6" r="2.2" fill="#7aff7d"/>
<circle cx="732.7" cy="733.4" r="2.2" fill="#86ff70"/>
<circle cx="720.8" cy="742.1" r="2.2" fill="#7aff7d"/>
<circle cx="728.3" cy="739.5" r="2.2" fill="#94ff63"/>
<circle cx="730.9" cy="718.5" r="2.2" fill="#94ff63"/>
<circle cx="741.1" cy="722.0" r="2.2" fill="#ff3f00"/>
<circle cx="743.2" cy="717.1" r="2.2" fill="#63ff94"/>
<circle cx="741.1" cy="733.4" r="2.2" fill="#a80000"/>
<circle cx="741.1" cy="738.6" r="2.2" fill="#0000b6"/>
<circle cx="741.1" cy="743.0" r="2.2" fill="#e80000"/>
<circle cx="741.1" cy="747.4" r="2.2" fill="#c80000"/>
<circle cx="743.2" cy="753.8" r="2.2" fill="#7aff7d"/>
<circle cx="748.4" cy="754.4" r="2.2" fill="#63ff94"/>
<circle cx="741.1" cy="762.2" r="2.2" fill="#000080"/>
<circle cx="744.9" cy="761.4" r="2.2" fill="#86ff70"/>
<circle cx="748.4" cy="760.8" r="2.2" fill="#55ffa2"/>
<circle cx="716.9" cy="772.7" r="2.2" fill="#55ffa2"/>
<circle cx="576.3" cy="777.5" r="2.2" fill="#86ff70"/>
<circle cx="585.2" cy="779.7" r="2.2" fill="#94ff63"/>
<circle cx="604.1" cy="777.5" r="2.2" fill="#94ff63"/>
<circle cx="604.1" cy="779.4" r="2.2" fill="#94ff63"/>
<circle cx="614.6" cy="775.7" r="2.2" fill="#94ff63"/>
<circle cx="532.7" cy="785.0" r="2.2" fill="#63ff94"/>
<circle cx="536.7" cy="786.2" r="2.2" fill="#55ffa2"/>
<circle cx="524.8" cy="791.5" r="2.2" fill="#86ff70"/>
<circle cx="531.0" cy="792.9" r="2.2" fill="#86ff70"/>
<circle cx="539.9" cy="794.6" r="2.2" fill="#94ff63"/>
<circle cx="545.0" cy="794.6" r="2.2" fill="#86ff70"/>
<circle cx="549.5" cy="795.1" r="2.2" fill="#86ff70"/>
<circle cx="503.5" cy="795.1" r="2.2" fill="#7aff7d"/>
<circle cx="521.5" cy="800.7" r="2.2" fill="#94ff63"/>
<circle cx="560.7" cy="790.2" r="2.2" fill="#63ff94"/>
<circle cx="566.0" cy="784.1" r="2.2" fill="#63ff94"/>
<circle cx="567.4" cy="788.8" r="2.2" fill="#55ffa2"/>
<circle cx="582.8" cy="792.5" r="2.2" fill="#55ffa2"/>
<circle cx="585.4" cy="797.2" r="2.2" fill="#94ff63"/>
<circle cx="589.6" cy="800.2" r="2.2" fill="#7aff7d"/>
<circle cx="580.8" cy="802.5" r="2.2" fill="#55ffa2"/>
<circle cx="598.0" cy="784.1" r="2.2" fill="#94ff63"/>
<circle cx="600.9" cy="787.6" r="2.2" fill="#94ff63"/>
<circle cx="608.5" cy="791.5" r="2.2" fill="#55ffa2"/>
<circle cx="600.6" cy="800.2" r="2.2" fill="#86ff70"/>
<circle cx="606.7" cy="801.2" r="2.2" fill="#86ff70"/>
<circle cx="595.7" cy="808.2" r="2.2" fill="#86ff70"/>
<circle cx="530.6" cy="810.0" r="2.2" fill="#55ffa2"/>
<circle cx="533.2" cy="827.5" r="2.2" fill="#55ffa2"/>
<circle cx="544.1" cy="825.7" r="2.2" fill="#94ff63"/>
<circle cx="588.7" cy="833.4" r="2.2" fill="#86ff70"/>
<circle cx="614.1" cy="821.7" r="2.2" fill="#94ff63"/>
<circle cx="580.3" cy="848.3" r="2.2" fill="#55ffa2"/>
<circle cx="561.2" cy="855.3" r="2.2" fill="#7aff7d"/>
<circle cx="619.8" cy="788.8" r="2.2" fill="#94ff63"/>
<circle cx="623.9" cy="792.0" r="2.2" fill="#94ff63"/>
<circle cx="628.9" cy="790.8" r="2.2" fill="#86ff70"/>
<circle cx="629.5" cy="785.3" r="2.2" fill="#00d0ff"/>
<circle cx="626.0" cy="801.2" r="2.2" fill="#7aff7d"/>
<circle cx="631.2" cy="799.0" r="2.2" fill="#00008d"/>
<circle cx="630.7" cy="809.8" r="2.2" fill="#000084"/>
<circle cx="626.0" cy="816.5" r="2.2" fill="#c80000"/>
<circle cx="626.0" cy="833.4" r="2.2" fill="#0000ad"/>
<circle cx="630.3" cy="838.3" r="2.2" fill="#920000"/>
<circle cx="630.3" cy="842.7" r="2.2" fill="#00dcfe"/>
<circle cx="626.0" cy="841.8" r="2.2" fill="#86ff70"/>
<circle cx="626.0" cy="843.9" r="2.2" fill="#0088ff"/>
<circle cx="637.0" cy="782.4" r="2.2" fill="#c40000"/>
<circle cx="637.0" cy="786.4" r="2.2" fill="#7aff7d"/>
<circle cx="637.3" cy="788.1" r="2.2" fill="#ff1600"/>
<circle cx="637.0" cy="794.6" r="2.2" fill="#c40000"/>
<circle cx="637.0" cy="799.0" r="2.2" fill="#a40000"/>
<circle cx="637.0" cy="827.8" r="2.2" fill="#0000c4"/>
<circle cx="640.8" cy="834.0" r="2.2" fill="#ff1300"/>
<circle cx="637.0" cy="836.6" r="2.2" fill="#f10800"/>
<circle cx="637.3" cy="843.6" r="2.2" fill="#7aff7d"/>
<circle cx="641.7" cy="781.5" r="2.2" fill="#63ff94"/>
<circle cx="645.2" cy="782.4" r="2.2" fill="#94ff63"/>
<circle cx="645.2" cy="776.2" r="2.2" fill="#0000da"/>
<circle cx="645.2" cy="787.3" r="2.2" fill="#0068ff"/>
<circle cx="649.1" cy="790.2" r="2.2" fill="#63ff94"/>
<circle cx="645.2" cy="798.1" r="2.2" fill="#00a0ff"/>
<circle cx="648.7" cy="801.6" r="2.2" fill="#bf0000"/>
<circle cx="643.5" cy="806.0" r="2.2" fill="#000dff"/>
<circle cx="646.1" cy="806.0" r="2.2" fill="#63ff94"/>
<circle cx="645.2" cy="810.3" r="2.2" fill="#006dff"/>
<circle cx="648.7" cy="815.6" r="2.2" fill="#aaff4d"/>
<circle cx="646.1" cy="818.2" r="2.2" fill="#55ffa2"/>
<circle cx="647.8" cy="819.1" r="2.2" fill="#c80000"/>
<circle cx="645.2" cy="825.2" r="2.2" fill="#000080"/>
<circle cx="647.8" cy="827.0" r="2.2" fill="#c80000"/>
<circle cx="644.3" cy="828.7" r="2.2" fill="#ffb200"/>
<circle cx="645.2" cy="834.0" r="2.2" fill="#ffa300"/>
<circle cx="647.8" cy="837.5" r="2.2" fill="#9f0000"/>
<circle cx="643.5" cy="841.0" r="2.2" fill="#a40000"/>
<circle cx="645.2" cy="845.3" r="2.2" fill="#00d4ff"/>
<circle cx="645.2" cy="849.7" r="2.2" fill="#caff2c"/>
<circle cx="643.5" cy="853.2" r="2.2" fill="#0075ff"/>
<circle cx="645.2" cy="858.5" r="2.2" fill="#0000fa"/>
<circle cx="643.5" cy="864.6" r="2.2" fill="#63ff94"/>
<circle cx="646.1" cy="866.3" r="2.2" fill="#0000c4"/>
<circle cx="648.7" cy="869.0" r="2.2" fill="#004dff"/>
<circle cx="645.2" cy="871.2" r="2.2" fill="#7aff7d"/>
<circle cx="647.8" cy="874.7" r="2.2" fill="#0010ff"/>
<circle cx="648.7" cy="877.7" r="2.2" fill="#63ff94"/>
<circle cx="643.5" cy="880.9" r="2.2" fill="#7aff7d"/>
<circle cx="644.3" cy="885.6" r="2.2" fill="#a40000"/>
<circle cx="645.2" cy="889.1" r="2.2" fill="#840000"/>
<circle cx="630.7" cy="865.8" r="2.2" fill="#b7ff40"/>
<circle cx="637.0" cy="865.8" r="2.2" fill="#9aff5d"/>
<circle cx="637.0" cy="868.4" r="2.2" fill="#0000bb"/>
<circle cx="626.0" cy="878.1" r="2.2" fill="#000089"/>
<circle cx="637.0" cy="885.9" r="2.2" fill="#ffd300"/>
<circle cx="659.2" cy="790.6" r="2.2" fill="#94ff63"/>
<circle cx="658.3" cy="795.0" r="2.2" fill="#7aff7d"/>
<circle cx="680.2" cy="790.6" r="2.2" fill="#c40000"/>
<circle cx="684.9" cy="801.1" r="2.2" fill="#63ff94"/>
<circle cx="688.9" cy="799.0" r="2.2" fill="#55ffa2"/>
<circle cx="691.6" cy="794.6" r="2.2" fill="#86ff70"/>
<circle cx="694.7" cy="791.5" r="2.2" fill="#94ff63"/>
<circle cx="687.7" cy="805.4" r="2.2" fill="#86ff70"/>
<circle cx="692.1" cy="801.6" r="2.2" fill="#94ff63"/>
<circle cx="692.1" cy="815.2" r="2.2" fill="#63ff94"/>
<circle cx="692.1" cy="817.0" r="2.2" fill="#86ff70"/>
<circle cx="688.6" cy="835.2" r="2.2" fill="#63ff94"/>
<circle cx="692.1" cy="831.9" r="2.2" fill="#7aff7d"/>
<circle cx="692.1" cy="880.9" r="2.2" fill="#7aff7d"/>
<circle cx="700.3" cy="777.5" r="2.2" fill="#86ff70"/>
<circle cx="711.7" cy="777.1" r="2.2" fill="#7aff7d"/>
<circle cx="709.9" cy="789.9" r="2.2" fill="#86ff70"/>
<circle cx="714.3" cy="796.0" r="2.2" fill="#86ff70"/>
<circle cx="709.1" cy="807.4" r="2.2" fill="#7aff7d"/>
<circle cx="703.3" cy="806.8" r="2.2" fill="#55ffa2"/>
<circle cx="708.2" cy="832.7" r="2.2" fill="#63ff94"/>
<circle cx="719.6" cy="785.9" r="2.2" fill="#7aff7d"/>
<circle cx="723.9" cy="786.4" r="2.2" fill="#63ff94"/>
<circle cx="728.3" cy="785.9" r="2.2" fill="#7aff7d"/>
<circle cx="728.3" cy="790.2" r="2.2" fill="#55ffa2"/>
<circle cx="733.6" cy="790.2" r="2.2" fill="#2cffca"/>
<circle cx="722.2" cy="795.8" r="2.2" fill="#86ff70"/>
<circle cx="726.6" cy="795.5" r="2.2" fill="#63ff94"/>
<circle cx="731.8" cy="794.6" r="2.2" fill="#55ffa2"/>
<circle cx="733.6" cy="797.2" r="2.2" fill="#94ff63"/>
<circle cx="738.8" cy="793.4" r="2.2" fill="#94ff63"/>
<circle cx="718.7" cy="801.9" r="2.2" fill="#86ff70"/>
<circle cx="724.5" cy="800.4" r="2.2" fill="#94ff63"/>
<circle cx="726.6" cy="808.9" r="2.2" fill="#86ff70"/>
<circle cx="721.8" cy="818.2" r="2.2" fill="#63ff94"/>
<circle cx="721.8" cy="827.3" r="2.2" fill="#55ffa2"/>
<circle cx="725.7" cy="832.2" r="2.2" fill="#7aff7d"/>
<circle cx="736.2" cy="845.3" r="2.2" fill="#7aff7d"/>
<circle cx="739.3" cy="845.3" r="2.2" fill="#94ff63"/>
<circle cx="736.2" cy="853.2" r="2.2" fill="#00a8ff"/>
<circle cx="736.2" cy="857.6" r="2.2" fill="#02e8f4"/>
<circle cx="736.2" cy="863.7" r="2.2" fill="#b60000"/>
<circle cx="741.1" cy="812.1" r="2.2" fill="#9f0000"/>
<circle cx="741.1" cy="816.5" r="2.2" fill="#0000b2"/>
<circle cx="741.1" cy="821.7" r="2.2" fill="#960000"/>
<circle cx="741.1" cy="825.2" r="2.2" fill="#000092"/>
<circle cx="741.1" cy="829.6" r="2.2" fill="#63ff94"/>
<circle cx="736.2" cy="818.6" r="2.2" fill="#0065ff"/>
<circle cx="736.2" cy="825.2" r="2.2" fill="#b20000"/>
<circle cx="736.2" cy="829.6" r="2.2" fill="#63ff94"/>
<circle cx="741.1" cy="856.7" r="2.2" fill="#000080"/>
<circle cx="741.1" cy="862.0" r="2.2" fill="#bf0000"/>
<circle cx="741.1" cy="864.6" r="2.2" fill="#50ffa7"/>
<circle cx="741.1" cy="871.6" r="2.2" fill="#000092"/>
<circle cx="741.1" cy="881.2" r="2.2" fill="#00adff"/>
<circle cx="741.1" cy="887.3" r="2.2" fill="#e40000"/>
<circle cx="736.2" cy="885.6" r="2.2" fill="#0000bf"/>
<circle cx="736.2" cy="889.1" r="2.2" fill="#0018ff"/>
<circle cx="747.0" cy="778.0" r="2.2" fill="#86ff70"/>
<circle cx="746.7" cy="780.6" r="2.2" fill="#86ff70"/>
<circle cx="746.3" cy="786.7" r="2.2" fill="#55ffa2"/>
<circle cx="746.7" cy="799.0" r="2.2" fill="#55ffa2"/>
<circle cx="745.8" cy="825.6" r="2.2" fill="#55ffa2"/>
<circle cx="748.4" cy="799.8" r="2.2" fill="#94ff63"/>
<circle cx="760.0" cy="550.5" r="2.2" fill="#ff6f00"/>
<circle cx="760.0" cy="581.3" r="2.2" fill="#0000d1"/>
<circle cx="760.0" cy="605.6" r="2.2" fill="#ffab00"/>
<circle cx="760.0" cy="609.5" r="2.2" fill="#da0000"/>
<circle cx="760.0" cy="664.6" r="2.2" fill="#0000ad"/>
<circle cx="760.0" cy="673.5" r="2.2" fill="#94ff63"/>
<circle cx="835.4" cy="680.8" r="2.2" fill="#63ff94"/>
<circle cx="879.3" cy="689.6" r="2.2" fill="#63ff94"/>
<circle cx="889.4" cy="688.4" r="2.2" fill="#7aff7d"/>
<circle cx="857.1" cy="693.6" r="2.2" fill="#7aff7d"/>
<circle cx="859.9" cy="699.6" r="2.2" fill="#7aff7d"/>
<circle cx="827.0" cy="696.1" r="2.2" fill="#86ff70"/>
<circle cx="811.8" cy="698.9" r="2.2" fill="#55ffa2"/>
<circle cx="815.3" cy="705.0" r="2.2" fill="#63ff94"/>
<circle cx="786.4" cy="698.3" r="2.2" fill="#94ff63"/>
<circle cx="780.8" cy="702.7" r="2.2" fill="#55ffa2"/>
<circle cx="804.2" cy="707.1" r="2.2" fill="#7aff7d"/>
<circle cx="792.9" cy="709.7" r="2.2" fill="#86ff70"/>
<circle cx="846.2" cy="702.4" r="2.2" fill="#86ff70"/>
<circle cx="857.1" cy="707.9" r="2.2" fill="#55ffa2"/>
<circle cx="862.8" cy="709.7" r="2.2" fill="#94ff63"/>
<circle cx="883.0" cy="707.6" r="2.2" fill="#86ff70"/>
<circle cx="885.2" cy="708.8" r="2.2" fill="#7aff7d"/>
<circle cx="899.6" cy="700.6" r="2.2" fill="#55ffa2"/>
<circle cx="910.6" cy="701.3" r="2.2" fill="#86ff70"/>
<circle cx="813.9" cy="713.2" r="2.2" fill="#7aff7d"/>
<circle cx="787.6" cy="714.1" r="2.2" fill="#94ff63"/>
<circle cx="860.6" cy="714.1" r="2.2" fill="#55ffa2"/>
<circle cx="870.4" cy="714.1" r="2.2" fill="#7aff7d"/>
<circle cx="883.0" cy="713.2" r="2.2" fill="#63ff94"/>
<circle cx="929.7" cy="677.0" r="2.2" fill="#7aff7d"/>
<circle cx="944.2" cy="680.3" r="2.2" fill="#86ff70"/>
<circle cx="973.4" cy="683.5" r="2.2" fill="#7aff7d"/>
<circle cx="934.2" cy="690.1" r="2.2" fill="#7aff7d"/>
<circle cx="931.4" cy="694.3" r="2.2" fill="#63ff94"/>
<circle cx="932.5" cy="698.3" r="2.2" fill="#86ff70"/>
<circle cx="926.7" cy="699.2" r="2.2" fill="#55ffa2"/>
<circle cx="945.1" cy="697.5" r="2.2" fill="#7aff7d"/>
<circle cx="946.8" cy="696.9" r="2.2" fill="#63ff94"/>
<circle cx="971.0" cy="692.7" r="2.2" fill="#63ff94"/>
<circle cx="953.3" cy="703.9" r="2.2" fill="#94ff63"/>
<circle cx="965.5" cy="700.1" r="2.2" fill="#7aff7d"/>
<circle cx="968.7" cy="701.8" r="2.2" fill="#7aff7d"/>
<circle cx="972.2" cy="705.3" r="2.2" fill="#63ff94"/>
<circle cx="973.1" cy="706.6" r="2.2" fill="#7aff7d"/>
<circle cx="925.3" cy="711.4" r="2.2" fill="#63ff94"/>
<circle cx="930.2" cy="714.1" r="2.2" fill="#63ff94"/>
<circle cx="933.7" cy="713.2" r="2.2" fill="#7aff7d"/>
<circle cx="938.4" cy="708.5" r="2.2" fill="#94ff63"/>
<circle cx="940.2" cy="711.8" r="2.2" fill="#86ff70"/>
<circle cx="943.7" cy="712.8" r="2.2" fill="#55ffa2"/>
<circle cx="951.2" cy="709.7" r="2.2" fill="#63ff94"/>
<circle cx="952.1" cy="711.4" r="2.2" fill="#55ffa2"/>
<circle cx="959.9" cy="708.8" r="2.2" fill="#63ff94"/>
<circle cx="754.4" cy="717.1" r="2.2" fill="#86ff70"/>
<circle cx="761.9" cy="716.7" r="2.2" fill="#7aff7d"/>
<circle cx="761.9" cy="722.0" r="2.2" fill="#920000"/>
<circle cx="753.5" cy="725.1" r="2.2" fill="#55ffa2"/>
<circle cx="753.5" cy="732.5" r="2.2" fill="#63ff94"/>
<circle cx="767.5" cy="733.4" r="2.2" fill="#55ffa2"/>
<circle cx="775.9" cy="722.9" r="2.2" fill="#63ff94"/>
<circle cx="780.1" cy="722.9" r="2.2" fill="#94ff63"/>
<circle cx="783.2" cy="719.9" r="2.2" fill="#7aff7d"/>
<circle cx="787.6" cy="715.9" r="2.2" fill="#63ff94"/>
<circle cx="781.8" cy="727.8" r="2.2" fill="#7aff7d"/>
<circle cx="792.9" cy="731.6" r="2.2" fill="#63ff94"/>
<circle cx="796.4" cy="732.5" r="2.2" fill="#55ffa2"/>
<circle cx="798.6" cy="734.6" r="2.2" fill="#7aff7d"/>
<circle cx="799.9" cy="728.1" r="2.2" fill="#94ff63"/>
<circle cx="804.8" cy="725.8" r="2.2" fill="#7aff7d"/>
<circle cx="804.2" cy="732.5" r="2.2" fill="#63ff94"/>
<circle cx="807.7" cy="733.4" r="2.2" fill="#94ff63"/>
<circle cx="812.5" cy="731.6" r="2.2" fill="#94ff63"/>
<circle cx="811.2" cy="735.1" r="2.2" fill="#55ffa2"/>
<circle cx="815.6" cy="717.6" r="2.2" fill="#55ffa2"/>
<circle cx="818.2" cy="720.6" r="2.2" fill="#7aff7d"/>
<circle cx="819.6" cy="727.2" r="2.2" fill="#7aff7d"/>
<circle cx="828.2" cy="718.8" r="2.2" fill="#55ffa2"/>
<circle cx="833.6" cy="717.1" r="2.2" fill="#7aff7d"/>
<circle cx="841.0" cy="729.0" r="2.2" fill="#7aff7d"/>
<circle cx="844.1" cy="727.8" r="2.2" fill="#86ff70"/>
<circle cx="847.4" cy="730.4" r="2.2" fill="#94ff63"/>
<circle cx="850.9" cy="722.3" r="2.2" fill="#55ffa2"/>
<circle cx="858.8" cy="720.8" r="2.2" fill="#94ff63"/>
<circle cx="860.6" cy="722.0" r="2.2" fill="#55ffa2"/>
<circle cx="858.8" cy="727.8" r="2.2" fill="#63ff94"/>
<circle cx="863.7" cy="732.0" r="2.2" fill="#94ff63"/>
<circle cx="873.7" cy="722.0" r="2.2" fill="#7aff7d"/>
<circle cx="876.0" cy="725.8" r="2.2" fill="#86ff70"/>
<circle cx="879.1" cy="727.6" r="2.2" fill="#86ff70"/>
<circle cx="883.0" cy="727.6" r="2.2" fill="#94ff63"/>
<circle cx="886.5" cy="727.2" r="2.2" fill="#63ff94"/>
<circle cx="883.8" cy="729.9" r="2.2" fill="#63ff94"/>
<circle cx="876.8" cy="732.5" r="2.2" fill="#7aff7d"/>
<circle cx="870.7" cy="715.5" r="2.2" fill="#63ff94"/>
<circle cx="860.6" cy="715.5" r="2.2" fill="#63ff94"/>
<circle cx="906.2" cy="727.6" r="2.2" fill="#63ff94"/>
<circle cx="910.4" cy="722.3" r="2.2" fill="#7aff7d"/>
<circle cx="913.6" cy="731.6" r="2.2" fill="#7aff7d"/>
<circle cx="918.3" cy="722.0" r="2.2" fill="#86ff70"/>
<circle cx="921.4" cy="731.6" r="2.2" fill="#86ff70"/>
<circle cx="924.9" cy="732.5" r="2.2" fill="#55ffa2"/>
<circle cx="930.2" cy="715.9" r="2.2" fill="#55ffa2"/>
<circle cx="927.6" cy="726.4" r="2.2" fill="#63ff94"/>
<circle cx="929.0" cy="718.8" r="2.2" fill="#7aff7d"/>
<circle cx="933.2" cy="723.7" r="2.2" fill="#86ff70"/>
<circle cx="937.2" cy="731.6" r="2.2" fill="#86ff70"/>
<circle cx="944.2" cy="721.1" r="2.2" fill="#7aff7d"/>
<circle cx="948.6" cy="728.1" r="2.2" fill="#94ff63"/>
<circle cx="951.2" cy="726.4" r="2.2" fill="#63ff94"/>
<circle cx="954.3" cy="718.5" r="2.2" fill="#94ff63"/>
<circle cx="956.1" cy="726.4" r="2.2" fill="#55ffa2"/>
<circle cx="962.2" cy="728.1" r="2.2" fill="#94ff63"/>
<circle cx="961.7" cy="724.6" r="2.2" fill="#55ffa2"/>
<circle cx="969.6" cy="728.1" r="2.2" fill="#86ff70"/>
<circle cx="971.0" cy="718.1" r="2.2" fill="#55ffa2"/>
<circle cx="971.8" cy="724.6" r="2.2" fill="#63ff94"/>
<circle cx="935.4" cy="732.5" r="2.2" fill="#63ff94"/>
<circle cx="940.7" cy="733.4" r="2.2" fill="#86ff70"/>
<circle cx="946.8" cy="730.7" r="2.2" fill="#55ffa2"/>
<circle cx="756.1" cy="741.2" r="2.2" fill="#7aff7d"/>
<circle cx="760.5" cy="743.0" r="2.2" fill="#00dcfe"/>
<circle cx="751.7" cy="747.9" r="2.2" fill="#86ff70"/>
<circle cx="759.1" cy="751.7" r="2.2" fill="#86ff70"/>
<circle cx="761.9" cy="752.6" r="2.2" fill="#86ff70"/>
<circle cx="753.5" cy="755.6" r="2.2" fill="#86ff70"/>
<circle cx="761.2" cy="757.0" r="2.2" fill="#000084"/>
<circle cx="767.5" cy="758.4" r="2.2" fill="#94ff63"/>
<circle cx="781.8" cy="739.5" r="2.2" fill="#63ff94"/>
<circle cx="784.1" cy="742.1" r="2.2" fill="#7aff7d"/>
<circle cx="786.2" cy="740.4" r="2.2" fill="#86ff70"/>
<circle cx="776.8" cy="749.6" r="2.2" fill="#63ff94"/>
<circle cx="785.0" cy="755.2" r="2.2" fill="#55ffa2"/>
<circle cx="802.1" cy="739.5" r="2.2" fill="#7aff7d"/>
<circle cx="800.2" cy="747.7" r="2.2" fill="#94ff63"/>
<circle cx="811.2" cy="746.5" r="2.2" fill="#55ffa2"/>
<circle cx="813.9" cy="747.4" r="2.2" fill="#55ffa2"/>
<circle cx="817.4" cy="741.6" r="2.2" fill="#55ffa2"/>
<circle cx="818.8" cy="748.6" r="2.2" fill="#7aff7d"/>
<circle cx="821.4" cy="738.6" r="2.2" fill="#55ffa2"/>
<circle cx="823.1" cy="743.3" r="2.2" fill="#86ff70"/>
<circle cx="828.2" cy="740.7" r="2.2" fill="#86ff70"/>
<circle cx="834.8" cy="737.7" r="2.2" fill="#7aff7d"/>
<circle cx="840.6" cy="735.6" r="2.2" fill="#94ff63"/>
<circle cx="837.5" cy="746.5" r="2.2" fill="#7aff7d"/>
<circle cx="836.9" cy="751.4" r="2.2" fill="#55ffa2"/>
<circle cx="844.5" cy="743.9" r="2.2" fill="#94ff63"/>
<circle cx="845.3" cy="739.5" r="2.2" fill="#7aff7d"/>
<circle cx="849.7" cy="742.6" r="2.2" fill="#94ff63"/>
<circle cx="849.7" cy="746.5" r="2.2" fill="#55ffa2"/>
<circle cx="846.7" cy="750.0" r="2.2" fill="#94ff63"/>
<circle cx="852.3" cy="736.3" r="2.2" fill="#94ff63"/>
<circle cx="855.0" cy="741.2" r="2.2" fill="#7aff7d"/>
<circle cx="858.1" cy="747.9" r="2.2" fill="#86ff70"/>
<circle cx="856.2" cy="753.1" r="2.2" fill="#94ff63"/>
<circle cx="863.7" cy="739.5" r="2.2" fill="#63ff94"/>
<circle cx="863.4" cy="737.7" r="2.2" fill="#86ff70"/>
<circle cx="866.7" cy="745.6" r="2.2" fill="#63ff94"/>
<circle cx="866.9" cy="752.6" r="2.2" fill="#7aff7d"/>
<circle cx="869.0" cy="755.2" r="2.2" fill="#55ffa2"/>
<circle cx="875.4" cy="743.0" r="2.2" fill="#94ff63"/>
<circle cx="881.2" cy="750.9" r="2.2" fill="#63ff94"/>
<circle cx="883.0" cy="738.6" r="2.2" fill="#55ffa2"/>
<circle cx="884.7" cy="740.4" r="2.2" fill="#55ffa2"/>
<circle cx="886.5" cy="746.5" r="2.2" fill="#55ffa2"/>
<circle cx="888.2" cy="748.2" r="2.2" fill="#94ff63"/>
<circle cx="890.0" cy="742.1" r="2.2" fill="#94ff63"/>
<circle cx="890.8" cy="753.5" r="2.2" fill="#55ffa2"/>
<circle cx="894.7" cy="750.9" r="2.2" fill="#63ff94"/>
<circle cx="898.7" cy="740.4" r="2.2" fill="#94ff63"/>
<circle cx="900.5" cy="743.9" r="2.2" fill="#63ff94"/>
<circle cx="909.7" cy="746.5" r="2.2" fill="#86ff70"/>
<circle cx="915.3" cy="737.7" r="2.2" fill="#7aff7d"/>
<circle cx="918.8" cy="741.2" r="2.2" fill="#7aff7d"/>
<circle cx="924.9" cy="737.7" r="2.2" fill="#7aff7d"/>
<circle cx="927.2" cy="747.9" r="2.2" fill="#55ffa2"/>
<circle cx="929.0" cy="751.7" r="2.2" fill="#55ffa2"/>
<circle cx="931.9" cy="739.5" r="2.2" fill="#86ff70"/>
<circle cx="935.4" cy="736.9" r="2.2" fill="#86ff70"/>
<circle cx="938.4" cy="746.5" r="2.2" fill="#55ffa2"/>
<circle cx="937.7" cy="738.6" r="2.2" fill="#86ff70"/>
<circle cx="942.4" cy="751.7" r="2.2" fill="#7aff7d"/>
<circle cx="943.8" cy="742.1" r="2.2" fill="#55ffa2"/>
<circle cx="949.1" cy="735.1" r="2.2" fill="#55ffa2"/>
<circle cx="952.1" cy="744.7" r="2.2" fill="#94ff63"/>
<circle cx="952.9" cy="750.0" r="2.2" fill="#86ff70"/>
<circle cx="953.8" cy="736.9" r="2.2" fill="#86ff70"/>
<circle cx="957.3" cy="735.1" r="2.2" fill="#94ff63"/>
<circle cx="957.3" cy="742.1" r="2.2" fill="#55ffa2"/>
<circle cx="959.9" cy="742.1" r="2.2" fill="#7aff7d"/>
<circle cx="962.6" cy="743.0" r="2.2" fill="#63ff94"/>
<circle cx="963.8" cy="745.6" r="2.2" fill="#7aff7d"/>
<circle cx="967.5" cy="743.9" r="2.2" fill="#94ff63"/>
<circle cx="969.6" cy="735.1" r="2.2" fill="#7aff7d"/>
<circle cx="968.7" cy="750.9" r="2.2" fill="#94ff63"/>
<circle cx="972.2" cy="740.4" r="2.2" fill="#55ffa2"/>
<circle cx="756.1" cy="765.7" r="2.2" fill="#94ff63"/>
<circle cx="785.0" cy="764.5" r="2.2" fill="#63ff94"/>
<circle cx="792.9" cy="758.7" r="2.2" fill="#63ff94"/>
<circle cx="795.5" cy="761.4" r="2.2" fill="#55ffa2"/>
<circle cx="797.2" cy="764.9" r="2.2" fill="#55ffa2"/>
<circle cx="798.1" cy="771.0" r="2.2" fill="#63ff94"/>
<circle cx="813.9" cy="760.5" r="2.2" fill="#86ff70"/>
<circle cx="816.1" cy="757.9" r="2.2" fill="#94ff63"/>
<circle cx="818.2" cy="754.4" r="2.2" fill="#7aff7d"/>
<circle cx="813.3" cy="767.1" r="2.2" fill="#55ffa2"/>
<circle cx="824.9" cy="771.3" r="2.2" fill="#7aff7d"/>
<circle cx="835.7" cy="758.7" r="2.2" fill="#7aff7d"/>
<circle cx="837.5" cy="761.4" r="2.2" fill="#94ff63"/>
<circle cx="836.6" cy="766.6" r="2.2" fill="#63ff94"/>
<circle cx="840.1" cy="767.5" r="2.2" fill="#55ffa2"/>
<circle cx="839.2" cy="752.6" r="2.2" fill="#86ff70"/>
<circle cx="845.3" cy="750.9" r="2.2" fill="#63ff94"/>
<circle cx="850.6" cy="753.5" r="2.2" fill="#63ff94"/>
<circle cx="857.1" cy="762.2" r="2.2" fill="#55ffa2"/>
<circle cx="862.8" cy="766.6" r="2.2" fill="#63ff94"/>
<circle cx="863.7" cy="764.9" r="2.2" fill="#86ff70"/>
<circle cx="866.3" cy="767.5" r="2.2" fill="#7aff7d"/>
<circle cx="865.5" cy="756.1" r="2.2" fill="#55ffa2"/>
<circle cx="876.0" cy="762.6" r="2.2" fill="#86ff70"/>
<circle cx="880.0" cy="759.6" r="2.2" fill="#94ff63"/>
<circle cx="883.8" cy="761.9" r="2.2" fill="#63ff94"/>
<circle cx="877.7" cy="770.1" r="2.2" fill="#86ff70"/>
<circle cx="897.0" cy="771.9" r="2.2" fill="#7aff7d"/>
<circle cx="899.6" cy="765.7" r="2.2" fill="#86ff70"/>
<circle cx="900.5" cy="757.9" r="2.2" fill="#94ff63"/>
<circle cx="904.0" cy="762.2" r="2.2" fill="#55ffa2"/>
<circle cx="905.7" cy="757.9" r="2.2" fill="#94ff63"/>
<circle cx="907.5" cy="764.9" r="2.2" fill="#63ff94"/>
<circle cx="909.2" cy="761.4" r="2.2" fill="#86ff70"/>
<circle cx="911.0" cy="766.6" r="2.2" fill="#86ff70"/>
<circle cx="925.8" cy="764.9" r="2.2" fill="#7aff7d"/>
<circle cx="922.3" cy="759.6" r="2.2" fill="#86ff70"/>
<circle cx="928.4" cy="761.4" r="2.2" fill="#55ffa2"/>
<circle cx="931.1" cy="766.6" r="2.2" fill="#7aff7d"/>
<circle cx="927.6" cy="771.0" r="2.2" fill="#94ff63"/>
<circle cx="934.6" cy="756.1" r="2.2" fill="#55ffa2"/>
<circle cx="938.1" cy="760.5" r="2.2" fill="#94ff63"/>
<circle cx="939.8" cy="758.7" r="2.2" fill="#94ff63"/>
<circle cx="944.2" cy="756.1" r="2.2" fill="#7aff7d"/>
<circle cx="949.4" cy="761.4" r="2.2" fill="#86ff70"/>
<circle cx="952.9" cy="759.6" r="2.2" fill="#63ff94"/>
<circle cx="955.6" cy="766.6" r="2.2" fill="#94ff63"/>
<circle cx="959.1" cy="762.2" r="2.2" fill="#55ffa2"/>
<circle cx="962.2" cy="758.7" r="2.2" fill="#7aff7d"/>
<circle cx="961.7" cy="767.5" r="2.2" fill="#55ffa2"/>
<circle cx="964.3" cy="771.0" r="2.2" fill="#7aff7d"/>
<circle cx="967.8" cy="771.0" r="2.2" fill="#86ff70"/>
<circle cx="969.0" cy="764.0" r="2.2" fill="#55ffa2"/>
<circle cx="935.4" cy="771.9" r="2.2" fill="#7aff7d"/>
<circle cx="940.7" cy="771.0" r="2.2" fill="#7aff7d"/>
<circle cx="757.0" cy="778.0" r="2.2" fill="#7aff7d"/>
<circle cx="761.4" cy="775.4" r="2.2" fill="#94ff63"/>
<circle cx="763.1" cy="778.9" r="2.2" fill="#94ff63"/>
<circle cx="754.4" cy="785.0" r="2.2" fill="#86ff70"/>
<circle cx="763.1" cy="788.5" r="2.2" fill="#7aff7d"/>
<circle cx="759.6" cy="789.9" r="2.2" fill="#0000c8"/>
<circle cx="764.0" cy="795.8" r="2.2" fill="#63ff94"/>
<circle cx="758.7" cy="798.1" r="2.2" fill="#eeff09"/>
<circle cx="757.0" cy="800.7" r="2.2" fill="#deff19"/>
<circle cx="753.5" cy="805.1" r="2.2" fill="#63ff94"/>
<circle cx="762.6" cy="805.1" r="2.2" fill="#63ff94"/>
<circle cx="783.6" cy="795.1" r="2.2" fill="#94ff63"/>
<circle cx="783.6" cy="792.3" r="2.2" fill="#7aff7d"/>
<circle cx="778.9" cy="801.6" r="2.2" fill="#7aff7d"/>
<circle cx="781.8" cy="805.1" r="2.2" fill="#63ff94"/>
<circle cx="789.9" cy="792.0" r="2.2" fill="#86ff70"/>
<circle cx="794.6" cy="790.2" r="2.2" fill="#94ff63"/>
<circle cx="797.2" cy="800.4" r="2.2" fill="#55ffa2"/>
<circle cx="801.6" cy="795.5" r="2.2" fill="#55ffa2"/>
<circle cx="806.0" cy="796.4" r="2.2" fill="#7aff7d"/>
<circle cx="802.5" cy="805.1" r="2.2" fill="#55ffa2"/>
<circle cx="807.2" cy="785.0" r="2.2" fill="#63ff94"/>
<circle cx="814.4" cy="793.4" r="2.2" fill="#86ff70"/>
<circle cx="817.4" cy="789.4" r="2.2" fill="#7aff7d"/>
<circle cx="821.7" cy="795.8" r="2.2" fill="#7aff7d"/>
<circle cx="823.5" cy="790.2" r="2.2" fill="#94ff63"/>
<circle cx="828.7" cy="788.5" r="2.2" fill="#86ff70"/>
<circle cx="828.7" cy="794.6" r="2.2" fill="#7aff7d"/>
<circle cx="825.6" cy="799.0" r="2.2" fill="#55ffa2"/>
<circle cx="821.2" cy="777.1" r="2.2" fill="#63ff94"/>
<circle cx="832.8" cy="783.2" r="2.2" fill="#63ff94"/>
<circle cx="838.0" cy="786.4" r="2.2" fill="#86ff70"/>
<circle cx="838.3" cy="799.8" r="2.2" fill="#63ff94"/>
<circle cx="842.4" cy="802.5" r="2.2" fill="#86ff70"/>
<circle cx="842.2" cy="797.2" r="2.2" fill="#86ff70"/>
<circle cx="845.3" cy="788.5" r="2.2" fill="#94ff63"/>
<circle cx="847.1" cy="792.0" r="2.2" fill="#94ff63"/>
<circle cx="850.9" cy="787.3" r="2.2" fill="#86ff70"/>
<circle cx="849.7" cy="800.7" r="2.2" fill="#55ffa2"/>
<circle cx="853.7" cy="804.2" r="2.2" fill="#55ffa2"/>
<circle cx="854.4" cy="775.4" r="2.2" fill="#63ff94"/>
<circle cx="856.7" cy="775.4" r="2.2" fill="#94ff63"/>
<circle cx="861.1" cy="775.4" r="2.2" fill="#94ff63"/>
<circle cx="857.1" cy="782.9" r="2.2" fill="#94ff63"/>
<circle cx="858.8" cy="797.6" r="2.2" fill="#63ff94"/>
<circle cx="861.4" cy="792.0" r="2.2" fill="#94ff63"/>
<circle cx="864.6" cy="793.7" r="2.2" fill="#86ff70"/>
<circle cx="870.2" cy="790.6" r="2.2" fill="#55ffa2"/>
<circle cx="869.0" cy="801.1" r="2.2" fill="#55ffa2"/>
<circle cx="872.5" cy="802.8" r="2.2" fill="#94ff63"/>
<circle cx="874.7" cy="792.0" r="2.2" fill="#7aff7d"/>
<circle cx="874.2" cy="806.0" r="2.2" fill="#7aff7d"/>
<circle cx="877.7" cy="786.7" r="2.2" fill="#55ffa2"/>
<circle cx="880.0" cy="791.5" r="2.2" fill="#55ffa2"/>
<circle cx="877.7" cy="797.2" r="2.2" fill="#63ff94"/>
<circle cx="881.6" cy="800.4" r="2.2" fill="#63ff94"/>
<circle cx="885.9" cy="791.5" r="2.2" fill="#86ff70"/>
<circle cx="888.2" cy="805.1" r="2.2" fill="#94ff63"/>
<circle cx="890.8" cy="801.6" r="2.2" fill="#86ff70"/>
<circle cx="891.7" cy="797.2" r="2.2" fill="#86ff70"/>
<circle cx="896.4" cy="787.6" r="2.2" fill="#7aff7d"/>
<circle cx="898.7" cy="792.0" r="2.2" fill="#63ff94"/>
<circle cx="897.8" cy="794.6" r="2.2" fill="#94ff63"/>
<circle cx="889.1" cy="811.7" r="2.2" fill="#94ff63"/>
<circle cx="904.0" cy="803.3" r="2.2" fill="#55ffa2"/>
<circle cx="905.4" cy="781.1" r="2.2" fill="#86ff70"/>
<circle cx="908.9" cy="788.1" r="2.2" fill="#86ff70"/>
<circle cx="910.1" cy="790.2" r="2.2" fill="#63ff94"/>
<circle cx="908.3" cy="806.8" r="2.2" fill="#63ff94"/>
<circle cx="920.6" cy="781.1" r="2.2" fill="#55ffa2"/>
<circle cx="921.4" cy="793.7" r="2.2" fill="#55ffa2"/>
<circle cx="926.7" cy="788.1" r="2.2" fill="#63ff94"/>
<circle cx="927.2" cy="793.2" r="2.2" fill="#94ff63"/>
<circle cx="931.9" cy="785.0" r="2.2" fill="#55ffa2"/>
<circle cx="932.8" cy="788.5" r="2.2" fill="#94ff63"/>
<circle cx="935.8" cy="786.4" r="2.2" fill="#63ff94"/>
<circle cx="930.2" cy="791.1" r="2.2" fill="#86ff70"/>
<circle cx="937.2" cy="795.8" r="2.2" fill="#63ff94"/>
<circle cx="941.6" cy="800.7" r="2.2" fill="#86ff70"/>
<circle cx="928.8" cy="800.7" r="2.2" fill="#63ff94"/>
<circle cx="925.5" cy="805.1" r="2.2" fill="#63ff94"/>
<circle cx="930.2" cy="810.0" r="2.2" fill="#55ffa2"/>
<circle cx="936.3" cy="775.4" r="2.2" fill="#86ff70"/>
<circle cx="938.9" cy="778.0" r="2.2" fill="#94ff63"/>
<circle cx="945.6" cy="792.0" r="2.2" fill="#63ff94"/>
<circle cx="946.8" cy="789.4" r="2.2" fill="#55ffa2"/>
<circle cx="948.2" cy="785.0" r="2.2" fill="#63ff94"/>
<circle cx="951.2" cy="775.4" r="2.2" fill="#94ff63"/>
<circle cx="952.9" cy="776.2" r="2.2" fill="#86ff70"/>
<circle cx="956.4" cy="780.6" r="2.2" fill="#86ff70"/>
<circle cx="958.2" cy="784.1" r="2.2" fill="#94ff63"/>
<circle cx="963.8" cy="781.5" r="2.2" fill="#63ff94"/>
<circle cx="960.8" cy="786.7" r="2.2" fill="#55ffa2"/>
<circle cx="952.9" cy="792.9" r="2.2" fill="#86ff70"/>
<circle cx="959.1" cy="794.6" r="2.2" fill="#94ff63"/>
<circle cx="962.6" cy="795.5" r="2.2" fill="#86ff70"/>
<circle cx="963.8" cy="787.6" r="2.2" fill="#94ff63"/>
<circle cx="970.8" cy="779.7" r="2.2" fill="#86ff70"/>
<circle cx="971.8" cy="785.0" r="2.2" fill="#94ff63"/>
<circle cx="971.3" cy="790.2" r="2.2" fill="#94ff63"/>
<circle cx="972.2" cy="794.6" r="2.2" fill="#63ff94"/>
<circle cx="953.3" cy="800.2" r="2.2" fill="#94ff63"/>
<circle cx="959.1" cy="804.2" r="2.2" fill="#63ff94"/>
<circle cx="948.2" cy="805.1" r="2.2" fill="#86ff70"/>
<circle cx="945.1" cy="811.7" r="2.2" fill="#86ff70"/>
<circle cx="949.4" cy="810.9" r="2.2" fill="#94ff63"/>
<circle cx="966.1" cy="804.2" r="2.2" fill="#55ffa2"/>
<circle cx="968.3" cy="807.4" r="2.2" fill="#55ffa2"/>
<circle cx="971.8" cy="806.0" r="2.2" fill="#63ff94"/>
<circle cx="760.0" cy="828.4" r="2.2" fill="#890000"/>
<circle cx="754.7" cy="832.2" r="2.2" fill="#94ff63"/>
<circle cx="756.6" cy="844.8" r="2.2" fill="#63ff94"/>
<circle cx="760.0" cy="866.3" r="2.2" fill="#ff3400"/>
<circle cx="780.1" cy="824.3" r="2.2" fill="#94ff63"/>
<circle cx="784.1" cy="824.7" r="2.2" fill="#86ff70"/>
<circle cx="785.9" cy="831.0" r="2.2" fill="#86ff70"/>
<circle cx="777.1" cy="837.5" r="2.2" fill="#55ffa2"/>
<circle cx="778.9" cy="835.2" r="2.2" fill="#86ff70"/>
<circle cx="795.5" cy="830.5" r="2.2" fill="#55ffa2"/>
<circle cx="798.1" cy="827.0" r="2.2" fill="#55ffa2"/>
<circle cx="794.6" cy="835.7" r="2.2" fill="#7aff7d"/>
<circle cx="804.8" cy="836.1" r="2.2" fill="#94ff63"/>
<circle cx="801.3" cy="841.3" r="2.2" fill="#55ffa2"/>
<circle cx="801.6" cy="844.5" r="2.2" fill="#63ff94"/>
<circle cx="815.3" cy="828.4" r="2.2" fill="#94ff63"/>
<circle cx="823.8" cy="845.9" r="2.2" fill="#94ff63"/>
<circle cx="836.1" cy="840.1" r="2.2" fill="#94ff63"/>
<circle cx="840.1" cy="822.6" r="2.2" fill="#55ffa2"/>
<circle cx="842.4" cy="813.3" r="2.2" fill="#94ff63"/>
<circle cx="847.4" cy="822.6" r="2.2" fill="#55ffa2"/>
<circle cx="846.7" cy="828.7" r="2.2" fill="#55ffa2"/>
<circle cx="849.2" cy="834.0" r="2.2" fill="#55ffa2"/>
<circle cx="845.3" cy="837.5" r="2.2" fill="#55ffa2"/>
<circle cx="849.2" cy="841.3" r="2.2" fill="#55ffa2"/>
<circle cx="855.5" cy="829.6" r="2.2" fill="#55ffa2"/>
<circle cx="854.1" cy="848.0" r="2.2" fill="#94ff63"/>
<circle cx="861.4" cy="821.2" r="2.2" fill="#94ff63"/>
<circle cx="870.0" cy="827.8" r="2.2" fill="#55ffa2"/>
<circle cx="874.6" cy="828.4" r="2.2" fill="#55ffa2"/>
<circle cx="876.0" cy="832.6" r="2.2" fill="#7aff7d"/>
<circle cx="869.8" cy="839.6" r="2.2" fill="#63ff94"/>
<circle cx="869.0" cy="812.1" r="2.2" fill="#63ff94"/>
<circle cx="883.0" cy="821.7" r="2.2" fill="#94ff63"/>
<circle cx="885.2" cy="827.0" r="2.2" fill="#55ffa2"/>
<circle cx="889.1" cy="831.3" r="2.2" fill="#86ff70"/>
<circle cx="883.3" cy="834.8" r="2.2" fill="#94ff63"/>
<circle cx="887.3" cy="835.4" r="2.2" fill="#86ff70"/>
<circle cx="896.6" cy="824.7" r="2.2" fill="#55ffa2"/>
<circle cx="891.7" cy="840.6" r="2.2" fill="#63ff94"/>
<circle cx="896.6" cy="838.3" r="2.2" fill="#86ff70"/>
<circle cx="897.8" cy="839.2" r="2.2" fill="#94ff63"/>
<circle cx="905.2" cy="838.3" r="2.2" fill="#86ff70"/>
<circle cx="909.2" cy="819.4" r="2.2" fill="#63ff94"/>
<circle cx="912.7" cy="840.6" r="2.2" fill="#94ff63"/>
<circle cx="908.3" cy="845.3" r="2.2" fill="#55ffa2"/>
<circle cx="882.4" cy="848.5" r="2.2" fill="#94ff63"/>
<circle cx="930.2" cy="825.7" r="2.2" fill="#55ffa2"/>
<circle cx="931.9" cy="827.8" r="2.2" fill="#55ffa2"/>
<circle cx="938.1" cy="833.1" r="2.2" fill="#7aff7d"/>
<circle cx="942.4" cy="835.4" r="2.2" fill="#94ff63"/>
<circle cx="927.0" cy="836.9" r="2.2" fill="#94ff63"/>
<circle cx="930.7" cy="840.1" r="2.2" fill="#86ff70"/>
<circle cx="949.1" cy="831.3" r="2.2" fill="#94ff63"/>
<circle cx="949.4" cy="838.0" r="2.2" fill="#94ff63"/>
<circle cx="954.3" cy="827.0" r="2.2" fill="#7aff7d"/>
<circle cx="954.3" cy="833.1" r="2.2" fill="#7aff7d"/>
<circle cx="957.0" cy="838.0" r="2.2" fill="#7aff7d"/>
<circle cx="958.2" cy="820.0" r="2.2" fill="#7aff7d"/>
<circle cx="963.8" cy="831.9" r="2.2" fill="#7aff7d"/>
<circle cx="966.9" cy="827.8" r="2.2" fill="#86ff70"/>
<circle cx="965.5" cy="813.3" r="2.2" fill="#63ff94"/>
<circle cx="970.8" cy="820.5" r="2.2" fill="#55ffa2"/>
<circle cx="971.8" cy="831.0" r="2.2" fill="#55ffa2"/>
<circle cx="966.6" cy="842.4" r="2.2" fill="#7aff7d"/>
<circle cx="920.6" cy="816.5" r="2.2" fill="#86ff70"/>
<circle cx="920.6" cy="831.3" r="2.2" fill="#94ff63"/>
<circle cx="781.5" cy="855.3" r="2.2" fill="#94ff63"/>
<circle cx="788.5" cy="855.3" r="2.2" fill="#94ff63"/>
<circle cx="796.4" cy="855.8" r="2.2" fill="#94ff63"/>
<circle cx="799.9" cy="855.3" r="2.2" fill="#94ff63"/>
<circle cx="827.3" cy="855.3" r="2.2" fill="#55ffa2"/>
<circle cx="861.4" cy="855.3" r="2.2" fill="#86ff70"/>
<circle cx="880.0" cy="855.3" r="2.2" fill="#55ffa2"/>
<circle cx="905.7" cy="855.3" r="2.2" fill="#63ff94"/>
<circle cx="922.3" cy="855.3" r="2.2" fill="#63ff94"/>
<circle cx="970.1" cy="855.3" r="2.2" fill="#63ff94"/>
<circle cx="973.9" cy="855.3" r="2.2" fill="#55ffa2"/>
<circle cx="1488.0" cy="709.2" r="2.2" fill="#55ffa2"/>
<circle cx="1483.2" cy="715.3" r="2.2" fill="#86ff70"/>
<circle cx="1484.5" cy="794.0" r="2.2" fill="#94ff63"/>
<circle cx="1483.2" cy="795.6" r="2.2" fill="#94ff63"/>
<circle cx="1487.7" cy="799.3" r="2.2" fill="#94ff63"/>
<circle cx="1486.4" cy="803.3" r="2.2" fill="#94ff63"/>
<circle cx="382.0" cy="659.0" r="2.2" fill="#1a80ff"/>
<circle cx="381.8" cy="663.0" r="2.2" fill="#1a80ff"/>
<circle cx="382.3" cy="657.5" r="2.2" fill="#1a80ff"/>
<circle cx="917.7" cy="798.7" r="2.2" fill="#86ff70"/>
<circle cx="956.6" cy="794.8" r="2.2" fill="#63ff94"/>
<circle cx="956.6" cy="796.8" r="2.2" fill="#94ff63"/>
<circle cx="942.0" cy="736.8" r="2.2" fill="#86ff70"/>
<circle cx="922.0" cy="803.1" r="2.2" fill="#55ffa2"/>
<circle cx="919.9" cy="795.8" r="2.2" fill="#7aff7d"/>
<circle cx="932.2" cy="722.3" r="2.2" fill="#63ff94"/>
<circle cx="968.2" cy="711.3" r="2.2" fill="#7aff7d"/>
<circle cx="906.1" cy="784.7" r="2.2" fill="#86ff70"/>
<circle cx="952.2" cy="736.8" r="2.2" fill="#7aff7d"/>
<circle cx="944.5" cy="743.0" r="2.2" fill="#7aff7d"/>
<circle cx="971.1" cy="765.8" r="2.2" fill="#7aff7d"/>
<circle cx="907.1" cy="702.2" r="2.2" fill="#94ff63"/>
<circle cx="935.4" cy="724.3" r="2.2" fill="#7aff7d"/>
<circle cx="927.8" cy="744.7" r="2.2" fill="#63ff94"/>
<circle cx="925.9" cy="804.4" r="2.2" fill="#94ff63"/>
<circle cx="973.7" cy="783.0" r="2.2" fill="#86ff70"/>
<circle cx="965.4" cy="791.3" r="2.2" fill="#63ff94"/>
<circle cx="971.8" cy="714.3" r="2.2" fill="#86ff70"/>
<circle cx="924.8" cy="734.8" r="2.2" fill="#63ff94"/>
<circle cx="966.0" cy="726.2" r="2.2" fill="#55ffa2"/>
<circle cx="952.8" cy="762.7" r="2.2" fill="#7aff7d"/>
<circle cx="919.8" cy="705.5" r="2.2" fill="#7aff7d"/>
<circle cx="919.7" cy="792.8" r="2.2" fill="#86ff70"/>
<circle cx="908.2" cy="781.3" r="2.2" fill="#94ff63"/>
<circle cx="917.8" cy="790.7" r="2.2" fill="#63ff94"/>
<circle cx="953.0" cy="784.5" r="2.2" fill="#55ffa2"/>
<circle cx="973.2" cy="701.0" r="2.2" fill="#94ff63"/>
<circle cx="915.6" cy="777.3" r="2.2" fill="#00009f"/>
<circle cx="957.6" cy="748.8" r="2.2" fill="#7aff7d"/>
<circle cx="668.3" cy="546.3" r="2.2" fill="#f8f500"/>
<circle cx="668.1" cy="548.3" r="2.2" fill="#0084ff"/>
<circle cx="668.1" cy="549.7" r="2.2" fill="#0070ff"/>
<circle cx="668.4" cy="550.7" r="2.2" fill="#0000c4"/>
<circle cx="668.4" cy="553.1" r="2.2" fill="#ffe600"/>
<circle cx="668.2" cy="554.3" r="2.2" fill="#deff19"/>
<circle cx="668.4" cy="555.5" r="2.2" fill="#000080"/>
<circle cx="668.1" cy="557.6" r="2.2" fill="#a80000"/>
<circle cx="668.2" cy="558.2" r="2.2" fill="#60ff97"/>
<circle cx="668.6" cy="559.7" r="2.2" fill="#c1ff36"/>
<circle cx="668.5" cy="561.5" r="2.2" fill="#00d0ff"/>
<circle cx="668.1" cy="562.6" r="2.2" fill="#ff2900"/>
<circle cx="668.5" cy="564.5" r="2.2" fill="#920000"/>
<circle cx="668.5" cy="566.0" r="2.2" fill="#cd0000"/>
<circle cx="668.6" cy="567.8" r="2.2" fill="#b60000"/>
<circle cx="668.4" cy="569.1" r="2.2" fill="#ff7300"/>
<circle cx="668.5" cy="570.3" r="2.2" fill="#000096"/>
<circle cx="668.2" cy="571.9" r="2.2" fill="#00a0ff"/>
<circle cx="668.2" cy="573.5" r="2.2" fill="#ffae00"/>
<circle cx="668.5" cy="575.3" r="2.2" fill="#800000"/>
<circle cx="668.6" cy="576.3" r="2.2" fill="#ff8d00"/>
<circle cx="668.5" cy="578.1" r="2.2" fill="#c80000"/>
<circle cx="668.6" cy="580.0" r="2.2" fill="#39ffbe"/>
<circle cx="668.5" cy="580.4" r="2.2" fill="#33ffc4"/>
<circle cx="668.5" cy="583.0" r="2.2" fill="#ffde00"/>
<circle cx="668.3" cy="583.8" r="2.2" fill="#840000"/>
<circle cx="668.1" cy="585.4" r="2.2" fill="#9b0000"/>
<circle cx="668.2" cy="586.4" r="2.2" fill="#840000"/>
<circle cx="668.2" cy="588.1" r="2.2" fill="#000080"/>
<circle cx="668.6" cy="589.4" r="2.2" fill="#ffc400"/>
<circle cx="668.4" cy="591.8" r="2.2" fill="#ff7300"/>
<circle cx="668.6" cy="592.6" r="2.2" fill="#960000"/>
<circle cx="668.3" cy="594.8" r="2.2" fill="#000096"/>
<circle cx="668.2" cy="595.4" r="2.2" fill="#000092"/>
<circle cx="668.2" cy="597.3" r="2.2" fill="#c40000"/>
<circle cx="668.3" cy="598.2" r="2.2" fill="#000089"/>
<circle cx="668.3" cy="600.4" r="2.2" fill="#bf0000"/>
<circle cx="668.5" cy="601.8" r="2.2" fill="#bf0000"/>
<circle cx="668.5" cy="602.7" r="2.2" fill="#00e4f8"/>
<circle cx="668.6" cy="605.2" r="2.2" fill="#800000"/>
<circle cx="668.3" cy="606.1" r="2.2" fill="#c40000"/>
<circle cx="668.5" cy="607.2" r="2.2" fill="#b20000"/>
<circle cx="668.2" cy="608.8" r="2.2" fill="#06edf1"/>
<circle cx="668.1" cy="610.1" r="2.2" fill="#890000"/>
<circle cx="668.2" cy="612.0" r="2.2" fill="#c80000"/>
<circle cx="668.6" cy="613.8" r="2.2" fill="#000096"/>
<circle cx="668.3" cy="615.0" r="2.2" fill="#ff9c00"/>
<circle cx="668.2" cy="617.0" r="2.2" fill="#800000"/>
<circle cx="668.4" cy="618.1" r="2.2" fill="#ff4a00"/>
<circle cx="668.2" cy="619.4" r="2.2" fill="#e1ff16"/>
<circle cx="668.6" cy="620.7" r="2.2" fill="#ff5200"/>
<circle cx="668.7" cy="622.6" r="2.2" fill="#ffb200"/>
<circle cx="668.4" cy="623.5" r="2.2" fill="#0000a4"/>
<circle cx="668.7" cy="626.0" r="2.2" fill="#920000"/>
<circle cx="668.3" cy="626.9" r="2.2" fill="#ffd000"/>
<circle cx="668.6" cy="628.6" r="2.2" fill="#000092"/>
<circle cx="668.3" cy="629.7" r="2.2" fill="#8d0000"/>
<circle cx="668.7" cy="631.9" r="2.2" fill="#9b0000"/>
<circle cx="668.6" cy="633.3" r="2.2" fill="#00009b"/>
<circle cx="668.4" cy="634.3" r="2.2" fill="#000089"/>
<circle cx="668.1" cy="635.7" r="2.2" fill="#b20000"/>
<circle cx="668.5" cy="638.0" r="2.2" fill="#ffa300"/>
<circle cx="668.7" cy="639.5" r="2.2" fill="#9f0000"/>
<circle cx="668.3" cy="640.1" r="2.2" fill="#9f0000"/>
<circle cx="668.2" cy="641.6" r="2.2" fill="#ff2d00"/>
<circle cx="668.6" cy="643.8" r="2.2" fill="#a40000"/>
<circle cx="668.5" cy="645.2" r="2.2" fill="#8d0000"/>
<circle cx="668.5" cy="646.9" r="2.2" fill="#0000c4"/>
<circle cx="668.6" cy="647.8" r="2.2" fill="#9b0000"/>
<circle cx="668.6" cy="649.1" r="2.2" fill="#000084"/>
<circle cx="668.7" cy="650.7" r="2.2" fill="#0000c4"/>
<circle cx="668.7" cy="652.6" r="2.2" fill="#b60000"/>
<circle cx="668.2" cy="653.4" r="2.2" fill="#002dff"/>
<circle cx="668.6" cy="654.9" r="2.2" fill="#0038ff"/>
<circle cx="668.7" cy="657.0" r="2.2" fill="#c80000"/>
<circle cx="668.4" cy="657.8" r="2.2" fill="#0000b6"/>
<circle cx="668.7" cy="659.9" r="2.2" fill="#bf0000"/>
<circle cx="668.7" cy="661.2" r="2.2" fill="#840000"/>
<circle cx="668.6" cy="662.4" r="2.2" fill="#c40000"/>
<circle cx="668.3" cy="663.9" r="2.2" fill="#000092"/>
<circle cx="668.3" cy="665.6" r="2.2" fill="#9f0000"/>
<circle cx="668.6" cy="667.0" r="2.2" fill="#0000bb"/>
<circle cx="668.5" cy="669.2" r="2.2" fill="#e1ff16"/>
<circle cx="668.7" cy="670.2" r="2.2" fill="#c80000"/>
<circle cx="668.4" cy="671.1" r="2.2" fill="#0000bb"/>
<circle cx="668.2" cy="672.5" r="2.2" fill="#b20000"/>
<circle cx="668.2" cy="674.6" r="2.2" fill="#0000c8"/>
<circle cx="668.4" cy="675.9" r="2.2" fill="#000092"/>
<circle cx="668.4" cy="677.9" r="2.2" fill="#0000bb"/>
<circle cx="668.4" cy="678.8" r="2.2" fill="#00009b"/>
<circle cx="668.6" cy="680.6" r="2.2" fill="#ff5900"/>
<circle cx="668.6" cy="682.5" r="2.2" fill="#0000f6"/>
<circle cx="668.5" cy="683.6" r="2.2" fill="#0038ff"/>
<circle cx="668.5" cy="685.0" r="2.2" fill="#000084"/>
<circle cx="668.4" cy="687.0" r="2.2" fill="#8d0000"/>
<circle cx="668.6" cy="688.5" r="2.2" fill="#0010ff"/>
<circle cx="668.4" cy="690.0" r="2.2" fill="#8d0000"/>
<circle cx="668.2" cy="690.5" r="2.2" fill="#9f0000"/>
<circle cx="668.1" cy="692.2" r="2.2" fill="#8d0000"/>
<circle cx="668.5" cy="694.3" r="2.2" fill="#40ffb7"/>
<circle cx="668.2" cy="695.7" r="2.2" fill="#c4ff33"/>
<circle cx="668.2" cy="697.4" r="2.2" fill="#cd0000"/>
<circle cx="668.2" cy="699.0" r="2.2" fill="#ffa300"/>
<circle cx="668.4" cy="700.5" r="2.2" fill="#0000a4"/>
<circle cx="668.2" cy="701.3" r="2.2" fill="#80ff77"/>
<circle cx="668.3" cy="702.5" r="2.2" fill="#23ffd4"/>
<circle cx="668.5" cy="703.8" r="2.2" fill="#bf0000"/>
<circle cx="668.4" cy="705.3" r="2.2" fill="#cd0000"/>
<circle cx="668.5" cy="707.3" r="2.2" fill="#0000bb"/>
<circle cx="668.7" cy="709.2" r="2.2" fill="#feed00"/>
<circle cx="668.2" cy="710.0" r="2.2" fill="#0000b2"/>
<circle cx="668.6" cy="711.5" r="2.2" fill="#d60000"/>
<circle cx="668.4" cy="713.8" r="2.2" fill="#0000bf"/>
<circle cx="668.3" cy="714.4" r="2.2" fill="#bf0000"/>
<circle cx="668.4" cy="716.5" r="2.2" fill="#ffb600"/>
<circle cx="668.1" cy="718.0" r="2.2" fill="#00009f"/>
<circle cx="668.1" cy="719.8" r="2.2" fill="#ff5200"/>
<circle cx="668.6" cy="720.2" r="2.2" fill="#890000"/>
<circle cx="668.1" cy="722.6" r="2.2" fill="#ff5d00"/>
<circle cx="668.3" cy="723.8" r="2.2" fill="#a40000"/>
<circle cx="668.3" cy="724.7" r="2.2" fill="#0020ff"/>
<circle cx="668.2" cy="726.2" r="2.2" fill="#8d0000"/>
<circle cx="668.1" cy="727.8" r="2.2" fill="#a80000"/>
<circle cx="668.3" cy="729.9" r="2.2" fill="#0000ad"/>
<circle cx="668.4" cy="730.7" r="2.2" fill="#06edf1"/>
<circle cx="668.1" cy="732.3" r="2.2" fill="#0000ed"/>
<circle cx="668.5" cy="734.2" r="2.2" fill="#c80000"/>
<circle cx="668.4" cy="736.1" r="2.2" fill="#0000c8"/>
<circle cx="668.6" cy="737.0" r="2.2" fill="#ff3400"/>
<circle cx="668.6" cy="738.4" r="2.2" fill="#920000"/>
<circle cx="668.5" cy="740.6" r="2.2" fill="#c80000"/>
<circle cx="668.6" cy="741.8" r="2.2" fill="#b7ff40"/>
<circle cx="668.3" cy="742.8" r="2.2" fill="#000089"/>
<circle cx="668.2" cy="744.0" r="2.2" fill="#0cf4eb"/>
<circle cx="668.3" cy="745.6" r="2.2" fill="#0000c4"/>
<circle cx="668.6" cy="747.9" r="2.2" fill="#b20000"/>
<circle cx="668.3" cy="748.7" r="2.2" fill="#006dff"/>
<circle cx="668.4" cy="750.0" r="2.2" fill="#0000e4"/>
<circle cx="668.3" cy="752.5" r="2.2" fill="#840000"/>
<circle cx="668.4" cy="753.1" r="2.2" fill="#46ffb1"/>
<circle cx="668.3" cy="754.7" r="2.2" fill="#b20000"/>
<circle cx="668.3" cy="756.4" r="2.2" fill="#920000"/>
<circle cx="668.2" cy="757.9" r="2.2" fill="#0000a4"/>
<circle cx="668.3" cy="758.9" r="2.2" fill="#ff1a00"/>
<circle cx="668.1" cy="760.3" r="2.2" fill="#1fffd7"/>
<circle cx="668.2" cy="762.5" r="2.2" fill="#000096"/>
<circle cx="668.6" cy="764.0" r="2.2" fill="#c80000"/>
<circle cx="668.6" cy="765.2" r="2.2" fill="#000096"/>
<circle cx="668.7" cy="766.4" r="2.2" fill="#0ff8e7"/>
<circle cx="668.5" cy="767.8" r="2.2" fill="#c80000"/>
<circle cx="668.6" cy="769.9" r="2.2" fill="#ffa300"/>
<circle cx="668.6" cy="770.8" r="2.2" fill="#000080"/>
<circle cx="668.4" cy="773.2" r="2.2" fill="#9b0000"/>
<circle cx="668.6" cy="774.3" r="2.2" fill="#0010ff"/>
<circle cx="668.5" cy="776.0" r="2.2" fill="#b60000"/>
<circle cx="668.1" cy="776.8" r="2.2" fill="#000096"/>
<circle cx="668.2" cy="779.1" r="2.2" fill="#ff4a00"/>
<circle cx="668.5" cy="780.3" r="2.2" fill="#8d0000"/>
<circle cx="668.4" cy="781.1" r="2.2" fill="#800000"/>
<circle cx="668.5" cy="783.2" r="2.2" fill="#9b0000"/>
<circle cx="668.5" cy="784.1" r="2.2" fill="#0000c4"/>
<circle cx="668.3" cy="785.6" r="2.2" fill="#0000fa"/>
<circle cx="668.5" cy="787.3" r="2.2" fill="#e4ff13"/>
<circle cx="668.7" cy="789.1" r="2.2" fill="#aaff4d"/>
<circle cx="668.4" cy="790.8" r="2.2" fill="#a40000"/>
<circle cx="668.5" cy="792.3" r="2.2" fill="#b20000"/>
<circle cx="668.2" cy="793.3" r="2.2" fill="#9b0000"/>
<circle cx="668.3" cy="795.1" r="2.2" fill="#008cff"/>
<circle cx="668.1" cy="796.3" r="2.2" fill="#13fce4"/>
<circle cx="668.5" cy="798.2" r="2.2" fill="#00c4ff"/>
<circle cx="668.4" cy="799.5" r="2.2" fill="#ff8200"/>
<circle cx="668.2" cy="801.5" r="2.2" fill="#ffdb00"/>
<circle cx="668.7" cy="803.0" r="2.2" fill="#bf0000"/>
<circle cx="668.4" cy="804.4" r="2.2" fill="#0040ff"/>
<circle cx="668.4" cy="805.2" r="2.2" fill="#39ffbe"/>
<circle cx="668.7" cy="806.6" r="2.2" fill="#800000"/>
<circle cx="668.2" cy="808.5" r="2.2" fill="#000092"/>
<circle cx="668.2" cy="810.3" r="2.2" fill="#840000"/>
<circle cx="668.6" cy="811.7" r="2.2" fill="#890000"/>
<circle cx="668.6" cy="812.9" r="2.2" fill="#c40000"/>
<circle cx="668.1" cy="814.4" r="2.2" fill="#920000"/>
<circle cx="668.3" cy="815.5" r="2.2" fill="#0000cd"/>
<circle cx="668.3" cy="817.8" r="2.2" fill="#840000"/>
<circle cx="668.6" cy="819.3" r="2.2" fill="#0000df"/>
<circle cx="668.7" cy="820.6" r="2.2" fill="#960000"/>
<circle cx="668.3" cy="821.7" r="2.2" fill="#0000b2"/>
<circle cx="668.7" cy="823.4" r="2.2" fill="#0000a4"/>
<circle cx="668.4" cy="824.5" r="2.2" fill="#800000"/>
<circle cx="668.2" cy="826.7" r="2.2" fill="#890000"/>
<circle cx="668.7" cy="827.5" r="2.2" fill="#ad0000"/>
<circle cx="668.4" cy="828.9" r="2.2" fill="#ffbd00"/>
<circle cx="668.7" cy="831.2" r="2.2" fill="#00adff"/>
<circle cx="668.5" cy="832.7" r="2.2" fill="#0000a4"/>
<circle cx="668.4" cy="834.0" r="2.2" fill="#c40000"/>
<circle cx="668.5" cy="835.2" r="2.2" fill="#f10800"/>
<circle cx="668.5" cy="836.4" r="2.2" fill="#b20000"/>
<circle cx="668.7" cy="837.7" r="2.2" fill="#000092"/>
<circle cx="668.3" cy="839.4" r="2.2" fill="#bb0000"/>
<circle cx="668.7" cy="840.9" r="2.2" fill="#ff2d00"/>
<circle cx="668.3" cy="842.7" r="2.2" fill="#ff7e00"/>
<circle cx="668.2" cy="843.7" r="2.2" fill="#0068ff"/>
<circle cx="668.6" cy="845.6" r="2.2" fill="#ff9f00"/>
<circle cx="668.6" cy="847.7" r="2.2" fill="#b20000"/>
<circle cx="668.2" cy="848.2" r="2.2" fill="#ff5200"/>
<circle cx="668.3" cy="849.6" r="2.2" fill="#a80000"/>
<circle cx="668.3" cy="851.7" r="2.2" fill="#ad0000"/>
<circle cx="668.5" cy="853.0" r="2.2" fill="#920000"/>
<circle cx="668.4" cy="854.4" r="2.2" fill="#00009f"/>
<circle cx="668.1" cy="855.8" r="2.2" fill="#df0000"/>
<circle cx="668.2" cy="857.5" r="2.2" fill="#ff9800"/>
<circle cx="668.6" cy="858.7" r="2.2" fill="#ad0000"/>
<circle cx="668.2" cy="860.4" r="2.2" fill="#26ffd1"/>
<circle cx="668.7" cy="862.4" r="2.2" fill="#ff8900"/>
<circle cx="668.1" cy="862.9" r="2.2" fill="#000096"/>
<circle cx="668.6" cy="864.9" r="2.2" fill="#890000"/>
<circle cx="668.1" cy="866.3" r="2.2" fill="#bb0000"/>
<circle cx="668.6" cy="868.3" r="2.2" fill="#00b8ff"/>
<circle cx="668.2" cy="868.9" r="2.2" fill="#0075ff"/>
<circle cx="668.4" cy="871.1" r="2.2" fill="#0000b2"/>
<circle cx="668.5" cy="872.6" r="2.2" fill="#f60b00"/>
<circle cx="668.4" cy="873.9" r="2.2" fill="#ff2900"/>
<circle cx="668.6" cy="875.0" r="2.2" fill="#a40000"/>
<circle cx="668.5" cy="876.6" r="2.2" fill="#c40000"/>
<circle cx="668.3" cy="878.5" r="2.2" fill="#97ff60"/>
<circle cx="668.2" cy="879.3" r="2.2" fill="#890000"/>
<circle cx="668.4" cy="881.2" r="2.2" fill="#0000a4"/>
<circle cx="668.5" cy="882.2" r="2.2" fill="#000092"/>
<circle cx="668.4" cy="884.8" r="2.2" fill="#00008d"/>
<circle cx="668.6" cy="885.7" r="2.2" fill="#840000"/>
<circle cx="668.2" cy="887.8" r="2.2" fill="#0000a4"/>
<circle cx="671.8" cy="553.5" r="2.2" fill="#b20000"/>
<circle cx="672.2" cy="689.6" r="2.2" fill="#960000"/>
<circle cx="672.2" cy="862.4" r="2.2" fill="#000092"/>
<circle cx="671.5" cy="661.6" r="2.2" fill="#dbff1c"/>
<circle cx="672.2" cy="613.7" r="2.2" fill="#000084"/>
<circle cx="672.2" cy="718.7" r="2.2" fill="#23ffd4"/>
<circle cx="672.5" cy="652.6" r="2.2" fill="#9f0000"/>
<circle cx="671.7" cy="621.7" r="2.2" fill="#ffc800"/>
<circle cx="671.8" cy="871.6" r="2.2" fill="#c80000"/>
<circle cx="671.7" cy="622.4" r="2.2" fill="#ff4a00"/>
<circle cx="672.2" cy="870.5" r="2.2" fill="#00009b"/>
<circle cx="671.9" cy="618.8" r="2.2" fill="#840000"/>
<circle cx="671.6" cy="563.7" r="2.2" fill="#0088ff"/>
<circle cx="671.9" cy="853.2" r="2.2" fill="#0000c4"/>
<circle cx="672.2" cy="887.2" r="2.2" fill="#0000c4"/>
<circle cx="671.8" cy="609.4" r="2.2" fill="#f10800"/>
<circle cx="672.2" cy="556.9" r="2.2" fill="#bb0000"/>
<circle cx="671.9" cy="673.9" r="2.2" fill="#840000"/>
<circle cx="671.7" cy="547.0" r="2.2" fill="#890000"/>
<circle cx="671.9" cy="872.8" r="2.2" fill="#000089"/>
<circle cx="672.5" cy="616.9" r="2.2" fill="#890000"/>
<circle cx="672.3" cy="827.1" r="2.2" fill="#b1ff46"/>
<circle cx="671.5" cy="707.9" r="2.2" fill="#0000bf"/>
<circle cx="672.4" cy="612.0" r="2.2" fill="#c80000"/>
<circle cx="672.4" cy="556.4" r="2.2" fill="#920000"/>
<circle cx="672.3" cy="808.2" r="2.2" fill="#0018ff"/>
<circle cx="671.5" cy="567.4" r="2.2" fill="#90ff66"/>
<circle cx="671.8" cy="801.6" r="2.2" fill="#30ffc7"/>
<circle cx="671.8" cy="639.1" r="2.2" fill="#9f0000"/>
<circle cx="672.1" cy="635.7" r="2.2" fill="#00a8ff"/>
<circle cx="671.8" cy="640.3" r="2.2" fill="#8d0000"/>
<circle cx="672.3" cy="859.4" r="2.2" fill="#ff3800"/>
<circle cx="672.4" cy="554.3" r="2.2" fill="#f1fc06"/>
<circle cx="672.0" cy="873.2" r="2.2" fill="#920000"/>
<circle cx="671.9" cy="631.9" r="2.2" fill="#000080"/>
<circle cx="672.0" cy="863.4" r="2.2" fill="#bf0000"/>
<circle cx="672.3" cy="798.6" r="2.2" fill="#0000bf"/>
<circle cx="672.3" cy="753.7" r="2.2" fill="#f1fc06"/>
<circle cx="671.8" cy="669.8" r="2.2" fill="#9f0000"/>
<circle cx="671.6" cy="613.5" r="2.2" fill="#0035ff"/>
<circle cx="671.7" cy="568.1" r="2.2" fill="#c80000"/>
<circle cx="672.1" cy="657.4" r="2.2" fill="#2cffca"/>
<circle cx="672.4" cy="883.8" r="2.2" fill="#0000f1"/>
<circle cx="671.6" cy="579.0" r="2.2" fill="#000089"/>
<circle cx="672.2" cy="698.9" r="2.2" fill="#ffbd00"/>
<circle cx="671.9" cy="758.1" r="2.2" fill="#0000ad"/>
<circle cx="672.2" cy="835.7" r="2.2" fill="#0000ad"/>
<circle cx="671.6" cy="833.6" r="2.2" fill="#8d0000"/>
<circle cx="672.1" cy="673.6" r="2.2" fill="#beff39"/>
<circle cx="671.7" cy="630.6" r="2.2" fill="#001dff"/>
<circle cx="671.7" cy="848.4" r="2.2" fill="#ffab00"/>
<circle cx="671.8" cy="681.5" r="2.2" fill="#0068ff"/>
<circle cx="672.0" cy="625.1" r="2.2" fill="#00b0ff"/>
<circle cx="672.2" cy="884.9" r="2.2" fill="#0060ff"/>
<circle cx="672.0" cy="826.1" r="2.2" fill="#b20000"/>
<circle cx="672.4" cy="559.8" r="2.2" fill="#000089"/>
<circle cx="671.6" cy="610.8" r="2.2" fill="#a80000"/>
<circle cx="672.1" cy="864.1" r="2.2" fill="#00008d"/>
<circle cx="672.4" cy="699.6" r="2.2" fill="#000089"/>
<circle cx="672.3" cy="869.4" r="2.2" fill="#0025ff"/>
<circle cx="672.1" cy="758.0" r="2.2" fill="#c80000"/>
<circle cx="671.9" cy="594.3" r="2.2" fill="#00dcfe"/>
<circle cx="671.8" cy="751.0" r="2.2" fill="#f10800"/>
<circle cx="671.7" cy="549.9" r="2.2" fill="#5aff9d"/>
<circle cx="672.2" cy="609.3" r="2.2" fill="#0000b2"/>
<circle cx="671.7" cy="818.0" r="2.2" fill="#007dff"/>
<circle cx="671.6" cy="580.7" r="2.2" fill="#ff9100"/>
<circle cx="672.1" cy="764.6" r="2.2" fill="#0000b6"/>
<circle cx="671.7" cy="783.8" r="2.2" fill="#960000"/>
<circle cx="671.8" cy="651.2" r="2.2" fill="#bb0000"/>
<circle cx="669.7" cy="739.7" r="2.2" fill="#840000"/>
<circle cx="669.8" cy="841.6" r="2.2" fill="#b60000"/>
<circle cx="669.8" cy="613.4" r="2.2" fill="#9f0000"/>
<circle cx="669.7" cy="548.0" r="2.2" fill="#00008d"/>
<circle cx="669.8" cy="826.6" r="2.2" fill="#ffe200"/>
<circle cx="670.2" cy="703.6" r="2.2" fill="#0018ff"/>
<circle cx="669.5" cy="734.6" r="2.2" fill="#000084"/>
<circle cx="670.2" cy="576.4" r="2.2" fill="#ffe600"/>
<circle cx="669.8" cy="718.5" r="2.2" fill="#46ffb1"/>
<circle cx="669.7" cy="724.2" r="2.2" fill="#ad0000"/>
<circle cx="669.6" cy="713.8" r="2.2" fill="#6dff8a"/>
<circle cx="670.3" cy="613.5" r="2.2" fill="#0000a8"/>
<circle cx="670.3" cy="879.6" r="2.2" fill="#02e8f4"/>
<circle cx="669.5" cy="862.7" r="2.2" fill="#9b0000"/>
<circle cx="670.2" cy="758.2" r="2.2" fill="#000080"/>
<circle cx="669.6" cy="814.8" r="2.2" fill="#ff4700"/>
<circle cx="669.8" cy="835.5" r="2.2" fill="#e40000"/>
<circle cx="669.6" cy="620.6" r="2.2" fill="#adff49"/>
<circle cx="669.9" cy="677.2" r="2.2" fill="#b1ff46"/>
<circle cx="669.7" cy="793.9" r="2.2" fill="#a40000"/>
<circle cx="669.5" cy="738.3" r="2.2" fill="#0078ff"/>
<circle cx="669.5" cy="832.7" r="2.2" fill="#0000bb"/>
<circle cx="670.0" cy="734.1" r="2.2" fill="#006dff"/>
<circle cx="669.7" cy="689.7" r="2.2" fill="#c40000"/>
<circle cx="669.8" cy="771.3" r="2.2" fill="#adff49"/>
<circle cx="669.9" cy="554.0" r="2.2" fill="#000092"/>
<circle cx="669.9" cy="626.5" r="2.2" fill="#ff8900"/>
<circle cx="670.1" cy="702.7" r="2.2" fill="#0000b2"/>
<circle cx="669.9" cy="582.6" r="2.2" fill="#ff7a00"/>
<circle cx="669.8" cy="577.4" r="2.2" fill="#0000a4"/>
<circle cx="669.9" cy="559.9" r="2.2" fill="#ff5500"/>
<circle cx="669.6" cy="796.9" r="2.2" fill="#0000bf"/>
<circle cx="669.9" cy="564.6" r="2.2" fill="#0070ff"/>
<circle cx="669.8" cy="871.2" r="2.2" fill="#c40000"/>
<circle cx="670.2" cy="886.7" r="2.2" fill="#000092"/>
<circle cx="670.2" cy="612.2" r="2.2" fill="#e1ff16"/>
<circle cx="669.9" cy="873.2" r="2.2" fill="#ff8d00"/>
<circle cx="669.6" cy="815.6" r="2.2" fill="#a40000"/>
<circle cx="669.6" cy="666.0" r="2.2" fill="#0010ff"/>
<circle cx="669.6" cy="852.6" r="2.2" fill="#73ff83"/>
<circle cx="670.2" cy="595.1" r="2.2" fill="#50ffa7"/>
<circle cx="670.2" cy="617.2" r="2.2" fill="#ad0000"/>
<circle cx="669.9" cy="655.1" r="2.2" fill="#b4ff43"/>
<circle cx="669.6" cy="601.1" r="2.2" fill="#ffb900"/>
<circle cx="670.0" cy="852.2" r="2.2" fill="#9f0000"/>
<circle cx="670.1" cy="585.4" r="2.2" fill="#0000a8"/>
<circle cx="670.0" cy="669.0" r="2.2" fill="#800000"/>
<circle cx="669.9" cy="744.4" r="2.2" fill="#000092"/>
<circle cx="669.6" cy="885.6" r="2.2" fill="#ffa700"/>
<circle cx="669.8" cy="818.8" r="2.2" fill="#a40000"/>
<circle cx="670.3" cy="743.5" r="2.2" fill="#ad0000"/>
<circle cx="670.1" cy="697.3" r="2.2" fill="#ff8900"/>
<circle cx="670.1" cy="562.5" r="2.2" fill="#00b4ff"/>
<circle cx="669.7" cy="764.6" r="2.2" fill="#00bcff"/>
<circle cx="670.0" cy="773.0" r="2.2" fill="#ffc400"/>
<circle cx="669.5" cy="557.6" r="2.2" fill="#0000ff"/>
<circle cx="670.0" cy="693.8" r="2.2" fill="#c80000"/>
<circle cx="670.2" cy="591.2" r="2.2" fill="#0000c4"/>
<circle cx="670.0" cy="553.6" r="2.2" fill="#bb0000"/>
<circle cx="669.8" cy="582.4" r="2.2" fill="#ff5500"/>
<circle cx="669.7" cy="745.6" r="2.2" fill="#00009b"/>
<circle cx="669.7" cy="759.4" r="2.2" fill="#f4f802"/>
<circle cx="669.6" cy="866.3" r="2.2" fill="#ffae00"/>
<circle cx="669.6" cy="578.8" r="2.2" fill="#890000"/>
<circle cx="670.2" cy="813.5" r="2.2" fill="#00009b"/>
<circle cx="669.7" cy="549.9" r="2.2" fill="#0000bf"/>
<circle cx="669.9" cy="665.8" r="2.2" fill="#840000"/>
<circle cx="669.9" cy="866.5" r="2.2" fill="#960000"/>
<circle cx="669.7" cy="855.0" r="2.2" fill="#0000bb"/>
<circle cx="669.9" cy="684.8" r="2.2" fill="#0000a8"/>
<circle cx="669.5" cy="812.4" r="2.2" fill="#87ff70"/>
<circle cx="669.9" cy="867.8" r="2.2" fill="#90ff66"/>
<circle cx="669.7" cy="754.0" r="2.2" fill="#ad0000"/>
<circle cx="670.0" cy="824.2" r="2.2" fill="#890000"/>
<circle cx="669.7" cy="648.7" r="2.2" fill="#b20000"/>
<circle cx="670.2" cy="813.8" r="2.2" fill="#c1ff36"/>
<circle cx="669.5" cy="834.8" r="2.2" fill="#0000a8"/>
<circle cx="669.9" cy="799.7" r="2.2" fill="#000096"/>
<circle cx="669.7" cy="582.0" r="2.2" fill="#0000bf"/>
<circle cx="669.5" cy="660.7" r="2.2" fill="#46ffb1"/>
<circle cx="670.1" cy="835.1" r="2.2" fill="#bf0000"/>
<circle cx="669.7" cy="735.4" r="2.2" fill="#e7ff0f"/>
<circle cx="670.1" cy="724.9" r="2.2" fill="#0000ff"/>
<circle cx="670.0" cy="876.1" r="2.2" fill="#0000a8"/>
<circle cx="670.2" cy="551.2" r="2.2" fill="#a80000"/>
<circle cx="669.7" cy="800.4" r="2.2" fill="#00a8ff"/>
<circle cx="670.1" cy="657.8" r="2.2" fill="#ff5900"/>
<circle cx="669.8" cy="627.8" r="2.2" fill="#000089"/>
<circle cx="670.0" cy="783.0" r="2.2" fill="#39ffbe"/>
<circle cx="670.3" cy="706.6" r="2.2" fill="#f1fc06"/>
<circle cx="670.1" cy="839.3" r="2.2" fill="#56ffa0"/>
<circle cx="670.1" cy="741.1" r="2.2" fill="#0000bb"/>
<circle cx="669.7" cy="758.9" r="2.2" fill="#c40000"/>
<circle cx="670.2" cy="595.5" r="2.2" fill="#da0000"/>
<circle cx="669.6" cy="863.7" r="2.2" fill="#0000a4"/>
<circle cx="669.6" cy="555.8" r="2.2" fill="#0000ad"/>
<circle cx="670.1" cy="762.8" r="2.2" fill="#ebff0c"/>
<circle cx="670.1" cy="568.5" r="2.2" fill="#000084"/>
<circle cx="669.8" cy="825.6" r="2.2" fill="#8dff6a"/>
<circle cx="670.2" cy="568.6" r="2.2" fill="#0000ad"/>
<circle cx="670.2" cy="869.0" r="2.2" fill="#0078ff"/>
<circle cx="669.7" cy="584.3" r="2.2" fill="#9b0000"/>
<circle cx="670.2" cy="823.7" r="2.2" fill="#0000ad"/>
<circle cx="670.2" cy="762.0" r="2.2" fill="#60ff97"/>
<circle cx="669.6" cy="579.5" r="2.2" fill="#960000"/>
<circle cx="669.7" cy="655.1" r="2.2" fill="#ff6400"/>
<circle cx="669.5" cy="633.8" r="2.2" fill="#d60000"/>
<circle cx="670.1" cy="671.9" r="2.2" fill="#840000"/>
<circle cx="670.3" cy="718.3" r="2.2" fill="#ff5900"/>
<circle cx="670.0" cy="556.6" r="2.2" fill="#800000"/>
<circle cx="677.7" cy="547.0" r="2.2" fill="#b60000"/>
<circle cx="677.8" cy="548.2" r="2.2" fill="#0008ff"/>
<circle cx="677.8" cy="549.1" r="2.2" fill="#56ffa0"/>
<circle cx="677.6" cy="550.4" r="2.2" fill="#ff2900"/>
<circle cx="677.8" cy="553.0" r="2.2" fill="#adff49"/>
<circle cx="677.7" cy="553.8" r="2.2" fill="#b60000"/>
<circle cx="677.6" cy="555.3" r="2.2" fill="#ceff29"/>
<circle cx="677.8" cy="556.4" r="2.2" fill="#bf0000"/>
<circle cx="677.6" cy="557.8" r="2.2" fill="#33ffc4"/>
<circle cx="677.7" cy="559.1" r="2.2" fill="#e40000"/>
<circle cx="677.5" cy="561.3" r="2.2" fill="#890000"/>
<circle cx="677.8" cy="562.5" r="2.2" fill="#b60000"/>
<circle cx="677.7" cy="563.7" r="2.2" fill="#ff3b00"/>
<circle cx="677.5" cy="565.7" r="2.2" fill="#8d0000"/>
<circle cx="677.6" cy="566.4" r="2.2" fill="#00e0fb"/>
<circle cx="677.7" cy="567.9" r="2.2" fill="#e1ff16"/>
<circle cx="677.6" cy="569.5" r="2.2" fill="#aaff4d"/>
<circle cx="677.8" cy="571.2" r="2.2" fill="#0000b6"/>
<circle cx="677.6" cy="572.2" r="2.2" fill="#c80000"/>
<circle cx="677.8" cy="574.0" r="2.2" fill="#00c4ff"/>
<circle cx="677.6" cy="575.1" r="2.2" fill="#8d0000"/>
<circle cx="677.7" cy="576.2" r="2.2" fill="#960000"/>
<circle cx="677.9" cy="577.8" r="2.2" fill="#fa0f00"/>
<circle cx="677.6" cy="579.7" r="2.2" fill="#000096"/>
<circle cx="677.6" cy="580.5" r="2.2" fill="#9f0000"/>
<circle cx="677.6" cy="582.4" r="2.2" fill="#43ffb4"/>
<circle cx="677.6" cy="583.4" r="2.2" fill="#000089"/>
<circle cx="677.8" cy="584.7" r="2.2" fill="#f4f802"/>
<circle cx="677.5" cy="586.5" r="2.2" fill="#000080"/>
<circle cx="677.8" cy="588.3" r="2.2" fill="#0005ff"/>
<circle cx="677.6" cy="589.6" r="2.2" fill="#ff5500"/>
<circle cx="677.6" cy="590.8" r="2.2" fill="#9b0000"/>
<circle cx="677.7" cy="592.6" r="2.2" fill="#c40000"/>
<circle cx="677.7" cy="593.9" r="2.2" fill="#0078ff"/>
<circle cx="677.6" cy="595.3" r="2.2" fill="#0000c8"/>
<circle cx="677.8" cy="597.1" r="2.2" fill="#baff3c"/>
<circle cx="677.7" cy="598.3" r="2.2" fill="#49ffad"/>
<circle cx="677.6" cy="599.7" r="2.2" fill="#beff39"/>
<circle cx="677.8" cy="601.1" r="2.2" fill="#0000ed"/>
<circle cx="677.8" cy="602.4" r="2.2" fill="#26ffd1"/>
<circle cx="677.6" cy="603.9" r="2.2" fill="#0000ad"/>
<circle cx="677.7" cy="605.5" r="2.2" fill="#c40000"/>
<circle cx="677.8" cy="606.3" r="2.2" fill="#0078ff"/>
<circle cx="677.7" cy="608.1" r="2.2" fill="#0000c8"/>
<circle cx="677.8" cy="609.9" r="2.2" fill="#ffea00"/>
<circle cx="677.8" cy="611.2" r="2.2" fill="#ffb900"/>
<circle cx="677.7" cy="612.8" r="2.2" fill="#ff6400"/>
<circle cx="677.7" cy="613.3" r="2.2" fill="#83ff73"/>
<circle cx="677.9" cy="615.1" r="2.2" fill="#c40000"/>
<circle cx="677.7" cy="616.6" r="2.2" fill="#c40000"/>
<circle cx="677.7" cy="618.1" r="2.2" fill="#ff5d00"/>
<circle cx="677.7" cy="619.3" r="2.2" fill="#46ffb1"/>
<circle cx="677.6" cy="621.0" r="2.2" fill="#3cffba"/>
<circle cx="677.8" cy="621.8" r="2.2" fill="#000084"/>
<circle cx="677.6" cy="623.2" r="2.2" fill="#bb0000"/>
<circle cx="677.7" cy="624.5" r="2.2" fill="#920000"/>
<circle cx="677.7" cy="626.7" r="2.2" fill="#bf0000"/>
<circle cx="677.6" cy="627.6" r="2.2" fill="#000092"/>
<circle cx="677.9" cy="629.4" r="2.2" fill="#b60000"/>
<circle cx="677.8" cy="630.7" r="2.2" fill="#ff3000"/>
<circle cx="677.6" cy="632.5" r="2.2" fill="#000092"/>
<circle cx="677.8" cy="633.6" r="2.2" fill="#b20000"/>
<circle cx="677.6" cy="635.6" r="2.2" fill="#9b0000"/>
<circle cx="677.8" cy="636.9" r="2.2" fill="#0000fa"/>
<circle cx="677.7" cy="637.7" r="2.2" fill="#b1ff46"/>
<circle cx="677.6" cy="639.7" r="2.2" fill="#0065ff"/>
<circle cx="677.8" cy="640.5" r="2.2" fill="#9aff5d"/>
<circle cx="677.6" cy="642.1" r="2.2" fill="#c4ff33"/>
<circle cx="677.5" cy="643.9" r="2.2" fill="#90ff66"/>
<circle cx="677.6" cy="644.8" r="2.2" fill="#b60000"/>
<circle cx="677.7" cy="646.6" r="2.2" fill="#b20000"/>
<circle cx="677.6" cy="648.4" r="2.2" fill="#c80000"/>
<circle cx="677.5" cy="649.7" r="2.2" fill="#000092"/>
<circle cx="677.8" cy="650.3" r="2.2" fill="#ad0000"/>
<circle cx="677.8" cy="651.6" r="2.2" fill="#0000b6"/>
<circle cx="677.9" cy="653.8" r="2.2" fill="#df0000"/>
<circle cx="677.5" cy="654.6" r="2.2" fill="#0000c4"/>
<circle cx="677.8" cy="656.3" r="2.2" fill="#0018ff"/>
<circle cx="677.9" cy="658.2" r="2.2" fill="#9f0000"/>
<circle cx="677.9" cy="659.4" r="2.2" fill="#000092"/>
<circle cx="677.8" cy="661.2" r="2.2" fill="#eeff09"/>
<circle cx="677.8" cy="661.8" r="2.2" fill="#ff7a00"/>
<circle cx="677.7" cy="663.8" r="2.2" fill="#bb0000"/>
<circle cx="677.9" cy="665.1" r="2.2" fill="#8d0000"/>
<circle cx="677.6" cy="666.0" r="2.2" fill="#0000b2"/>
<circle cx="677.5" cy="667.8" r="2.2" fill="#c40000"/>
<circle cx="677.7" cy="669.3" r="2.2" fill="#00008d"/>
<circle cx="677.8" cy="670.1" r="2.2" fill="#c40000"/>
<circle cx="677.7" cy="672.2" r="2.2" fill="#c40000"/>
<circle cx="677.8" cy="673.4" r="2.2" fill="#0000da"/>
<circle cx="677.9" cy="674.5" r="2.2" fill="#1cffdb"/>
<circle cx="677.8" cy="675.9" r="2.2" fill="#000089"/>
<circle cx="677.8" cy="678.3" r="2.2" fill="#0000c4"/>
<circle cx="677.9" cy="679.2" r="2.2" fill="#0068ff"/>
<circle cx="677.9" cy="680.1" r="2.2" fill="#00a0ff"/>
<circle cx="677.8" cy="681.9" r="2.2" fill="#9f0000"/>
<circle cx="677.6" cy="683.5" r="2.2" fill="#0000e4"/>
<circle cx="677.8" cy="684.6" r="2.2" fill="#ff6400"/>
<circle cx="677.7" cy="686.4" r="2.2" fill="#53ffa4"/>
<circle cx="677.6" cy="688.2" r="2.2" fill="#0000bf"/>
<circle cx="677.7" cy="689.0" r="2.2" fill="#a40000"/>
<circle cx="677.9" cy="690.8" r="2.2" fill="#0000b6"/>
<circle cx="677.6" cy="691.9" r="2.2" fill="#00009f"/>
<circle cx="677.7" cy="693.6" r="2.2" fill="#39ffbe"/>
<circle cx="677.5" cy="695.2" r="2.2" fill="#c40000"/>
<circle cx="677.7" cy="695.8" r="2.2" fill="#000080"/>
<circle cx="677.5" cy="697.4" r="2.2" fill="#ff5500"/>
<circle cx="677.7" cy="699.4" r="2.2" fill="#0000df"/>
<circle cx="677.9" cy="700.7" r="2.2" fill="#00009f"/>
<circle cx="677.8" cy="702.3" r="2.2" fill="#0000c8"/>
<circle cx="677.8" cy="703.1" r="2.2" fill="#890000"/>
<circle cx="677.7" cy="705.2" r="2.2" fill="#ad0000"/>
<circle cx="677.6" cy="705.8" r="2.2" fill="#0000f6"/>
<circle cx="677.9" cy="707.9" r="2.2" fill="#e1ff16"/>
<circle cx="677.8" cy="709.5" r="2.2" fill="#19ffde"/>
<circle cx="677.6" cy="710.4" r="2.2" fill="#000089"/>
<circle cx="677.6" cy="711.9" r="2.2" fill="#e1ff16"/>
<circle cx="677.9" cy="712.9" r="2.2" fill="#ffdb00"/>
<circle cx="677.5" cy="714.4" r="2.2" fill="#ffab00"/>
<circle cx="677.7" cy="716.8" r="2.2" fill="#ff1300"/>
<circle cx="677.5" cy="717.6" r="2.2" fill="#a80000"/>
<circle cx="677.9" cy="719.7" r="2.2" fill="#a40000"/>
<circle cx="677.7" cy="720.1" r="2.2" fill="#bf0000"/>
<circle cx="677.6" cy="721.6" r="2.2" fill="#00d8ff"/>
<circle cx="677.5" cy="723.6" r="2.2" fill="#0000c8"/>
<circle cx="677.9" cy="724.4" r="2.2" fill="#00bcff"/>
<circle cx="677.6" cy="725.7" r="2.2" fill="#800000"/>
<circle cx="677.6" cy="728.0" r="2.2" fill="#000080"/>
<circle cx="677.5" cy="729.4" r="2.2" fill="#00009f"/>
<circle cx="677.8" cy="730.8" r="2.2" fill="#9f0000"/>
<circle cx="677.8" cy="732.2" r="2.2" fill="#39ffbe"/>
<circle cx="677.9" cy="733.1" r="2.2" fill="#cd0000"/>
<circle cx="677.8" cy="734.3" r="2.2" fill="#8d0000"/>
<circle cx="677.8" cy="736.6" r="2.2" fill="#ff3400"/>
<circle cx="677.6" cy="737.9" r="2.2" fill="#ffc100"/>
<circle cx="677.8" cy="739.1" r="2.2" fill="#70ff87"/>
<circle cx="677.6" cy="740.6" r="2.2" fill="#000080"/>
<circle cx="677.8" cy="741.5" r="2.2" fill="#000096"/>
<circle cx="677.6" cy="743.5" r="2.2" fill="#bf0000"/>
<circle cx="677.7" cy="744.7" r="2.2" fill="#ff3b00"/>
<circle cx="677.9" cy="746.5" r="2.2" fill="#ffc100"/>
<circle cx="677.6" cy="747.1" r="2.2" fill="#9b0000"/>
<circle cx="677.8" cy="749.4" r="2.2" fill="#0000ed"/>
<circle cx="677.7" cy="751.0" r="2.2" fill="#0000c4"/>
<circle cx="677.7" cy="751.7" r="2.2" fill="#0cf4eb"/>
<circle cx="677.9" cy="753.2" r="2.2" fill="#b60000"/>
<circle cx="677.7" cy="755.2" r="2.2" fill="#0000ad"/>
<circle cx="677.6" cy="755.6" r="2.2" fill="#ffb600"/>
<circle cx="677.7" cy="757.7" r="2.2" fill="#890000"/>
<circle cx="677.9" cy="758.5" r="2.2" fill="#ad0000"/>
<circle cx="677.8" cy="760.9" r="2.2" fill="#ff6400"/>
<circle cx="677.6" cy="762.3" r="2.2" fill="#00009f"/>
<circle cx="677.8" cy="763.8" r="2.2" fill="#baff3c"/>
<circle cx="677.5" cy="764.8" r="2.2" fill="#0000c8"/>
<circle cx="677.6" cy="766.4" r="2.2" fill="#9f0000"/>
<circle cx="677.6" cy="767.7" r="2.2" fill="#b60000"/>
<circle cx="677.7" cy="768.7" r="2.2" fill="#bf0000"/>
<circle cx="677.8" cy="770.8" r="2.2" fill="#840000"/>
<circle cx="677.5" cy="772.2" r="2.2" fill="#0000ad"/>
<circle cx="677.6" cy="773.4" r="2.2" fill="#000092"/>
<circle cx="677.9" cy="774.7" r="2.2" fill="#b20000"/>
<circle cx="677.7" cy="775.8" r="2.2" fill="#9dff5a"/>
<circle cx="677.6" cy="777.8" r="2.2" fill="#000084"/>
<circle cx="677.7" cy="778.9" r="2.2" fill="#ff7700"/>
<circle cx="677.6" cy="779.9" r="2.2" fill="#840000"/>
<circle cx="677.6" cy="781.4" r="2.2" fill="#0000c4"/>
<circle cx="677.8" cy="782.9" r="2.2" fill="#b4ff43"/>
<circle cx="677.6" cy="784.7" r="2.2" fill="#0000a4"/>
<circle cx="677.5" cy="786.7" r="2.2" fill="#ffab00"/>
<circle cx="677.7" cy="787.6" r="2.2" fill="#960000"/>
<circle cx="677.8" cy="788.9" r="2.2" fill="#000084"/>
<circle cx="677.8" cy="790.8" r="2.2" fill="#b1ff46"/>
<circle cx="677.6" cy="791.3" r="2.2" fill="#800000"/>
<circle cx="677.6" cy="792.8" r="2.2" fill="#bf0000"/>
<circle cx="677.7" cy="795.1" r="2.2" fill="#ff6000"/>
<circle cx="677.9" cy="796.6" r="2.2" fill="#fa0f00"/>
<circle cx="677.7" cy="797.4" r="2.2" fill="#0000b2"/>
<circle cx="677.9" cy="798.7" r="2.2" fill="#b60000"/>
<circle cx="677.8" cy="800.9" r="2.2" fill="#73ff83"/>
<circle cx="677.7" cy="801.7" r="2.2" fill="#b20000"/>
<circle cx="677.9" cy="803.8" r="2.2" fill="#000096"/>
<circle cx="677.5" cy="804.4" r="2.2" fill="#c40000"/>
<circle cx="677.9" cy="806.5" r="2.2" fill="#8d0000"/>
<circle cx="677.5" cy="807.8" r="2.2" fill="#0000bb"/>
<circle cx="677.8" cy="809.5" r="2.2" fill="#b20000"/>
<circle cx="677.6" cy="810.6" r="2.2" fill="#f4f802"/>
<circle cx="677.8" cy="811.5" r="2.2" fill="#b20000"/>
<circle cx="677.8" cy="812.7" r="2.2" fill="#9b0000"/>
<circle cx="677.6" cy="814.2" r="2.2" fill="#adff49"/>
<circle cx="677.6" cy="815.7" r="2.2" fill="#840000"/>
<circle cx="677.8" cy="816.9" r="2.2" fill="#000080"/>
<circle cx="677.6" cy="818.4" r="2.2" fill="#ff3000"/>
<circle cx="677.6" cy="820.8" r="2.2" fill="#0000a4"/>
<circle cx="677.9" cy="821.3" r="2.2" fill="#b20000"/>
<circle cx="677.5" cy="823.7" r="2.2" fill="#00008d"/>
<circle cx="677.8" cy="824.5" r="2.2" fill="#c40000"/>
<circle cx="677.8" cy="826.0" r="2.2" fill="#90ff66"/>
<circle cx="677.6" cy="827.1" r="2.2" fill="#a40000"/>
<circle cx="677.8" cy="828.9" r="2.2" fill="#b20000"/>
<circle cx="677.8" cy="830.0" r="2.2" fill="#43ffb4"/>
<circle cx="677.6" cy="831.5" r="2.2" fill="#ed0400"/>
<circle cx="677.6" cy="832.8" r="2.2" fill="#006dff"/>
<circle cx="677.6" cy="835.0" r="2.2" fill="#960000"/>
<circle cx="677.9" cy="835.5" r="2.2" fill="#a80000"/>
<circle cx="677.8" cy="837.1" r="2.2" fill="#ebff0c"/>
<circle cx="677.6" cy="838.6" r="2.2" fill="#deff19"/>
<circle cx="677.6" cy="840.8" r="2.2" fill="#ffc800"/>
<circle cx="677.9" cy="841.2" r="2.2" fill="#aaff4d"/>
<circle cx="677.9" cy="842.6" r="2.2" fill="#840000"/>
<circle cx="677.6" cy="845.1" r="2.2" fill="#0035ff"/>
<circle cx="677.8" cy="845.8" r="2.2" fill="#ff6000"/>
<circle cx="677.5" cy="847.8" r="2.2" fill="#00b8ff"/>
<circle cx="677.6" cy="848.7" r="2.2" fill="#9b0000"/>
<circle cx="677.6" cy="850.3" r="2.2" fill="#c40000"/>
<circle cx="677.6" cy="852.0" r="2.2" fill="#9b0000"/>
<circle cx="677.6" cy="852.6" r="2.2" fill="#0000c4"/>
<circle cx="677.7" cy="854.5" r="2.2" fill="#000084"/>
<circle cx="677.6" cy="856.1" r="2.2" fill="#0030ff"/>
<circle cx="677.8" cy="857.5" r="2.2" fill="#0000df"/>
<circle cx="677.5" cy="859.1" r="2.2" fill="#0000f6"/>
<circle cx="677.8" cy="859.7" r="2.2" fill="#ff8200"/>
<circle cx="677.6" cy="862.0" r="2.2" fill="#0000a4"/>
<circle cx="677.7" cy="862.5" r="2.2" fill="#0000ad"/>
<circle cx="677.7" cy="864.9" r="2.2" fill="#00009f"/>
<circle cx="677.6" cy="866.3" r="2.2" fill="#920000"/>
<circle cx="677.6" cy="867.2" r="2.2" fill="#0000a4"/>
<circle cx="677.5" cy="868.8" r="2.2" fill="#000096"/>
<circle cx="677.7" cy="869.8" r="2.2" fill="#a80000"/>
<circle cx="677.8" cy="872.0" r="2.2" fill="#bb0000"/>
<circle cx="677.8" cy="872.9" r="2.2" fill="#0080ff"/>
<circle cx="677.5" cy="874.9" r="2.2" fill="#0000b6"/>
<circle cx="677.7" cy="875.9" r="2.2" fill="#73ff83"/>
<circle cx="677.7" cy="876.8" r="2.2" fill="#0000b6"/>
<circle cx="677.6" cy="878.4" r="2.2" fill="#000092"/>
<circle cx="677.6" cy="880.5" r="2.2" fill="#87ff70"/>
<circle cx="677.5" cy="881.8" r="2.2" fill="#ff9100"/>
<circle cx="677.5" cy="883.1" r="2.2" fill="#0000ad"/>
<circle cx="677.7" cy="884.7" r="2.2" fill="#0000ad"/>
<circle cx="677.8" cy="886.1" r="2.2" fill="#00a8ff"/>
<circle cx="677.5" cy="887.3" r="2.2" fill="#8d0000"/>
<circle cx="673.9" cy="587.7" r="2.2" fill="#09f0ee"/>
<circle cx="673.7" cy="748.4" r="2.2" fill="#19ffde"/>
<circle cx="673.7" cy="741.9" r="2.2" fill="#ffc400"/>
<circle cx="673.7" cy="828.5" r="2.2" fill="#9b0000"/>
<circle cx="674.1" cy="689.8" r="2.2" fill="#c80000"/>
<circle cx="674.3" cy="681.3" r="2.2" fill="#000096"/>
<circle cx="674.7" cy="661.8" r="2.2" fill="#0068ff"/>
<circle cx="674.0" cy="695.0" r="2.2" fill="#960000"/>
<circle cx="674.7" cy="858.2" r="2.2" fill="#bb0000"/>
<circle cx="674.8" cy="564.3" r="2.2" fill="#83ff73"/>
<circle cx="674.9" cy="865.5" r="2.2" fill="#0000b6"/>
<circle cx="674.1" cy="762.4" r="2.2" fill="#000092"/>
<circle cx="674.3" cy="569.7" r="2.2" fill="#0040ff"/>
<circle cx="674.3" cy="553.1" r="2.2" fill="#a7ff50"/>
<circle cx="675.0" cy="811.6" r="2.2" fill="#0000b2"/>
<circle cx="736.1" cy="555.4" r="2.2" fill="#ff7700"/>
<circle cx="736.2" cy="556.1" r="2.2" fill="#920000"/>
<circle cx="735.9" cy="558.9" r="2.2" fill="#003dff"/>
<circle cx="736.0" cy="561.2" r="2.2" fill="#000089"/>
<circle cx="735.9" cy="562.4" r="2.2" fill="#b1ff46"/>
<circle cx="736.2" cy="563.9" r="2.2" fill="#bb0000"/>
<circle cx="736.1" cy="565.6" r="2.2" fill="#0000c4"/>
<circle cx="736.2" cy="568.0" r="2.2" fill="#a7ff50"/>
<circle cx="736.0" cy="569.9" r="2.2" fill="#00009b"/>
<circle cx="735.8" cy="571.2" r="2.2" fill="#800000"/>
<circle cx="736.0" cy="573.3" r="2.2" fill="#0000ad"/>
<circle cx="735.8" cy="575.5" r="2.2" fill="#9b0000"/>
<circle cx="736.0" cy="577.4" r="2.2" fill="#f8f500"/>
<circle cx="735.9" cy="579.5" r="2.2" fill="#1fffd7"/>
<circle cx="736.0" cy="581.2" r="2.2" fill="#800000"/>
<circle cx="735.9" cy="582.5" r="2.2" fill="#29ffce"/>
<circle cx="736.0" cy="584.6" r="2.2" fill="#8d0000"/>
<circle cx="735.8" cy="586.4" r="2.2" fill="#0008ff"/>
<circle cx="735.9" cy="588.6" r="2.2" fill="#ad0000"/>
<circle cx="735.9" cy="591.1" r="2.2" fill="#feed00"/>
<circle cx="736.1" cy="591.8" r="2.2" fill="#960000"/>
<circle cx="736.1" cy="594.0" r="2.2" fill="#30ffc7"/>
<circle cx="736.0" cy="595.9" r="2.2" fill="#0000bf"/>
<circle cx="735.8" cy="597.5" r="2.2" fill="#960000"/>
<circle cx="736.1" cy="599.2" r="2.2" fill="#0000ad"/>
<circle cx="735.9" cy="601.9" r="2.2" fill="#ff3f00"/>
<circle cx="736.1" cy="603.9" r="2.2" fill="#ffa700"/>
<circle cx="736.1" cy="605.7" r="2.2" fill="#ffab00"/>
<circle cx="736.0" cy="607.6" r="2.2" fill="#d4ff23"/>
<circle cx="736.2" cy="608.5" r="2.2" fill="#bb0000"/>
<circle cx="735.8" cy="612.8" r="2.2" fill="#ffc100"/>
<circle cx="736.0" cy="617.4" r="2.2" fill="#8aff6d"/>
<circle cx="736.0" cy="620.8" r="2.2" fill="#f60b00"/>
<circle cx="736.0" cy="623.4" r="2.2" fill="#0000bb"/>
<circle cx="736.0" cy="628.4" r="2.2" fill="#0080ff"/>
<circle cx="736.0" cy="631.9" r="2.2" fill="#56ffa0"/>
<circle cx="735.9" cy="636.5" r="2.2" fill="#00008d"/>
<circle cx="736.0" cy="639.4" r="2.2" fill="#920000"/>
<circle cx="735.9" cy="642.4" r="2.2" fill="#a7ff50"/>
<circle cx="736.0" cy="646.2" r="2.2" fill="#ff2900"/>
<circle cx="735.9" cy="652.5" r="2.2" fill="#0000bb"/>
<circle cx="736.2" cy="654.4" r="2.2" fill="#840000"/>
<circle cx="736.2" cy="657.7" r="2.2" fill="#9b0000"/>
<circle cx="736.0" cy="663.2" r="2.2" fill="#0000a4"/>
<circle cx="736.1" cy="667.3" r="2.2" fill="#b20000"/>
<circle cx="736.0" cy="671.2" r="2.2" fill="#000080"/>
<circle cx="736.0" cy="674.6" r="2.2" fill="#a40000"/>
<circle cx="735.9" cy="680.4" r="2.2" fill="#0000ad"/>
<circle cx="736.0" cy="681.7" r="2.2" fill="#ff8d00"/>
<circle cx="736.0" cy="687.1" r="2.2" fill="#e4ff13"/>
<circle cx="736.2" cy="692.3" r="2.2" fill="#00009b"/>
<circle cx="736.0" cy="695.2" r="2.2" fill="#ffcc00"/>
<circle cx="735.9" cy="698.8" r="2.2" fill="#c80000"/>
<circle cx="735.9" cy="702.1" r="2.2" fill="#0000c4"/>
<circle cx="736.1" cy="706.6" r="2.2" fill="#63ff94"/>
<circle cx="736.2" cy="711.1" r="2.2" fill="#0000b2"/>
<circle cx="736.2" cy="715.7" r="2.2" fill="#f1fc06"/>
<circle cx="735.9" cy="717.8" r="2.2" fill="#000080"/>
<circle cx="736.0" cy="721.4" r="2.2" fill="#0000ad"/>
<circle cx="736.1" cy="726.6" r="2.2" fill="#b20000"/>
<circle cx="736.2" cy="730.7" r="2.2" fill="#a4ff53"/>
<circle cx="736.0" cy="735.1" r="2.2" fill="#0000bb"/>
<circle cx="736.1" cy="736.6" r="2.2" fill="#9aff5d"/>
<circle cx="736.1" cy="742.3" r="2.2" fill="#d7ff1f"/>
<circle cx="735.9" cy="746.0" r="2.2" fill="#da0000"/>
<circle cx="735.9" cy="750.4" r="2.2" fill="#c80000"/>
<circle cx="736.2" cy="754.1" r="2.2" fill="#00e0fb"/>
<circle cx="735.8" cy="756.8" r="2.2" fill="#0000a8"/>
<circle cx="735.8" cy="760.5" r="2.2" fill="#890000"/>
<circle cx="736.0" cy="766.7" r="2.2" fill="#00ccff"/>
<circle cx="736.1" cy="768.3" r="2.2" fill="#b20000"/>
<circle cx="736.1" cy="773.0" r="2.2" fill="#ad0000"/>
<circle cx="735.9" cy="776.5" r="2.2" fill="#a40000"/>
<circle cx="735.8" cy="782.8" r="2.2" fill="#00009f"/>
<circle cx="735.9" cy="785.3" r="2.2" fill="#a40000"/>
<circle cx="735.8" cy="790.6" r="2.2" fill="#ff4e00"/>
<circle cx="736.2" cy="793.1" r="2.2" fill="#000096"/>
<circle cx="735.9" cy="795.8" r="2.2" fill="#00009b"/>
<circle cx="736.1" cy="800.6" r="2.2" fill="#46ffb1"/>
<circle cx="736.1" cy="804.5" r="2.2" fill="#9f0000"/>
<circle cx="736.2" cy="809.1" r="2.2" fill="#49ffad"/>
<circle cx="735.9" cy="812.7" r="2.2" fill="#deff19"/>
<circle cx="917.0" cy="550.0" r="2.2" fill="#000080"/>
<circle cx="917.0" cy="556.3" r="2.2" fill="#0cf4eb"/>
<circle cx="917.0" cy="550.7" r="2.2" fill="#ad0000"/>
<circle cx="917.0" cy="549.8" r="2.2" fill="#c40000"/>
<circle cx="917.0" cy="552.9" r="2.2" fill="#00b0ff"/>
<circle cx="917.0" cy="546.9" r="2.2" fill="#bf0000"/>
<circle cx="917.0" cy="563.6" r="2.2" fill="#bf0000"/>
<circle cx="917.0" cy="565.1" r="2.2" fill="#0000c8"/>
<circle cx="917.0" cy="567.3" r="2.2" fill="#a7ff50"/>
<circle cx="917.0" cy="568.9" r="2.2" fill="#00d4ff"/>
<circle cx="917.0" cy="570.7" r="2.2" fill="#000089"/>
<circle cx="917.0" cy="572.3" r="2.2" fill="#c40000"/>
<circle cx="917.0" cy="573.3" r="2.2" fill="#0000c8"/>
<circle cx="917.0" cy="575.7" r="2.2" fill="#0000c4"/>
<circle cx="917.0" cy="576.7" r="2.2" fill="#ad0000"/>
<circle cx="917.0" cy="577.9" r="2.2" fill="#890000"/>
<circle cx="917.0" cy="580.5" r="2.2" fill="#920000"/>
<circle cx="917.0" cy="581.3" r="2.2" fill="#000dff"/>
<circle cx="917.0" cy="583.7" r="2.2" fill="#0000c8"/>
<circle cx="917.0" cy="584.9" r="2.2" fill="#00008d"/>
<circle cx="917.0" cy="586.3" r="2.2" fill="#c40000"/>
<circle cx="917.0" cy="587.8" r="2.2" fill="#00adff"/>
<circle cx="917.0" cy="589.2" r="2.2" fill="#840000"/>
<circle cx="917.0" cy="591.5" r="2.2" fill="#56ffa0"/>
<circle cx="917.0" cy="592.7" r="2.2" fill="#0035ff"/>
<circle cx="917.0" cy="594.0" r="2.2" fill="#b20000"/>
<circle cx="917.0" cy="595.6" r="2.2" fill="#00008d"/>
<circle cx="917.0" cy="597.6" r="2.2" fill="#0000bb"/>
<circle cx="917.0" cy="599.9" r="2.2" fill="#ffcc00"/>
<circle cx="917.0" cy="600.7" r="2.2" fill="#0050ff"/>
<circle cx="917.0" cy="602.8" r="2.2" fill="#b20000"/>
<circle cx="917.0" cy="604.4" r="2.2" fill="#0000bb"/>
<circle cx="917.0" cy="606.3" r="2.2" fill="#c80000"/>
<circle cx="917.0" cy="607.0" r="2.2" fill="#0000a4"/>
<circle cx="917.0" cy="609.4" r="2.2" fill="#0000c8"/>
<circle cx="917.0" cy="610.1" r="2.2" fill="#00a0ff"/>
<circle cx="917.0" cy="612.0" r="2.2" fill="#e4ff13"/>
<circle cx="917.0" cy="613.7" r="2.2" fill="#960000"/>
<circle cx="917.0" cy="616.0" r="2.2" fill="#09f0ee"/>
<circle cx="917.0" cy="616.8" r="2.2" fill="#0000a4"/>
<circle cx="917.0" cy="618.6" r="2.2" fill="#c40000"/>
<circle cx="917.0" cy="620.7" r="2.2" fill="#0000a4"/>
<circle cx="917.0" cy="622.4" r="2.2" fill="#ff8600"/>
<circle cx="917.0" cy="623.3" r="2.2" fill="#e7ff0f"/>
<circle cx="917.0" cy="624.8" r="2.2" fill="#ff2d00"/>
<circle cx="917.0" cy="626.3" r="2.2" fill="#ad0000"/>
<circle cx="917.0" cy="628.8" r="2.2" fill="#0000ad"/>
<circle cx="917.0" cy="629.5" r="2.2" fill="#ff9400"/>
<circle cx="917.0" cy="632.2" r="2.2" fill="#0000cd"/>
<circle cx="917.0" cy="633.7" r="2.2" fill="#ffb600"/>
<circle cx="917.0" cy="634.3" r="2.2" fill="#56ffa0"/>
<circle cx="917.0" cy="636.5" r="2.2" fill="#1fffd7"/>
<circle cx="917.0" cy="638.5" r="2.2" fill="#bb0000"/>
<circle cx="917.0" cy="640.2" r="2.2" fill="#bf0000"/>
<circle cx="917.0" cy="642.0" r="2.2" fill="#00dcfe"/>
<circle cx="917.0" cy="642.7" r="2.2" fill="#aaff4d"/>
<circle cx="917.0" cy="644.5" r="2.2" fill="#0000ed"/>
<circle cx="917.0" cy="645.8" r="2.2" fill="#840000"/>
<circle cx="917.0" cy="647.5" r="2.2" fill="#0000a4"/>
<circle cx="917.0" cy="649.4" r="2.2" fill="#8d0000"/>
<circle cx="917.0" cy="650.8" r="2.2" fill="#ceff29"/>
<circle cx="917.0" cy="652.8" r="2.2" fill="#8d0000"/>
<circle cx="917.0" cy="654.4" r="2.2" fill="#ff7e00"/>
<circle cx="917.0" cy="656.1" r="2.2" fill="#00009f"/>
<circle cx="917.0" cy="657.9" r="2.2" fill="#0000a4"/>
<circle cx="917.0" cy="658.9" r="2.2" fill="#d10000"/>
<circle cx="917.0" cy="660.2" r="2.2" fill="#ff8600"/>
<circle cx="917.0" cy="662.6" r="2.2" fill="#bb0000"/>
<circle cx="917.0" cy="663.8" r="2.2" fill="#60ff97"/>
<circle cx="917.0" cy="665.2" r="2.2" fill="#bb0000"/>
<circle cx="917.0" cy="667.9" r="2.2" fill="#000092"/>
<circle cx="917.0" cy="669.1" r="2.2" fill="#a80000"/>
<circle cx="917.0" cy="670.0" r="2.2" fill="#dbff1c"/>
<circle cx="917.0" cy="671.7" r="2.2" fill="#0000c4"/>
<circle cx="917.0" cy="674.2" r="2.2" fill="#00d0ff"/>
<circle cx="917.0" cy="675.9" r="2.2" fill="#a80000"/>
<circle cx="917.0" cy="676.6" r="2.2" fill="#ff3400"/>
<circle cx="917.0" cy="678.9" r="2.2" fill="#002dff"/>
<circle cx="917.0" cy="679.8" r="2.2" fill="#920000"/>
<circle cx="917.0" cy="682.3" r="2.2" fill="#920000"/>
<circle cx="917.0" cy="683.8" r="2.2" fill="#a40000"/>
<circle cx="917.0" cy="684.6" r="2.2" fill="#960000"/>
<circle cx="917.0" cy="686.5" r="2.2" fill="#0000ad"/>
<circle cx="917.0" cy="688.7" r="2.2" fill="#00b4ff"/>
<circle cx="917.0" cy="689.9" r="2.2" fill="#8d0000"/>
<circle cx="917.0" cy="691.7" r="2.2" fill="#960000"/>
<circle cx="917.0" cy="693.1" r="2.2" fill="#b20000"/>
<circle cx="917.0" cy="694.5" r="2.2" fill="#0000c4"/>
<circle cx="917.0" cy="696.6" r="2.2" fill="#800000"/>
<circle cx="917.0" cy="698.5" r="2.2" fill="#beff39"/>
<circle cx="917.0" cy="699.5" r="2.2" fill="#caff2c"/>
<circle cx="917.0" cy="700.5" r="2.2" fill="#0000c4"/>
<circle cx="917.0" cy="703.2" r="2.2" fill="#73ff83"/>
<circle cx="917.0" cy="704.6" r="2.2" fill="#0000a8"/>
<circle cx="917.0" cy="705.8" r="2.2" fill="#0050ff"/>
<circle cx="917.0" cy="708.1" r="2.2" fill="#0000bf"/>
<circle cx="917.0" cy="709.0" r="2.2" fill="#000084"/>
<circle cx="917.0" cy="710.7" r="2.2" fill="#000096"/>
<circle cx="917.0" cy="712.3" r="2.2" fill="#0000a8"/>
<circle cx="917.0" cy="714.6" r="2.2" fill="#ffab00"/>
<circle cx="917.0" cy="716.3" r="2.2" fill="#000089"/>
<circle cx="917.0" cy="716.8" r="2.2" fill="#9b0000"/>
<circle cx="917.0" cy="718.7" r="2.2" fill="#0000d6"/>
<circle cx="917.0" cy="720.5" r="2.2" fill="#ad0000"/>
<circle cx="917.0" cy="722.0" r="2.2" fill="#0045ff"/>
<circle cx="917.0" cy="723.4" r="2.2" fill="#0000bf"/>
<circle cx="917.0" cy="724.9" r="2.2" fill="#000092"/>
<circle cx="917.0" cy="727.1" r="2.2" fill="#ff8900"/>
<circle cx="917.0" cy="728.7" r="2.2" fill="#09f0ee"/>
<circle cx="917.0" cy="729.9" r="2.2" fill="#d60000"/>
<circle cx="917.0" cy="731.4" r="2.2" fill="#0000b2"/>
<circle cx="917.0" cy="733.0" r="2.2" fill="#f4f802"/>
<circle cx="917.0" cy="735.1" r="2.2" fill="#b20000"/>
<circle cx="917.0" cy="736.8" r="2.2" fill="#bb0000"/>
<circle cx="917.0" cy="738.5" r="2.2" fill="#00009f"/>
<circle cx="917.0" cy="739.4" r="2.2" fill="#ff3f00"/>
<circle cx="917.0" cy="741.6" r="2.2" fill="#ff1600"/>
<circle cx="917.0" cy="742.7" r="2.2" fill="#d60000"/>
<circle cx="917.0" cy="749.3" r="2.2" fill="#dbff1c"/>
<circle cx="917.0" cy="751.0" r="2.2" fill="#9b0000"/>
<circle cx="917.0" cy="753.4" r="2.2" fill="#0000a8"/>
<circle cx="917.0" cy="754.1" r="2.2" fill="#a40000"/>
<circle cx="917.0" cy="755.6" r="2.2" fill="#000080"/>
<circle cx="917.0" cy="757.6" r="2.2" fill="#0000a8"/>
<circle cx="917.0" cy="760.0" r="2.2" fill="#c80000"/>
<circle cx="917.0" cy="761.2" r="2.2" fill="#00009b"/>
<circle cx="917.0" cy="762.3" r="2.2" fill="#caff2c"/>
<circle cx="917.0" cy="764.7" r="2.2" fill="#ffc800"/>
<circle cx="917.0" cy="765.5" r="2.2" fill="#800000"/>
<circle cx="917.0" cy="768.2" r="2.2" fill="#000089"/>
<circle cx="917.0" cy="769.3" r="2.2" fill="#9f0000"/>
<circle cx="917.0" cy="771.2" r="2.2" fill="#ffc800"/>
<circle cx="917.0" cy="772.7" r="2.2" fill="#a40000"/>
<circle cx="917.0" cy="774.0" r="2.2" fill="#000084"/>
<circle cx="917.0" cy="775.2" r="2.2" fill="#ffa700"/>
<circle cx="917.0" cy="777.7" r="2.2" fill="#baff3c"/>
<circle cx="917.0" cy="778.6" r="2.2" fill="#9f0000"/>
<circle cx="917.0" cy="780.1" r="2.2" fill="#ffde00"/>
<circle cx="917.0" cy="782.4" r="2.2" fill="#00c0ff"/>
<circle cx="917.0" cy="783.1" r="2.2" fill="#c40000"/>
<circle cx="917.0" cy="785.4" r="2.2" fill="#960000"/>
<circle cx="917.0" cy="786.4" r="2.2" fill="#d10000"/>
<circle cx="917.0" cy="788.8" r="2.2" fill="#0000bf"/>
<circle cx="917.0" cy="789.8" r="2.2" fill="#0000c8"/>
<circle cx="917.0" cy="792.3" r="2.2" fill="#8d0000"/>
<circle cx="917.0" cy="793.2" r="2.2" fill="#840000"/>
<circle cx="917.0" cy="795.2" r="2.2" fill="#a40000"/>
<circle cx="917.0" cy="796.5" r="2.2" fill="#bf0000"/>
<circle cx="917.0" cy="798.2" r="2.2" fill="#0000b6"/>
<circle cx="917.0" cy="800.0" r="2.2" fill="#bf0000"/>
<circle cx="917.0" cy="801.5" r="2.2" fill="#b60000"/>
<circle cx="917.0" cy="802.7" r="2.2" fill="#c80000"/>
<circle cx="917.0" cy="804.5" r="2.2" fill="#00009b"/>
<circle cx="917.0" cy="806.5" r="2.2" fill="#ff3400"/>
<circle cx="917.0" cy="808.6" r="2.2" fill="#b20000"/>
<circle cx="917.0" cy="810.0" r="2.2" fill="#00b4ff"/>
<circle cx="917.0" cy="811.4" r="2.2" fill="#a40000"/>
<circle cx="917.0" cy="812.6" r="2.2" fill="#9f0000"/>
<circle cx="917.0" cy="815.0" r="2.2" fill="#a80000"/>
<circle cx="917.0" cy="816.4" r="2.2" fill="#920000"/>
<circle cx="917.0" cy="817.9" r="2.2" fill="#ff2500"/>
<circle cx="917.0" cy="819.2" r="2.2" fill="#7dff7a"/>
<circle cx="917.0" cy="820.7" r="2.2" fill="#840000"/>
<circle cx="917.0" cy="822.4" r="2.2" fill="#0000a4"/>
<circle cx="917.0" cy="824.0" r="2.2" fill="#d7ff1f"/>
<circle cx="917.0" cy="826.3" r="2.2" fill="#000084"/>
<circle cx="917.0" cy="827.5" r="2.2" fill="#c80000"/>
<circle cx="917.0" cy="828.4" r="2.2" fill="#0000c8"/>
<circle cx="917.0" cy="830.9" r="2.2" fill="#ffb600"/>
<circle cx="917.0" cy="832.0" r="2.2" fill="#29ffce"/>
<circle cx="917.0" cy="833.3" r="2.2" fill="#cd0000"/>
<circle cx="917.0" cy="836.1" r="2.2" fill="#0065ff"/>
<circle cx="917.0" cy="837.0" r="2.2" fill="#0000c4"/>
<circle cx="917.0" cy="838.7" r="2.2" fill="#ff7300"/>
<circle cx="917.0" cy="840.0" r="2.2" fill="#ad0000"/>
<circle cx="917.0" cy="841.6" r="2.2" fill="#9f0000"/>
<circle cx="917.0" cy="843.4" r="2.2" fill="#ff3000"/>
<circle cx="917.0" cy="845.6" r="2.2" fill="#ff3400"/>
<circle cx="917.0" cy="847.1" r="2.2" fill="#000096"/>
<circle cx="917.0" cy="847.9" r="2.2" fill="#ed0400"/>
<circle cx="917.0" cy="849.8" r="2.2" fill="#c80000"/>
<circle cx="917.0" cy="851.7" r="2.2" fill="#0000a8"/>
<circle cx="917.0" cy="853.8" r="2.2" fill="#000096"/>
<circle cx="917.0" cy="855.2" r="2.2" fill="#0cf4eb"/>
<circle cx="917.0" cy="856.7" r="2.2" fill="#00009f"/>
<circle cx="917.0" cy="858.0" r="2.2" fill="#0000bb"/>
<circle cx="917.0" cy="859.5" r="2.2" fill="#0000e4"/>
<circle cx="917.0" cy="861.0" r="2.2" fill="#0000c4"/>
<circle cx="917.0" cy="863.5" r="2.2" fill="#000089"/>
<circle cx="917.0" cy="864.0" r="2.2" fill="#b60000"/>
<circle cx="917.0" cy="866.0" r="2.2" fill="#0000ff"/>
<circle cx="917.0" cy="867.3" r="2.2" fill="#0025ff"/>
<circle cx="917.0" cy="869.8" r="2.2" fill="#bb0000"/>
<circle cx="917.0" cy="871.1" r="2.2" fill="#0000b2"/>
<circle cx="917.0" cy="872.8" r="2.2" fill="#00008d"/>
<circle cx="917.0" cy="873.9" r="2.2" fill="#0045ff"/>
<circle cx="917.0" cy="876.2" r="2.2" fill="#ff6c00"/>
<circle cx="917.0" cy="878.1" r="2.2" fill="#a80000"/>
<circle cx="917.0" cy="879.1" r="2.2" fill="#960000"/>
<circle cx="917.0" cy="880.1" r="2.2" fill="#890000"/>
<circle cx="917.0" cy="882.7" r="2.2" fill="#ff9c00"/>
<circle cx="917.0" cy="883.6" r="2.2" fill="#f8f500"/>
<circle cx="917.0" cy="885.0" r="2.2" fill="#ffde00"/>
<circle cx="917.0" cy="887.2" r="2.2" fill="#9b0000"/>
</g>
<rect x="508" y="120" width="1" height="350" fill="#b0b0b0"/>
<rect x="767" y="120" width="1" height="350" fill="#b0b0b0"/>
<rect x="1025" y="120" width="1" height="350" fill="#b0b0b0"/>
<rect x="1283" y="120" width="1" height="350" fill="#b0b0b0"/>
<rect x="250" y="353" width="1240" height="1" fill="#b0b0b0"/>
<rect x="250" y="237" width="1240" height="1" fill="#b0b0b0"/>
<rect x="508" y="540" width="1" height="350" fill="#b0b0b0"/>
<rect x="767" y="540" width="1" height="350" fill="#b0b0b0"/>
<rect x="1025" y="540" width="1" height="350" fill="#b0b0b0"/>
<rect x="1283" y="540" width="1" height="350" fill="#b0b0b0"/>
<rect x="250" y="773" width="1240" height="1" fill="#b0b0b0"/>
<rect x="250" y="657" width="1240" height="1" fill="#b0b0b0"/>
<rect x="250" y="120" width="1241" height="1" fill="#000"/>
<rect x="250" y="470" width="1241" height="1" fill="#000"/>
<rect x="250" y="120" width="1" height="351" fill="#000"/>
<rect x="1490" y="120" width="1" height="351" fill="#000"/>
<rect x="250" y="471" width="1" height="5.4" fill="#000"/>
<rect x="302" y="471" width="0.85" height="2.6" fill="#000"/>
<rect x="353" y="471" width="0.85" height="2.6" fill="#000"/>
<rect x="405" y="471" width="0.85" height="2.6" fill="#000"/>
<rect x="457" y="471" width="0.85" height="2.6" fill="#000"/>
<rect x="508" y="471" width="1" height="5.4" fill="#000"/>
<rect x="560" y="471" width="0.85" height="2.6" fill="#000"/>
<rect x="612" y="471" width="0.85" height="2.6" fill="#000"/>
<rect x="663" y="471" width="0.85" height="2.6" fill="#000"/>
<rect x="715" y="471" width="0.85" height="2.6" fill="#000"/>
<rect x="767" y="471" width="1" height="5.4" fill="#000"/>
<rect x="818" y="471" width="0.85" height="2.6" fill="#000"/>
<rect x="870" y="471" width="0.85" height="2.6" fill="#000"/>
<rect x="922" y="471" width="0.85" height="2.6" fill="#000"/>
<rect x="973" y="471" width="0.85" height="2.6" fill="#000"/>
<rect x="1025" y="471" width="1" height="5.4" fill="#000"/>
<rect x="1077" y="471" width="0.85" height="2.6" fill="#000"/>
<rect x="1128" y="471" width="0.85" height="2.6" fill="#000"/>
<rect x="1180" y="471" width="0.85" height="2.6" fill="#000"/>
<rect x="1232" y="471" width="0.85" height="2.6" fill="#000"/>
<rect x="1283" y="471" width="1" height="5.4" fill="#000"/>
<rect x="1335" y="471" width="0.85" height="2.6" fill="#000"/>
<rect x="1387" y="471" width="0.85" height="2.6" fill="#000"/>
<rect x="1438" y="471" width="0.85" height="2.6" fill="#000"/>
<rect x="1490" y="471" width="0.85" height="2.6" fill="#000"/>
<rect x="244.6" y="470" width="5.4" height="1" fill="#000"/>
<rect x="247.4" y="447" width="2.6" height="0.85" fill="#000"/>
<rect x="247.4" y="423" width="2.6" height="0.85" fill="#000"/>
<rect x="247.4" y="400" width="2.6" height="0.85" fill="#000"/>
<rect x="247.4" y="377" width="2.6" height="0.85" fill="#000"/>
<rect x="244.6" y="353" width="5.4" height="1" fill="#000"/>
<rect x="247.4" y="330" width="2.6" height="0.85" fill="#000"/>
<rect x="247.4" y="307" width="2.6" height="0.85" fill="#000"/>
<rect x="247.4" y="283" width="2.6" height="0.85" fill="#000"/>
<rect x="247.4" y="260" width="2.6" height="0.85" fill="#000"/>
<rect x="244.6" y="237" width="5.4" height="1" fill="#000"/>
<rect x="247.4" y="213" width="2.6" height="0.85" fill="#000"/>
<rect x="247.4" y="190" width="2.6" height="0.85" fill="#000"/>
<rect x="247.4" y="167" width="2.6" height="0.85" fill="#000"/>
<rect x="247.4" y="143" width="2.6" height="0.85" fill="#000"/>
<rect x="244.6" y="120" width="5.4" height="1" fill="#000"/>
<rect x="250" y="540" width="1241" height="1" fill="#000"/>
<rect x="250" y="890" width="1241" height="1" fill="#000"/>
<rect x="250" y="540" width="1" height="351" fill="#000"/>
<rect x="1490" y="540" width="1" height="351" fill="#000"/>
<rect x="250" y="891" width="1" height="5.4" fill="#000"/>
<rect x="302" y="891" width="0.85" height="2.6" fill="#000"/>
<rect x="353" y="891" width="0.85" height="2.6" fill="#000"/>
<rect x="405" y="891" width="0.85" height="2.6" fill="#000"/>
<rect x="457" y="891" width="0.85" height="2.6" fill="#000"/>
<rect x="508" y="891" width="1" height="5.4" fill="#000"/>
<rect x="560" y="891" width="0.85" height="2.6" fill="#000"/>
<rect x="612" y="891" width="0.85" height="2.6" fill="#000"/>
<rect x="663" y="891" width="0.85" height="2.6" fill="#000"/>
<rect x="715" y="891" width="0.85" height="2.6" fill="#000"/>
<rect x="767" y="891" width="1" height="5.4" fill="#000"/>
<rect x="818" y="891" width="0.85" height="2.6" fill="#000"/>
<rect x="870" y="891" width="0.85" height="2.6" fill="#000"/>
<rect x="922" y="891" width="0.85" height="2.6" fill="#000"/>
<rect x="973" y="891" width="0.85" height="2.6" fill="#000"/>
<rect x="1025" y="891" width="1" height="5.4" fill="#000"/>
<rect x="1077" y="891" width="0.85" height="2.6" fill="#000"/>
<rect x="1128" y="891" width="0.85" height="2.6" fill="#000"/>
<rect x="1180" y="891" width="0.85" height="2.6" fill="#000"/>
<rect x="1232" y="891" width="0.85" height="2.6" fill="#000"/>
<rect x="1283" y="891" width="1" height="5.4" fill="#000"/>
<rect x="1335" y="891" width="0.85" height="2.6" fill="#000"/>
<rect x="1387" y="891" width="0.85" height="2.6" fill="#000"/>
<rect x="1438" y="891" width="0.85" height="2.6" fill="#000"/>
<rect x="1490" y="891" width="0.85" height="2.6" fill="#000"/>
<rect x="244.6" y="890" width="5.4" height="1" fill="#000"/>
<rect x="247.4" y="867" width="2.6" height="0.85" fill="#000"/>
<rect x="247.4" y="843" width="2.6" height="0.85" fill="#000"/>
<rect x="247.4" y="820" width="2.6" height="0.85" fill="#000"/>
<rect x="247.4" y="797" width="2.6" height="0.85" fill="#000"/>
<rect x="244.6" y="773" width="5.4" height="1" fill="#000"/>
<rect x="247.4" y="750" width="2.6" height="0.85" fill="#000"/>
<rect x="247.4" y="727" width="2.6" height="0.85" fill="#000"/>
<rect x="247.4" y="703" width="2.6" height="0.85" fill="#000"/>
<rect x="247.4" y="680" width="2.6" height="0.85" fill="#000"/>
<rect x="244.6" y="657" width="5.4" height="1" fill="#000"/>
<rect x="247.4" y="633" width="2.6" height="0.85" fill="#000"/>
<rect x="247.4" y="610" width="2.6" height="0.85" fill="#000"/>
<rect x="247.4" y="587" width="2.6" height="0.85" fill="#000"/>
<rect x="247.4" y="563" width="2.6" height="0.85" fill="#000"/>
<rect x="244.6" y="540" width="5.4" height="1" fill="#000"/>
<defs><linearGradient id="plasmar" x1="0" y1="0" x2="0" y2="1"><stop offset="0.0000" stop-color="#0d0887"/><stop offset="0.0156" stop-color="#16078a"/><stop offset="0.0312" stop-color="#20068f"/><stop offset="0.0469" stop-color="#280592"/><stop offset="0.0625" stop-color="#2f0596"/><stop offset="0.0781" stop-color="#370499"/><stop offset="0.0938" stop-color="#3e049c"/><stop offset="0.1094" stop-color="#44039e"/><stop offset="0.1250" stop-color="#4b03a1"/><stop offset="0.1406" stop-color="#5102a3"/><stop offset="0.1562" stop-color="#5801a4"/><stop offset="0.1719" stop-color="#5e01a6"/><stop offset="0.1875" stop-color="#6400a7"/><stop offset="0.2031" stop-color="#6a00a8"/><stop offset="0.2188" stop-color="#7100a8"/><stop offset="0.2344" stop-color="#7701a8"/><stop offset="0.2500" stop-color="#7d03a8"/><stop offset="0.2656" stop-color="#8305a7"/><stop offset="0.2812" stop-color="#8808a6"/><stop offset="0.2969" stop-color="#8e0ca4"/><stop offset="0.3125" stop-color="#9410a2"/><stop offset="0.3281" stop-color="#99159f"/><stop offset="0.3438" stop-color="#9e199d"/><stop offset="0.3594" stop-color="#a31e9a"/><stop offset="0.3750" stop-color="#a82296"/><stop offset="0.3906" stop-color="#ad2793"/><stop offset="0.4062" stop-color="#b22b8f"/><stop offset="0.4219" stop-color="#b6308b"/><stop offset="0.4375" stop-color="#bb3488"/><stop offset="0.4531" stop-color="#bf3984"/><stop offset="0.4688" stop-color="#c33d80"/><stop offset="0.4844" stop-color="#c7427c"/><stop offset="0.5000" stop-color="#cb4679"/><stop offset="0.5156" stop-color="#ce4b75"/><stop offset="0.5312" stop-color="#d24f71"/><stop offset="0.5469" stop-color="#d5546e"/><stop offset="0.5625" stop-color="#d9586a"/><stop offset="0.5781" stop-color="#dc5d67"/><stop offset="0.5938" stop-color="#df6263"/><stop offset="0.6094" stop-color="#e26660"/><stop offset="0.6250" stop-color="#e56b5d"/><stop offset="0.6406" stop-color="#e87059"/><stop offset="0.6562" stop-color="#eb7556"/><stop offset="0.6719" stop-color="#ed7a52"/><stop offset="0.6875" stop-color="#f07f4f"/><stop offset="0.7031" stop-color="#f2844b"/><stop offset="0.7188" stop-color="#f48948"/><stop offset="0.7344" stop-color="#f68f44"/><stop offset="0.7500" stop-color="#f89441"/><stop offset="0.7656" stop-color="#f99a3e"/><stop offset="0.7812" stop-color="#fb9f3a"/><stop offset="0.7969" stop-color="#fca537"/><stop offset="0.8125" stop-color="#fdab33"/><stop offset="0.8281" stop-color="#fdb130"/><stop offset="0.8438" stop-color="#feb72d"/><stop offset="0.8594" stop-color="#febd2a"/><stop offset="0.8750" stop-color="#fdc328"/><stop offset="0.8906" stop-color="#fdca26"/><stop offset="0.9062" stop-color="#fcd025"/><stop offset="0.9219" stop-color="#fbd724"/><stop offset="0.9375" stop-color="#f9dd25"/><stop offset="0.9531" stop-color="#f7e425"/><stop offset="0.9688" stop-color="#f5eb27"/><stop offset="0.9844" stop-color="#f2f227"/><stop offset="1.0000" stop-color="#f0f921"/></linearGradient></defs>
<rect x="1568" y="120" width="18" height="351" fill="#000"/>
<rect x="1569" y="121" width="16" height="349" fill="url(#plasmar)"/>
<rect x="1586" y="470" width="4.4" height="1" fill="#000"/>
<rect x="1586" y="382" width="4.4" height="1" fill="#000"/>
<rect x="1586" y="295" width="4.4" height="1" fill="#000"/>
<rect x="1586" y="208" width="4.4" height="1" fill="#000"/>
<rect x="1586" y="120" width="4.4" height="1" fill="#000"/>
<defs><linearGradient id="jetr" x1="0" y1="0" x2="0" y2="1"><stop offset="0.0000" stop-color="#000080"/><stop offset="0.0156" stop-color="#00008d"/><stop offset="0.0312" stop-color="#00009f"/><stop offset="0.0469" stop-color="#0000b2"/><stop offset="0.0625" stop-color="#0000c4"/><stop offset="0.0781" stop-color="#0000d6"/><stop offset="0.0938" stop-color="#0000e8"/><stop offset="0.1094" stop-color="#0000fa"/><stop offset="0.1250" stop-color="#0000ff"/><stop offset="0.1406" stop-color="#000dff"/><stop offset="0.1562" stop-color="#001dff"/><stop offset="0.1719" stop-color="#002dff"/><stop offset="0.1875" stop-color="#003dff"/><stop offset="0.2031" stop-color="#004dff"/><stop offset="0.2188" stop-color="#005dff"/><stop offset="0.2344" stop-color="#006dff"/><stop offset="0.2500" stop-color="#007dff"/><stop offset="0.2656" stop-color="#008cff"/><stop offset="0.2812" stop-color="#009cff"/><stop offset="0.2969" stop-color="#00adff"/><stop offset="0.3125" stop-color="#00bcff"/><stop offset="0.3281" stop-color="#00ccff"/><stop offset="0.3438" stop-color="#00dcfe"/><stop offset="0.3594" stop-color="#06edf1"/><stop offset="0.3750" stop-color="#13fce4"/><stop offset="0.3906" stop-color="#1fffd7"/><stop offset="0.4062" stop-color="#2cffca"/><stop offset="0.4219" stop-color="#39ffbe"/><stop offset="0.4375" stop-color="#46ffb1"/><stop offset="0.4531" stop-color="#53ffa4"/><stop offset="0.4688" stop-color="#60ff97"/><stop offset="0.4844" stop-color="#6dff8a"/><stop offset="0.5000" stop-color="#7aff7d"/><stop offset="0.5156" stop-color="#87ff70"/><stop offset="0.5312" stop-color="#94ff63"/><stop offset="0.5469" stop-color="#a0ff56"/><stop offset="0.5625" stop-color="#adff49"/><stop offset="0.5781" stop-color="#baff3c"/><stop offset="0.5938" stop-color="#c7ff30"/><stop offset="0.6094" stop-color="#d4ff23"/><stop offset="0.6250" stop-color="#e1ff16"/><stop offset="0.6406" stop-color="#eeff09"/><stop offset="0.6562" stop-color="#fbf100"/><stop offset="0.6719" stop-color="#ffe200"/><stop offset="0.6875" stop-color="#ffd300"/><stop offset="0.7031" stop-color="#ffc400"/><stop offset="0.7188" stop-color="#ffb600"/><stop offset="0.7344" stop-color="#ffa700"/><stop offset="0.7500" stop-color="#ff9800"/><stop offset="0.7656" stop-color="#ff8900"/><stop offset="0.7812" stop-color="#ff7a00"/><stop offset="0.7969" stop-color="#ff6c00"/><stop offset="0.8125" stop-color="#ff5d00"/><stop offset="0.8281" stop-color="#ff4e00"/><stop offset="0.8438" stop-color="#ff3f00"/><stop offset="0.8594" stop-color="#ff3000"/><stop offset="0.8750" stop-color="#ff2200"/><stop offset="0.8906" stop-color="#ff1300"/><stop offset="0.9062" stop-color="#ed0400"/><stop offset="0.9219" stop-color="#da0000"/><stop offset="0.9375" stop-color="#c80000"/><stop offset="0.9531" stop-color="#b60000"/><stop offset="0.9688" stop-color="#a40000"/><stop offset="0.9844" stop-color="#920000"/><stop offset="1.0000" stop-color="#800000"/></linearGradient></defs>
<rect x="1568" y="540" width="18" height="351" fill="#000"/>
<rect x="1569" y="541" width="16" height="349" fill="url(#jetr)"/>
<rect x="1586" y="812" width="4.4" height="1" fill="#000"/>
<rect x="1586" y="715" width="4.4" height="1" fill="#000"/>
<rect x="1586" y="618" width="4.4" height="1" fill="#000"/>
<g font-family="Liberation Sans, sans-serif" fill="#000" opacity="0.999">
<text transform="translate(240.90,502.57) scale(1.0562,1)" font-size="31.34">0</text>
<text transform="translate(499.68,502.57) scale(1.0076,1)" font-size="31.34">5</text>
<text transform="translate(748.52,502.57) scale(1.0529,1)" font-size="31.34">10</text>
<text transform="translate(1006.52,502.57) scale(1.0529,1)" font-size="31.34">15</text>
<text transform="translate(1264.34,502.57) scale(1.0584,1)" font-size="31.34">20</text>
<text transform="translate(149.97,426.24) rotate(-90) scale(0.9209,1)" font-size="32.38">RF</text>
<text transform="translate(149.97,378.72) rotate(-90) scale(1.0651,1)" font-size="32.38">Distance</text>
<text transform="translate(149.97,236.85) rotate(-90) scale(1.1109,1)" font-size="32.38">(km)</text>
<text transform="translate(221.90,481.57) scale(1.0562,1)" font-size="31.34">0</text>
<text transform="translate(163.45,364.57) scale(1.0854,1)" font-size="31.34">1000</text>
<text transform="translate(163.30,247.57) scale(1.0876,1)" font-size="31.34">2000</text>
<text transform="translate(163.87,131.57) scale(1.0792,1)" font-size="31.34">3000</text>
<text transform="translate(543.92,112.37) scale(1.0709,1)" font-size="38.86">2023-06-21</text>
<text transform="translate(766.36,112.37) scale(0.9471,1)" font-size="38.86">ICEBEAR</text>
<text transform="translate(937.36,112.37) scale(1.0637,1)" font-size="38.86">Summary</text>
<text transform="translate(1123.98,112.37) scale(1.0648,1)" font-size="38.86">Plot</text>
<text transform="translate(772.42,956.97) scale(1.0659,1)" font-size="32.38">Time</text>
<text transform="translate(855.65,956.97) scale(1.0864,1)" font-size="32.38">(hours)</text>
<text transform="translate(240.90,922.57) scale(1.0562,1)" font-size="31.34">0</text>
<text transform="translate(499.68,922.57) scale(1.0076,1)" font-size="31.34">5</text>
<text transform="translate(748.52,922.57) scale(1.0529,1)" font-size="31.34">10</text>
<text transform="translate(1006.52,922.57) scale(1.0529,1)" font-size="31.34">15</text>
<text transform="translate(1264.34,922.57) scale(1.0584,1)" font-size="31.34">20</text>
<text transform="translate(149.97,846.24) rotate(-90) scale(0.9209,1)" font-size="32.38">RF</text>
<text transform="translate(149.97,798.72) rotate(-90) scale(1.0651,1)" font-size="32.38">Distance</text>
<text transform="translate(149.97,656.85) rotate(-90) scale(1.1109,1)" font-size="32.38">(km)</text>
<text transform="translate(221.90,901.57) scale(1.0562,1)" font-size="31.34">0</text>
<text transform="translate(163.45,784.57) scale(1.0854,1)" font-size="31.34">1000</text>
<text transform="translate(163.30,667.57) scale(1.0876,1)" font-size="31.34">2000</text>
<text transform="translate(163.87,551.57) scale(1.0792,1)" font-size="31.34">3000</text>
<text transform="translate(1660.97,364.27) rotate(-90) scale(0.9422,1)" font-size="32.38">SNR</text>
<text transform="translate(1660.97,292.76) rotate(-90) scale(1.0572,1)" font-size="32.38">(dB)</text>
<text transform="translate(1595.90,481.57) scale(1.0562,1)" font-size="31.34">0</text>
<text transform="translate(1595.68,393.57) scale(1.0076,1)" font-size="31.34">5</text>
<text transform="translate(1595.53,305.57) scale(1.0529,1)" font-size="31.34">10</text>
<text transform="translate(1595.53,218.57) scale(1.0529,1)" font-size="31.34">15</text>
<text transform="translate(1595.34,131.57) scale(1.0584,1)" font-size="31.34">20</text>
<text transform="translate(1705.64,820.62) rotate(-90) scale(1.0778,1)" font-size="32.38">Doppler</text>
<text transform="translate(1705.64,691.22) rotate(-90) scale(1.0898,1)" font-size="32.38">(m/s)</text>
<text transform="translate(1596.20,823.57) scale(1.1487,1)" font-size="31.34">−500</text>
<text transform="translate(1595.90,725.57) scale(1.0562,1)" font-size="31.34">0</text>
<text transform="translate(1595.59,628.57) scale(1.0825,1)" font-size="31.34">500</text>
</g>
</svg>
</body></html>
